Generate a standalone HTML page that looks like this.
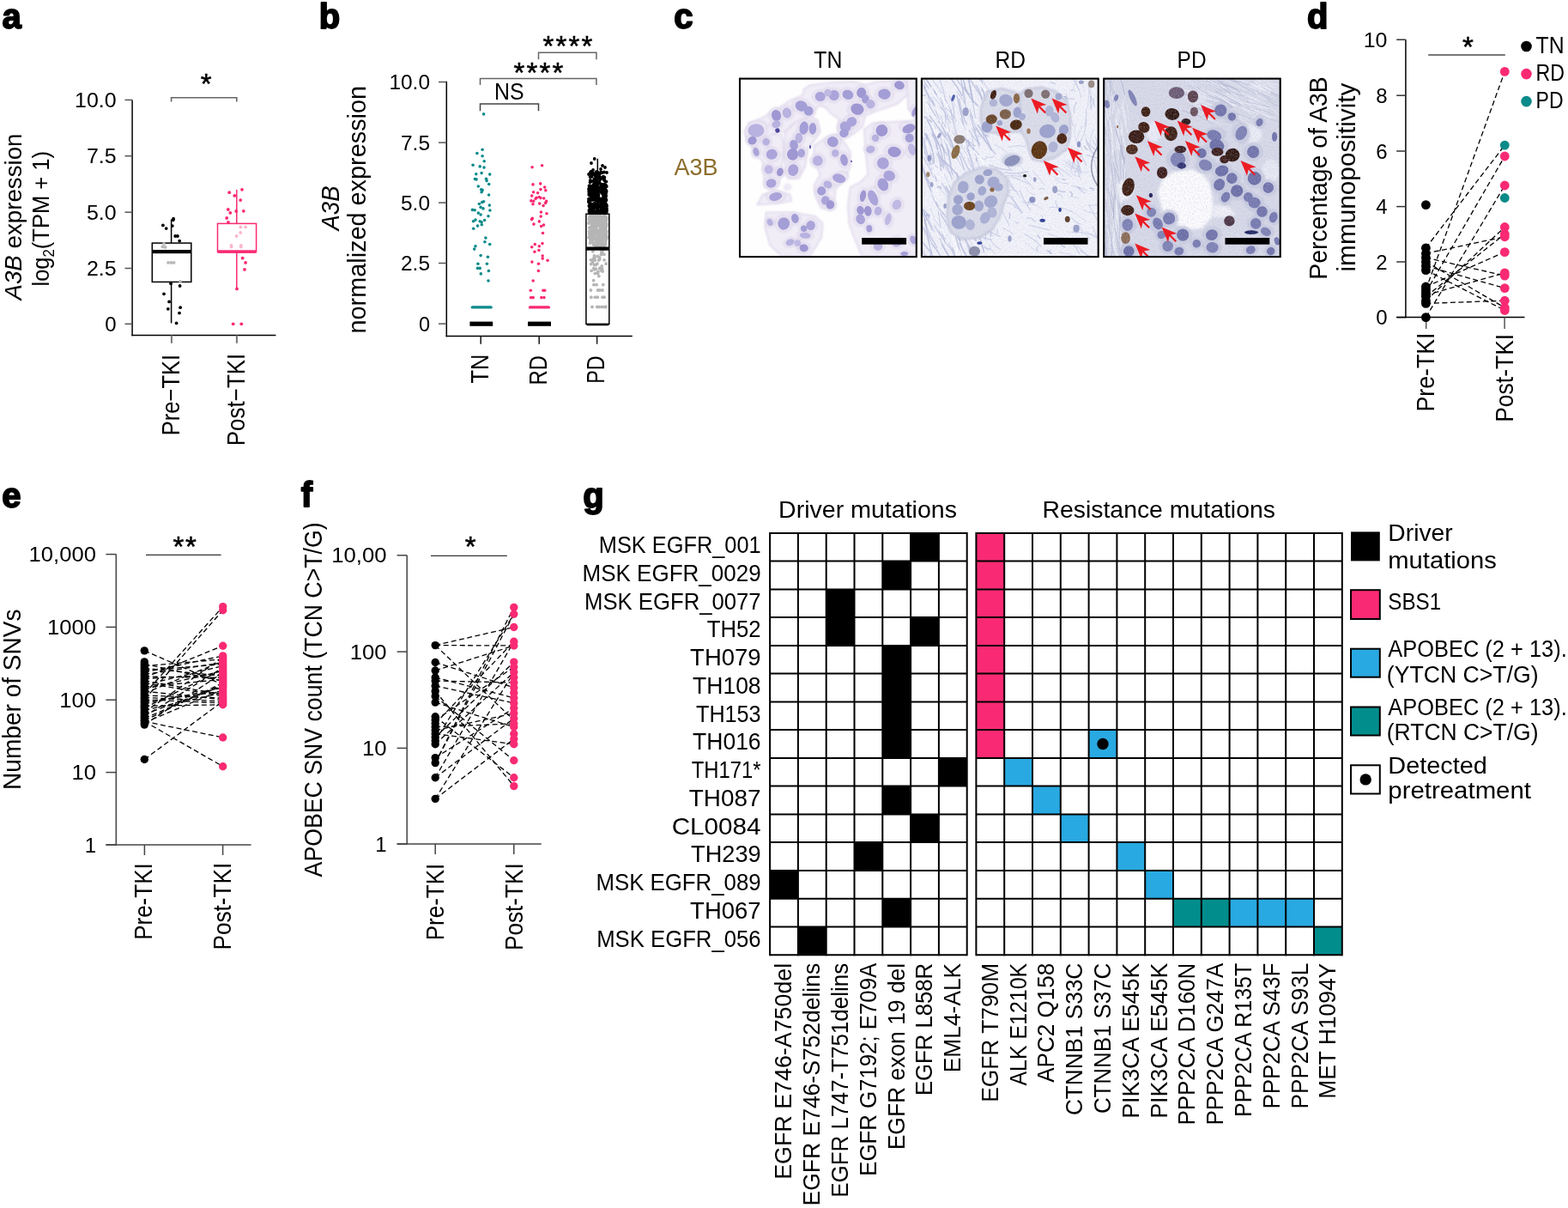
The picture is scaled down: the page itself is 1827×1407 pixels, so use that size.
<!DOCTYPE html>
<html><head><meta charset="utf-8"><title>Figure</title>
<style>html,body{margin:0;padding:0;background:#fff;} svg{display:block;} text{font-family:"Liberation Sans", Arial, sans-serif;}</style>
</head><body>
<svg width="1827" height="1407" viewBox="0 0 1827 1407">
<rect width="1827" height="1407" fill="#fff"/>
<text x="2.5" y="33.0" font-size="40" font-weight="bold" stroke="#000" stroke-width="1.8" stroke-linejoin="round">a</text>
<line x1="154.1" y1="116.4" x2="154.1" y2="391.2" stroke="#000" stroke-width="1.5"/>
<line x1="145.5" y1="116.4" x2="154.1" y2="116.4" stroke="#555" stroke-width="1.5"/>
<text x="135.6" y="124.9" font-size="24" text-anchor="end" textLength="48.6" lengthAdjust="spacingAndGlyphs">10.0</text>
<line x1="145.5" y1="181.7" x2="154.1" y2="181.7" stroke="#555" stroke-width="1.5"/>
<text x="135.6" y="190.2" font-size="24" text-anchor="end" textLength="34.7" lengthAdjust="spacingAndGlyphs">7.5</text>
<line x1="145.5" y1="247.2" x2="154.1" y2="247.2" stroke="#555" stroke-width="1.5"/>
<text x="135.6" y="255.7" font-size="24" text-anchor="end" textLength="34.7" lengthAdjust="spacingAndGlyphs">5.0</text>
<line x1="145.5" y1="312.5" x2="154.1" y2="312.5" stroke="#555" stroke-width="1.5"/>
<text x="135.6" y="321.0" font-size="24" text-anchor="end" textLength="34.7" lengthAdjust="spacingAndGlyphs">2.5</text>
<line x1="145.5" y1="377.3" x2="154.1" y2="377.3" stroke="#555" stroke-width="1.5"/>
<text x="135.6" y="385.8" font-size="24" text-anchor="end">0</text>
<line x1="153.4" y1="390.5" x2="321.4" y2="390.5" stroke="#000" stroke-width="1.5"/>
<line x1="199.9" y1="390.5" x2="199.9" y2="399.8" stroke="#777" stroke-width="2"/>
<line x1="275.9" y1="390.5" x2="275.9" y2="399.8" stroke="#777" stroke-width="2"/>
<text x="208.8" y="507.3" font-size="29" transform="rotate(-90 208.8 507.3)" textLength="94.5" lengthAdjust="spacingAndGlyphs">Pre−TKI</text>
<text x="285.0" y="519.2" font-size="29" transform="rotate(-90 285.0 519.2)" textLength="107.5" lengthAdjust="spacingAndGlyphs">Post−TKI</text>
<text x="24.6" y="349.5" font-size="27.5" transform="rotate(-90 24.6 349.5)" textLength="194" lengthAdjust="spacingAndGlyphs"><tspan font-style="italic">A3B</tspan> expression</text>
<text x="56.7" y="333.5" font-size="27.5" transform="rotate(-90 56.7 333.5)" textLength="157.5" lengthAdjust="spacingAndGlyphs">log<tspan font-size="18" dy="6">2</tspan><tspan dy="-6">(TPM + 1)</tspan></text>
<path d="M199.6 118.6 V113.7 H275.8 V118.6" fill="none" stroke="#666" stroke-width="1.6"/>
<text x="240.2" y="109.4" font-size="33" text-anchor="middle" stroke="#000" stroke-width="0.5">*</text>
<line x1="199.6" y1="255.4" x2="199.6" y2="376.4" stroke="#000" stroke-width="1.5"/>
<rect x="177.3" y="283.1" width="45.5" height="45.3" fill="#fff" stroke="#000" stroke-width="1.5"/>
<circle cx="191.0" cy="284.0" r="1.9" fill="#b8b8b8"/>
<circle cx="192.6" cy="288.0" r="1.9" fill="#b8b8b8"/>
<circle cx="189.4" cy="287.5" r="1.9" fill="#b8b8b8"/>
<circle cx="196.0" cy="305.9" r="1.9" fill="#b8b8b8"/>
<circle cx="199.4" cy="305.9" r="1.9" fill="#b8b8b8"/>
<circle cx="202.6" cy="305.9" r="1.9" fill="#b8b8b8"/>
<circle cx="210.0" cy="328.0" r="1.9" fill="#b8b8b8"/>
<circle cx="202.1" cy="254.7" r="1.9" fill="#000"/>
<circle cx="201.7" cy="256.3" r="1.9" fill="#000"/>
<circle cx="189.9" cy="262.4" r="1.9" fill="#000"/>
<circle cx="200.8" cy="263.1" r="1.9" fill="#000"/>
<circle cx="193.7" cy="266.1" r="1.9" fill="#000"/>
<circle cx="204.2" cy="275.0" r="1.9" fill="#000"/>
<circle cx="206.9" cy="275.0" r="1.9" fill="#000"/>
<circle cx="209.2" cy="280.6" r="1.9" fill="#000"/>
<circle cx="199.0" cy="330.2" r="1.9" fill="#000"/>
<circle cx="209.6" cy="333.0" r="1.9" fill="#000"/>
<circle cx="191.0" cy="342.3" r="1.9" fill="#000"/>
<circle cx="197.1" cy="351.4" r="1.9" fill="#000"/>
<circle cx="195.8" cy="359.8" r="1.9" fill="#000"/>
<circle cx="210.1" cy="358.2" r="1.9" fill="#000"/>
<circle cx="209.0" cy="364.6" r="1.9" fill="#000"/>
<circle cx="205.6" cy="376.4" r="1.9" fill="#000"/>
<rect x="177.3" y="291.0" width="45.5" height="4.2" fill="#000"/>
<line x1="275.8" y1="221.0" x2="275.8" y2="336.4" stroke="#f92a73" stroke-width="1.5"/>
<rect x="253.5" y="260.4" width="45.1" height="32.7" fill="#fff" stroke="#f92a73" stroke-width="1.5"/>
<circle cx="280.4" cy="264.5" r="1.9" fill="#fbb6cf"/>
<circle cx="286.1" cy="264.5" r="1.9" fill="#fbb6cf"/>
<circle cx="280.2" cy="271.0" r="1.9" fill="#fbb6cf"/>
<circle cx="275.6" cy="275.0" r="1.9" fill="#fbb6cf"/>
<circle cx="269.5" cy="285.9" r="1.9" fill="#fbb6cf"/>
<circle cx="280.8" cy="285.9" r="1.9" fill="#fbb6cf"/>
<circle cx="269.5" cy="287.5" r="1.9" fill="#fbb6cf"/>
<circle cx="280.8" cy="287.5" r="1.9" fill="#fbb6cf"/>
<circle cx="282.0" cy="220.8" r="1.9" fill="#f92a73"/>
<circle cx="267.2" cy="224.2" r="1.9" fill="#f92a73"/>
<circle cx="273.3" cy="227.9" r="1.9" fill="#f92a73"/>
<circle cx="280.2" cy="233.1" r="1.9" fill="#f92a73"/>
<circle cx="265.8" cy="244.0" r="1.9" fill="#f92a73"/>
<circle cx="268.3" cy="247.9" r="1.9" fill="#f92a73"/>
<circle cx="275.2" cy="246.0" r="1.9" fill="#f92a73"/>
<circle cx="283.8" cy="245.8" r="1.9" fill="#f92a73"/>
<circle cx="264.2" cy="254.0" r="1.9" fill="#f92a73"/>
<circle cx="266.0" cy="259.0" r="1.9" fill="#f92a73"/>
<circle cx="282.7" cy="300.7" r="1.9" fill="#f92a73"/>
<circle cx="286.1" cy="305.9" r="1.9" fill="#f92a73"/>
<circle cx="285.0" cy="313.9" r="1.9" fill="#f92a73"/>
<circle cx="276.0" cy="336.4" r="1.9" fill="#f92a73"/>
<circle cx="271.7" cy="377.3" r="1.9" fill="#f92a73"/>
<circle cx="281.3" cy="377.3" r="1.9" fill="#f92a73"/>
<rect x="253.5" y="291.3" width="45.1" height="3.6" fill="#f92a73"/>
<text x="371.8" y="33.0" font-size="40" font-weight="bold" stroke="#000" stroke-width="1.8" stroke-linejoin="round">b</text>
<line x1="520.3" y1="94.8" x2="520.3" y2="392.2" stroke="#000" stroke-width="1.5"/>
<line x1="511.0" y1="95.5" x2="520.3" y2="95.5" stroke="#555" stroke-width="1.5"/>
<text x="501.0" y="104.0" font-size="23.5" text-anchor="end" textLength="47.6" lengthAdjust="spacingAndGlyphs">10.0</text>
<line x1="511.0" y1="166.1" x2="520.3" y2="166.1" stroke="#555" stroke-width="1.5"/>
<text x="501.0" y="174.6" font-size="23.5" text-anchor="end" textLength="34.0" lengthAdjust="spacingAndGlyphs">7.5</text>
<line x1="511.0" y1="236.1" x2="520.3" y2="236.1" stroke="#555" stroke-width="1.5"/>
<text x="501.0" y="244.6" font-size="23.5" text-anchor="end" textLength="34.0" lengthAdjust="spacingAndGlyphs">5.0</text>
<line x1="511.0" y1="306.5" x2="520.3" y2="306.5" stroke="#555" stroke-width="1.5"/>
<text x="501.0" y="315.0" font-size="23.5" text-anchor="end" textLength="34.0" lengthAdjust="spacingAndGlyphs">2.5</text>
<line x1="511.0" y1="377.1" x2="520.3" y2="377.1" stroke="#555" stroke-width="1.5"/>
<text x="501.0" y="385.6" font-size="23.5" text-anchor="end">0</text>
<line x1="519.6" y1="391.5" x2="736.8" y2="391.5" stroke="#000" stroke-width="1.5"/>
<line x1="560.2" y1="391.5" x2="560.2" y2="400.7" stroke="#222" stroke-width="1.6"/>
<line x1="628.2" y1="391.5" x2="628.2" y2="400.7" stroke="#222" stroke-width="1.6"/>
<line x1="695.6" y1="391.5" x2="695.6" y2="400.7" stroke="#222" stroke-width="1.6"/>
<text x="569.1" y="446.6" font-size="29" transform="rotate(-90 569.1 446.6)" textLength="34.0" lengthAdjust="spacingAndGlyphs">TN</text>
<text x="637.0" y="448.6" font-size="29" transform="rotate(-90 637.0 448.6)" textLength="34.5" lengthAdjust="spacingAndGlyphs">RD</text>
<text x="704.5" y="446.8" font-size="29" transform="rotate(-90 704.5 446.8)" textLength="32.5" lengthAdjust="spacingAndGlyphs">PD</text>
<text x="394.5" y="242.5" font-size="29" text-anchor="middle" transform="rotate(-90 394.5 242.5)" textLength="52.0" lengthAdjust="spacingAndGlyphs" font-style="italic">A3B</text>
<text x="425.6" y="244.2" font-size="29" text-anchor="middle" transform="rotate(-90 425.6 244.2)" textLength="288.5" lengthAdjust="spacingAndGlyphs">normalized expression</text>
<path d="M559.5 129.2 V121 H627.5 V129.2" fill="none" stroke="#444" stroke-width="1.5"/>
<path d="M559.5 99.1 V91.6 H694.9 V99.1" fill="none" stroke="#666" stroke-width="1.5"/>
<path d="M627.5 69.3 V61.2 H694.9 V69.3" fill="none" stroke="#666" stroke-width="1.5"/>
<text x="593.3" y="116.1" font-size="28.5" text-anchor="middle" textLength="34.5" lengthAdjust="spacingAndGlyphs">NS</text>
<text x="605.0" y="96.0" font-size="33" text-anchor="middle" stroke="#000" stroke-width="0.5">*</text>
<text x="638.8" y="65.2" font-size="33" text-anchor="middle" stroke="#000" stroke-width="0.5">*</text>
<text x="620.0" y="96.0" font-size="33" text-anchor="middle" stroke="#000" stroke-width="0.5">*</text>
<text x="653.8" y="65.2" font-size="33" text-anchor="middle" stroke="#000" stroke-width="0.5">*</text>
<text x="635.0" y="96.0" font-size="33" text-anchor="middle" stroke="#000" stroke-width="0.5">*</text>
<text x="668.8" y="65.2" font-size="33" text-anchor="middle" stroke="#000" stroke-width="0.5">*</text>
<text x="650.0" y="96.0" font-size="33" text-anchor="middle" stroke="#000" stroke-width="0.5">*</text>
<text x="683.8" y="65.2" font-size="33" text-anchor="middle" stroke="#000" stroke-width="0.5">*</text>
<circle cx="563.6" cy="132.9" r="1.8" fill="#0a8a8a"/>
<circle cx="562.1" cy="174.3" r="1.8" fill="#0a8a8a"/>
<circle cx="555.9" cy="178.6" r="1.8" fill="#0a8a8a"/>
<circle cx="562.1" cy="181.8" r="1.8" fill="#0a8a8a"/>
<circle cx="564.2" cy="187.8" r="1.8" fill="#0a8a8a"/>
<circle cx="551.1" cy="192.2" r="1.8" fill="#0a8a8a"/>
<circle cx="559.2" cy="193.9" r="1.8" fill="#0a8a8a"/>
<circle cx="564.0" cy="195.1" r="1.8" fill="#0a8a8a"/>
<circle cx="554.8" cy="202.8" r="1.8" fill="#0a8a8a"/>
<circle cx="561.1" cy="201.6" r="1.8" fill="#0a8a8a"/>
<circle cx="570.7" cy="203.1" r="1.8" fill="#0a8a8a"/>
<circle cx="553.4" cy="208.5" r="1.8" fill="#0a8a8a"/>
<circle cx="555.0" cy="208.9" r="1.8" fill="#0a8a8a"/>
<circle cx="566.5" cy="208.3" r="1.8" fill="#0a8a8a"/>
<circle cx="567.1" cy="210.6" r="1.8" fill="#0a8a8a"/>
<circle cx="569.7" cy="214.5" r="1.8" fill="#0a8a8a"/>
<circle cx="557.3" cy="217.0" r="1.8" fill="#0a8a8a"/>
<circle cx="560.7" cy="220.8" r="1.8" fill="#0a8a8a"/>
<circle cx="562.1" cy="221.4" r="1.8" fill="#0a8a8a"/>
<circle cx="561.1" cy="223.7" r="1.8" fill="#0a8a8a"/>
<circle cx="569.6" cy="227.0" r="1.8" fill="#0a8a8a"/>
<circle cx="563.6" cy="234.8" r="1.8" fill="#0a8a8a"/>
<circle cx="561.7" cy="235.6" r="1.8" fill="#0a8a8a"/>
<circle cx="558.4" cy="237.5" r="1.8" fill="#0a8a8a"/>
<circle cx="570.3" cy="239.1" r="1.8" fill="#0a8a8a"/>
<circle cx="560.1" cy="241.4" r="1.8" fill="#0a8a8a"/>
<circle cx="563.0" cy="242.9" r="1.8" fill="#0a8a8a"/>
<circle cx="550.5" cy="244.4" r="1.8" fill="#0a8a8a"/>
<circle cx="553.2" cy="244.8" r="1.8" fill="#0a8a8a"/>
<circle cx="570.9" cy="245.0" r="1.8" fill="#0a8a8a"/>
<circle cx="557.3" cy="248.1" r="1.8" fill="#0a8a8a"/>
<circle cx="560.1" cy="250.0" r="1.8" fill="#0a8a8a"/>
<circle cx="569.0" cy="251.7" r="1.8" fill="#0a8a8a"/>
<circle cx="554.0" cy="256.1" r="1.8" fill="#0a8a8a"/>
<circle cx="551.5" cy="257.7" r="1.8" fill="#0a8a8a"/>
<circle cx="559.2" cy="257.7" r="1.8" fill="#0a8a8a"/>
<circle cx="564.6" cy="256.5" r="1.8" fill="#0a8a8a"/>
<circle cx="561.1" cy="258.8" r="1.8" fill="#0a8a8a"/>
<circle cx="561.3" cy="261.7" r="1.8" fill="#0a8a8a"/>
<circle cx="556.5" cy="263.1" r="1.8" fill="#0a8a8a"/>
<circle cx="551.7" cy="266.3" r="1.8" fill="#0a8a8a"/>
<circle cx="565.9" cy="277.1" r="1.8" fill="#0a8a8a"/>
<circle cx="564.9" cy="281.7" r="1.8" fill="#0a8a8a"/>
<circle cx="570.7" cy="284.6" r="1.8" fill="#0a8a8a"/>
<circle cx="554.0" cy="286.7" r="1.8" fill="#0a8a8a"/>
<circle cx="552.7" cy="290.1" r="1.8" fill="#0a8a8a"/>
<circle cx="560.1" cy="297.6" r="1.8" fill="#0a8a8a"/>
<circle cx="568.4" cy="299.2" r="1.8" fill="#0a8a8a"/>
<circle cx="556.9" cy="307.2" r="1.8" fill="#0a8a8a"/>
<circle cx="567.4" cy="307.2" r="1.8" fill="#0a8a8a"/>
<circle cx="556.5" cy="312.4" r="1.8" fill="#0a8a8a"/>
<circle cx="559.2" cy="312.4" r="1.8" fill="#0a8a8a"/>
<circle cx="569.4" cy="315.5" r="1.8" fill="#0a8a8a"/>
<circle cx="560.3" cy="318.9" r="1.8" fill="#0a8a8a"/>
<circle cx="569.0" cy="327.0" r="1.8" fill="#0a8a8a"/>
<circle cx="620.1" cy="194.7" r="1.8" fill="#f92a73"/>
<circle cx="631.6" cy="192.8" r="1.8" fill="#f92a73"/>
<circle cx="621.0" cy="214.9" r="1.8" fill="#f92a73"/>
<circle cx="629.7" cy="213.9" r="1.8" fill="#f92a73"/>
<circle cx="634.7" cy="218.1" r="1.8" fill="#f92a73"/>
<circle cx="629.9" cy="220.6" r="1.8" fill="#f92a73"/>
<circle cx="635.8" cy="221.8" r="1.8" fill="#f92a73"/>
<circle cx="621.6" cy="223.7" r="1.8" fill="#f92a73"/>
<circle cx="626.6" cy="224.8" r="1.8" fill="#f92a73"/>
<circle cx="619.7" cy="228.1" r="1.8" fill="#f92a73"/>
<circle cx="625.2" cy="230.2" r="1.8" fill="#f92a73"/>
<circle cx="628.3" cy="229.5" r="1.8" fill="#f92a73"/>
<circle cx="629.9" cy="230.6" r="1.8" fill="#f92a73"/>
<circle cx="633.7" cy="231.0" r="1.8" fill="#f92a73"/>
<circle cx="618.9" cy="233.9" r="1.8" fill="#f92a73"/>
<circle cx="621.6" cy="234.3" r="1.8" fill="#f92a73"/>
<circle cx="624.1" cy="231.4" r="1.8" fill="#f92a73"/>
<circle cx="636.6" cy="234.4" r="1.8" fill="#f92a73"/>
<circle cx="621.0" cy="237.7" r="1.8" fill="#f92a73"/>
<circle cx="628.7" cy="237.1" r="1.8" fill="#f92a73"/>
<circle cx="635.6" cy="236.4" r="1.8" fill="#f92a73"/>
<circle cx="633.1" cy="239.6" r="1.8" fill="#f92a73"/>
<circle cx="630.4" cy="247.1" r="1.8" fill="#f92a73"/>
<circle cx="637.0" cy="248.8" r="1.8" fill="#f92a73"/>
<circle cx="630.2" cy="252.1" r="1.8" fill="#f92a73"/>
<circle cx="620.3" cy="254.4" r="1.8" fill="#f92a73"/>
<circle cx="619.5" cy="255.6" r="1.8" fill="#f92a73"/>
<circle cx="628.3" cy="257.9" r="1.8" fill="#f92a73"/>
<circle cx="622.0" cy="261.1" r="1.8" fill="#f92a73"/>
<circle cx="633.5" cy="262.1" r="1.8" fill="#f92a73"/>
<circle cx="630.6" cy="263.6" r="1.8" fill="#f92a73"/>
<circle cx="632.5" cy="271.5" r="1.8" fill="#f92a73"/>
<circle cx="623.3" cy="284.6" r="1.8" fill="#f92a73"/>
<circle cx="632.0" cy="283.6" r="1.8" fill="#f92a73"/>
<circle cx="619.7" cy="287.8" r="1.8" fill="#f92a73"/>
<circle cx="628.3" cy="286.7" r="1.8" fill="#f92a73"/>
<circle cx="622.9" cy="293.2" r="1.8" fill="#f92a73"/>
<circle cx="627.9" cy="291.5" r="1.8" fill="#f92a73"/>
<circle cx="632.2" cy="298.0" r="1.8" fill="#f92a73"/>
<circle cx="632.2" cy="301.1" r="1.8" fill="#f92a73"/>
<circle cx="638.1" cy="303.2" r="1.8" fill="#f92a73"/>
<circle cx="619.9" cy="305.1" r="1.8" fill="#f92a73"/>
<circle cx="627.5" cy="307.2" r="1.8" fill="#f92a73"/>
<circle cx="627.4" cy="315.5" r="1.8" fill="#f92a73"/>
<circle cx="621.2" cy="327.0" r="1.8" fill="#f92a73"/>
<circle cx="618.3" cy="338.3" r="1.8" fill="#f92a73"/>
<circle cx="632.9" cy="338.3" r="1.8" fill="#f92a73"/>
<circle cx="634.7" cy="338.3" r="1.8" fill="#f92a73"/>
<circle cx="618.7" cy="346.6" r="1.8" fill="#f92a73"/>
<circle cx="621.2" cy="346.6" r="1.8" fill="#f92a73"/>
<circle cx="630.8" cy="346.6" r="1.8" fill="#f92a73"/>
<circle cx="633.9" cy="346.6" r="1.8" fill="#f92a73"/>
<line x1="550.2" y1="357.9" x2="572.2" y2="357.9" stroke="#0a8a8a" stroke-width="3.2" stroke-linecap="round"/>
<line x1="617.4" y1="357.9" x2="639.5" y2="357.9" stroke="#f92a73" stroke-width="3.2" stroke-linecap="round"/>
<rect x="547.4" y="374.6" width="26.8" height="5.2" fill="#000"/>
<rect x="615.1" y="374.6" width="26.9" height="5.2" fill="#000"/>
<line x1="696.3" y1="184.8" x2="696.3" y2="249.2" stroke="#000" stroke-width="1.5"/>
<circle cx="692.7" cy="185.0" r="1.9" fill="#000"/>
<circle cx="689.0" cy="190.0" r="1.9" fill="#000"/>
<circle cx="702.0" cy="193.0" r="1.9" fill="#000"/>
<circle cx="705.0" cy="195.0" r="1.9" fill="#000"/>
<circle cx="688.5" cy="200.0" r="1.9" fill="#000"/>
<circle cx="691.0" cy="198.0" r="1.9" fill="#000"/>
<circle cx="700.0" cy="197.0" r="1.9" fill="#000"/>
<circle cx="707.0" cy="201.0" r="1.9" fill="#000"/>
<circle cx="686.0" cy="203.0" r="1.9" fill="#000"/>
<circle cx="689.5" cy="205.8" r="1.9" fill="#000"/>
<circle cx="687.9" cy="211.7" r="1.9" fill="#000"/>
<circle cx="693.8" cy="209.6" r="1.9" fill="#000"/>
<circle cx="696.6" cy="201.0" r="1.9" fill="#000"/>
<circle cx="695.2" cy="200.7" r="1.9" fill="#000"/>
<circle cx="688.3" cy="201.3" r="1.9" fill="#000"/>
<circle cx="703.0" cy="207.6" r="1.9" fill="#000"/>
<circle cx="691.0" cy="202.2" r="1.9" fill="#000"/>
<circle cx="705.5" cy="211.3" r="1.9" fill="#000"/>
<circle cx="694.4" cy="210.4" r="1.9" fill="#000"/>
<circle cx="687.4" cy="217.6" r="1.9" fill="#000"/>
<circle cx="692.3" cy="215.5" r="1.9" fill="#000"/>
<circle cx="688.9" cy="202.6" r="1.9" fill="#000"/>
<circle cx="702.8" cy="205.6" r="1.9" fill="#000"/>
<circle cx="698.1" cy="203.3" r="1.9" fill="#000"/>
<circle cx="693.9" cy="211.5" r="1.9" fill="#000"/>
<circle cx="687.8" cy="209.9" r="1.9" fill="#000"/>
<circle cx="690.6" cy="201.1" r="1.9" fill="#000"/>
<circle cx="695.1" cy="212.2" r="1.9" fill="#000"/>
<circle cx="698.2" cy="205.7" r="1.9" fill="#000"/>
<circle cx="692.5" cy="208.2" r="1.9" fill="#000"/>
<circle cx="700.5" cy="214.3" r="1.9" fill="#000"/>
<circle cx="698.0" cy="204.4" r="1.9" fill="#000"/>
<circle cx="704.0" cy="209.5" r="1.9" fill="#000"/>
<circle cx="692.3" cy="213.1" r="1.9" fill="#000"/>
<circle cx="688.9" cy="217.6" r="1.9" fill="#000"/>
<circle cx="701.6" cy="207.5" r="1.9" fill="#000"/>
<circle cx="696.3" cy="202.7" r="1.9" fill="#000"/>
<circle cx="699.9" cy="200.7" r="1.9" fill="#000"/>
<circle cx="698.0" cy="213.8" r="1.9" fill="#000"/>
<circle cx="692.8" cy="215.8" r="1.9" fill="#000"/>
<circle cx="698.4" cy="212.5" r="1.9" fill="#000"/>
<circle cx="695.6" cy="210.4" r="1.9" fill="#000"/>
<circle cx="705.4" cy="215.1" r="1.9" fill="#000"/>
<circle cx="699.8" cy="208.5" r="1.9" fill="#000"/>
<circle cx="700.5" cy="201.1" r="1.9" fill="#000"/>
<circle cx="706.4" cy="211.6" r="1.9" fill="#000"/>
<circle cx="692.2" cy="214.8" r="1.9" fill="#000"/>
<circle cx="699.9" cy="206.9" r="1.9" fill="#000"/>
<circle cx="695.7" cy="200.4" r="1.9" fill="#000"/>
<circle cx="688.8" cy="203.0" r="1.9" fill="#000"/>
<circle cx="701.9" cy="201.1" r="1.9" fill="#000"/>
<circle cx="691.5" cy="202.3" r="1.9" fill="#000"/>
<circle cx="703.9" cy="207.0" r="1.9" fill="#000"/>
<circle cx="695.5" cy="201.5" r="1.9" fill="#000"/>
<circle cx="704.2" cy="209.9" r="1.9" fill="#000"/>
<circle cx="703.8" cy="214.7" r="1.9" fill="#000"/>
<circle cx="694.8" cy="205.0" r="1.9" fill="#000"/>
<circle cx="704.2" cy="206.5" r="1.9" fill="#000"/>
<circle cx="689.5" cy="217.2" r="1.9" fill="#000"/>
<circle cx="691.1" cy="203.2" r="1.9" fill="#000"/>
<circle cx="696.2" cy="204.2" r="1.9" fill="#000"/>
<circle cx="691.8" cy="210.6" r="1.9" fill="#000"/>
<circle cx="694.9" cy="200.1" r="1.9" fill="#000"/>
<circle cx="697.8" cy="206.6" r="1.9" fill="#000"/>
<circle cx="700.3" cy="217.2" r="1.9" fill="#000"/>
<circle cx="698.9" cy="209.3" r="1.9" fill="#000"/>
<circle cx="687.6" cy="212.2" r="1.9" fill="#000"/>
<circle cx="702.1" cy="216.2" r="1.9" fill="#000"/>
<circle cx="702.5" cy="215.7" r="1.9" fill="#000"/>
<circle cx="694.5" cy="207.1" r="1.9" fill="#000"/>
<circle cx="699.2" cy="201.9" r="1.9" fill="#000"/>
<circle cx="687.8" cy="201.1" r="1.9" fill="#000"/>
<circle cx="689.7" cy="203.8" r="1.9" fill="#000"/>
<circle cx="687.6" cy="206.1" r="1.9" fill="#000"/>
<circle cx="689.5" cy="200.0" r="1.9" fill="#000"/>
<circle cx="693.8" cy="201.8" r="1.9" fill="#000"/>
<circle cx="704.0" cy="200.5" r="1.9" fill="#000"/>
<circle cx="689.5" cy="211.1" r="1.9" fill="#000"/>
<circle cx="693.4" cy="204.5" r="1.9" fill="#000"/>
<circle cx="688.6" cy="227.4" r="1.9" fill="#000"/>
<circle cx="706.9" cy="243.9" r="1.9" fill="#000"/>
<circle cx="696.2" cy="230.8" r="1.9" fill="#000"/>
<circle cx="688.1" cy="217.9" r="1.9" fill="#000"/>
<circle cx="691.6" cy="226.6" r="1.9" fill="#000"/>
<circle cx="689.4" cy="243.2" r="1.9" fill="#000"/>
<circle cx="706.0" cy="215.8" r="1.9" fill="#000"/>
<circle cx="689.1" cy="233.0" r="1.9" fill="#000"/>
<circle cx="686.6" cy="233.5" r="1.9" fill="#000"/>
<circle cx="706.5" cy="233.0" r="1.9" fill="#000"/>
<circle cx="700.6" cy="244.4" r="1.9" fill="#000"/>
<circle cx="693.7" cy="223.9" r="1.9" fill="#000"/>
<circle cx="702.2" cy="220.7" r="1.9" fill="#000"/>
<circle cx="702.4" cy="233.1" r="1.9" fill="#000"/>
<circle cx="690.7" cy="226.2" r="1.9" fill="#000"/>
<circle cx="706.7" cy="242.6" r="1.9" fill="#000"/>
<circle cx="702.9" cy="244.0" r="1.9" fill="#000"/>
<circle cx="701.5" cy="242.8" r="1.9" fill="#000"/>
<circle cx="696.9" cy="222.7" r="1.9" fill="#000"/>
<circle cx="686.6" cy="227.1" r="1.9" fill="#000"/>
<circle cx="691.9" cy="215.9" r="1.9" fill="#000"/>
<circle cx="700.5" cy="223.8" r="1.9" fill="#000"/>
<circle cx="695.4" cy="247.5" r="1.9" fill="#000"/>
<circle cx="706.7" cy="246.9" r="1.9" fill="#000"/>
<circle cx="693.7" cy="247.5" r="1.9" fill="#000"/>
<circle cx="690.8" cy="222.5" r="1.9" fill="#000"/>
<circle cx="690.3" cy="221.7" r="1.9" fill="#000"/>
<circle cx="704.9" cy="236.2" r="1.9" fill="#000"/>
<circle cx="696.1" cy="243.6" r="1.9" fill="#000"/>
<circle cx="702.8" cy="237.2" r="1.9" fill="#000"/>
<circle cx="699.9" cy="217.9" r="1.9" fill="#000"/>
<circle cx="702.4" cy="245.9" r="1.9" fill="#000"/>
<circle cx="696.0" cy="240.5" r="1.9" fill="#000"/>
<circle cx="702.6" cy="221.1" r="1.9" fill="#000"/>
<circle cx="702.8" cy="226.3" r="1.9" fill="#000"/>
<circle cx="694.3" cy="248.0" r="1.9" fill="#000"/>
<circle cx="705.9" cy="228.6" r="1.9" fill="#000"/>
<circle cx="689.6" cy="239.6" r="1.9" fill="#000"/>
<circle cx="689.2" cy="219.3" r="1.9" fill="#000"/>
<circle cx="702.9" cy="245.8" r="1.9" fill="#000"/>
<circle cx="703.4" cy="220.0" r="1.9" fill="#000"/>
<circle cx="699.8" cy="248.3" r="1.9" fill="#000"/>
<circle cx="697.5" cy="226.9" r="1.9" fill="#000"/>
<circle cx="686.3" cy="219.5" r="1.9" fill="#000"/>
<circle cx="699.6" cy="248.0" r="1.9" fill="#000"/>
<circle cx="705.6" cy="232.9" r="1.9" fill="#000"/>
<circle cx="704.3" cy="229.7" r="1.9" fill="#000"/>
<circle cx="690.4" cy="243.1" r="1.9" fill="#000"/>
<circle cx="692.2" cy="223.6" r="1.9" fill="#000"/>
<circle cx="698.3" cy="223.2" r="1.9" fill="#000"/>
<circle cx="694.8" cy="223.8" r="1.9" fill="#000"/>
<circle cx="705.1" cy="219.5" r="1.9" fill="#000"/>
<circle cx="695.6" cy="227.0" r="1.9" fill="#000"/>
<circle cx="705.0" cy="234.8" r="1.9" fill="#000"/>
<circle cx="705.3" cy="229.3" r="1.9" fill="#000"/>
<circle cx="697.2" cy="232.1" r="1.9" fill="#000"/>
<circle cx="686.4" cy="232.8" r="1.9" fill="#000"/>
<circle cx="689.8" cy="230.0" r="1.9" fill="#000"/>
<circle cx="702.8" cy="215.1" r="1.9" fill="#000"/>
<circle cx="695.9" cy="220.9" r="1.9" fill="#000"/>
<circle cx="697.7" cy="239.7" r="1.9" fill="#000"/>
<circle cx="696.9" cy="226.1" r="1.9" fill="#000"/>
<circle cx="702.5" cy="233.9" r="1.9" fill="#000"/>
<circle cx="697.8" cy="218.6" r="1.9" fill="#000"/>
<circle cx="691.8" cy="223.4" r="1.9" fill="#000"/>
<circle cx="696.7" cy="241.3" r="1.9" fill="#000"/>
<circle cx="702.0" cy="234.1" r="1.9" fill="#000"/>
<circle cx="695.3" cy="246.0" r="1.9" fill="#000"/>
<circle cx="696.6" cy="235.8" r="1.9" fill="#000"/>
<circle cx="700.5" cy="232.4" r="1.9" fill="#000"/>
<circle cx="697.2" cy="230.4" r="1.9" fill="#000"/>
<circle cx="705.8" cy="231.3" r="1.9" fill="#000"/>
<circle cx="704.4" cy="238.8" r="1.9" fill="#000"/>
<circle cx="691.5" cy="247.0" r="1.9" fill="#000"/>
<circle cx="705.8" cy="234.0" r="1.9" fill="#000"/>
<circle cx="688.9" cy="243.6" r="1.9" fill="#000"/>
<circle cx="695.3" cy="219.1" r="1.9" fill="#000"/>
<circle cx="691.1" cy="217.5" r="1.9" fill="#000"/>
<circle cx="700.1" cy="217.5" r="1.9" fill="#000"/>
<circle cx="704.8" cy="241.7" r="1.9" fill="#000"/>
<circle cx="701.0" cy="220.3" r="1.9" fill="#000"/>
<circle cx="689.0" cy="237.4" r="1.9" fill="#000"/>
<circle cx="706.3" cy="245.0" r="1.9" fill="#000"/>
<circle cx="706.0" cy="222.5" r="1.9" fill="#000"/>
<circle cx="696.2" cy="228.5" r="1.9" fill="#000"/>
<circle cx="703.5" cy="248.7" r="1.9" fill="#000"/>
<circle cx="695.1" cy="220.5" r="1.9" fill="#000"/>
<circle cx="693.1" cy="232.5" r="1.9" fill="#000"/>
<circle cx="692.7" cy="221.7" r="1.9" fill="#000"/>
<circle cx="686.4" cy="239.6" r="1.9" fill="#000"/>
<circle cx="695.2" cy="233.8" r="1.9" fill="#000"/>
<circle cx="693.0" cy="215.6" r="1.9" fill="#000"/>
<circle cx="696.8" cy="236.2" r="1.9" fill="#000"/>
<circle cx="706.7" cy="217.2" r="1.9" fill="#000"/>
<circle cx="706.4" cy="241.8" r="1.9" fill="#000"/>
<circle cx="691.6" cy="218.6" r="1.9" fill="#000"/>
<circle cx="702.4" cy="216.3" r="1.9" fill="#000"/>
<circle cx="688.7" cy="224.2" r="1.9" fill="#000"/>
<circle cx="705.1" cy="229.4" r="1.9" fill="#000"/>
<circle cx="691.4" cy="242.8" r="1.9" fill="#000"/>
<circle cx="705.3" cy="220.1" r="1.9" fill="#000"/>
<circle cx="700.7" cy="234.4" r="1.9" fill="#000"/>
<circle cx="687.2" cy="218.0" r="1.9" fill="#000"/>
<circle cx="694.9" cy="238.4" r="1.9" fill="#000"/>
<circle cx="705.7" cy="217.5" r="1.9" fill="#000"/>
<circle cx="702.8" cy="236.6" r="1.9" fill="#000"/>
<circle cx="704.0" cy="217.8" r="1.9" fill="#000"/>
<circle cx="704.1" cy="217.3" r="1.9" fill="#000"/>
<circle cx="693.1" cy="230.4" r="1.9" fill="#000"/>
<circle cx="705.5" cy="233.8" r="1.9" fill="#000"/>
<circle cx="688.7" cy="224.1" r="1.9" fill="#000"/>
<circle cx="691.0" cy="232.9" r="1.9" fill="#000"/>
<circle cx="689.4" cy="218.7" r="1.9" fill="#000"/>
<circle cx="690.2" cy="216.7" r="1.9" fill="#000"/>
<circle cx="692.4" cy="225.6" r="1.9" fill="#000"/>
<circle cx="692.1" cy="240.8" r="1.9" fill="#000"/>
<circle cx="689.7" cy="232.0" r="1.9" fill="#000"/>
<circle cx="686.4" cy="226.8" r="1.9" fill="#000"/>
<circle cx="686.3" cy="223.5" r="1.9" fill="#000"/>
<circle cx="697.6" cy="239.9" r="1.9" fill="#000"/>
<circle cx="696.0" cy="221.4" r="1.9" fill="#000"/>
<circle cx="688.2" cy="246.8" r="1.9" fill="#000"/>
<circle cx="695.1" cy="242.8" r="1.9" fill="#000"/>
<circle cx="703.5" cy="231.8" r="1.9" fill="#000"/>
<circle cx="696.6" cy="228.4" r="1.9" fill="#000"/>
<circle cx="706.6" cy="238.4" r="1.9" fill="#000"/>
<circle cx="703.5" cy="226.7" r="1.9" fill="#000"/>
<circle cx="699.4" cy="239.0" r="1.9" fill="#000"/>
<circle cx="693.3" cy="228.8" r="1.9" fill="#000"/>
<circle cx="688.7" cy="216.8" r="1.9" fill="#000"/>
<circle cx="701.6" cy="217.4" r="1.9" fill="#000"/>
<circle cx="689.4" cy="223.7" r="1.9" fill="#000"/>
<circle cx="703.7" cy="217.9" r="1.9" fill="#000"/>
<circle cx="700.1" cy="244.6" r="1.9" fill="#000"/>
<circle cx="691.1" cy="224.6" r="1.9" fill="#000"/>
<circle cx="695.6" cy="225.0" r="1.9" fill="#000"/>
<circle cx="695.4" cy="220.4" r="1.9" fill="#000"/>
<circle cx="706.2" cy="224.0" r="1.9" fill="#000"/>
<circle cx="697.5" cy="248.1" r="1.9" fill="#000"/>
<circle cx="706.3" cy="223.3" r="1.9" fill="#000"/>
<circle cx="693.5" cy="225.5" r="1.9" fill="#000"/>
<circle cx="694.0" cy="215.0" r="1.9" fill="#000"/>
<circle cx="696.6" cy="231.1" r="1.9" fill="#000"/>
<circle cx="696.6" cy="221.8" r="1.9" fill="#000"/>
<circle cx="691.5" cy="215.2" r="1.9" fill="#000"/>
<circle cx="694.4" cy="218.1" r="1.9" fill="#000"/>
<circle cx="686.5" cy="216.4" r="1.9" fill="#000"/>
<circle cx="690.9" cy="225.3" r="1.9" fill="#000"/>
<circle cx="697.1" cy="234.9" r="1.9" fill="#000"/>
<circle cx="699.8" cy="240.5" r="1.9" fill="#000"/>
<circle cx="704.5" cy="239.3" r="1.9" fill="#000"/>
<circle cx="692.8" cy="228.2" r="1.9" fill="#000"/>
<circle cx="689.1" cy="248.5" r="1.9" fill="#000"/>
<circle cx="699.5" cy="239.6" r="1.9" fill="#000"/>
<circle cx="703.5" cy="216.5" r="1.9" fill="#000"/>
<circle cx="699.2" cy="245.3" r="1.9" fill="#000"/>
<circle cx="703.1" cy="240.0" r="1.9" fill="#000"/>
<circle cx="697.0" cy="219.7" r="1.9" fill="#000"/>
<circle cx="703.5" cy="232.1" r="1.9" fill="#000"/>
<circle cx="703.4" cy="242.4" r="1.9" fill="#000"/>
<circle cx="704.7" cy="234.9" r="1.9" fill="#000"/>
<circle cx="700.6" cy="238.2" r="1.9" fill="#000"/>
<circle cx="686.7" cy="222.8" r="1.9" fill="#000"/>
<circle cx="693.6" cy="219.5" r="1.9" fill="#000"/>
<circle cx="703.6" cy="218.6" r="1.9" fill="#000"/>
<circle cx="699.2" cy="234.0" r="1.9" fill="#000"/>
<circle cx="700.3" cy="236.3" r="1.9" fill="#000"/>
<circle cx="686.1" cy="231.6" r="1.9" fill="#000"/>
<circle cx="701.7" cy="242.1" r="1.9" fill="#000"/>
<circle cx="697.2" cy="232.1" r="1.9" fill="#000"/>
<circle cx="687.4" cy="237.4" r="1.9" fill="#000"/>
<circle cx="691.3" cy="240.1" r="1.9" fill="#000"/>
<circle cx="691.6" cy="217.5" r="1.9" fill="#000"/>
<circle cx="690.3" cy="239.8" r="1.9" fill="#000"/>
<circle cx="706.5" cy="240.2" r="1.9" fill="#000"/>
<circle cx="694.0" cy="231.8" r="1.9" fill="#000"/>
<circle cx="700.4" cy="231.3" r="1.9" fill="#000"/>
<circle cx="699.0" cy="241.1" r="1.9" fill="#000"/>
<circle cx="687.6" cy="236.9" r="1.9" fill="#000"/>
<circle cx="691.3" cy="220.0" r="1.9" fill="#000"/>
<circle cx="692.4" cy="240.3" r="1.9" fill="#000"/>
<circle cx="686.3" cy="234.3" r="1.9" fill="#000"/>
<circle cx="691.6" cy="217.1" r="1.9" fill="#000"/>
<circle cx="700.5" cy="237.8" r="1.9" fill="#000"/>
<circle cx="692.1" cy="238.0" r="1.9" fill="#000"/>
<circle cx="695.8" cy="232.6" r="1.9" fill="#000"/>
<circle cx="688.5" cy="230.9" r="1.9" fill="#000"/>
<circle cx="690.2" cy="245.4" r="1.9" fill="#000"/>
<circle cx="705.7" cy="248.3" r="1.9" fill="#000"/>
<circle cx="695.6" cy="215.6" r="1.9" fill="#000"/>
<circle cx="706.3" cy="242.9" r="1.9" fill="#000"/>
<circle cx="691.6" cy="230.3" r="1.9" fill="#000"/>
<circle cx="705.9" cy="222.1" r="1.9" fill="#000"/>
<circle cx="698.2" cy="222.2" r="1.9" fill="#000"/>
<circle cx="697.0" cy="219.8" r="1.9" fill="#000"/>
<circle cx="688.8" cy="247.4" r="1.9" fill="#000"/>
<circle cx="696.7" cy="242.9" r="1.9" fill="#000"/>
<circle cx="700.8" cy="245.2" r="1.9" fill="#000"/>
<circle cx="704.9" cy="222.9" r="1.9" fill="#000"/>
<circle cx="686.5" cy="231.5" r="1.9" fill="#000"/>
<circle cx="696.3" cy="215.1" r="1.9" fill="#000"/>
<circle cx="692.3" cy="230.3" r="1.9" fill="#000"/>
<circle cx="693.2" cy="219.8" r="1.9" fill="#000"/>
<circle cx="703.6" cy="225.7" r="1.9" fill="#000"/>
<circle cx="701.8" cy="215.1" r="1.9" fill="#000"/>
<circle cx="688.5" cy="243.5" r="1.9" fill="#000"/>
<circle cx="701.0" cy="246.5" r="1.9" fill="#000"/>
<circle cx="692.1" cy="245.7" r="1.9" fill="#000"/>
<circle cx="694.3" cy="227.7" r="1.9" fill="#000"/>
<circle cx="698.4" cy="249.0" r="1.9" fill="#000"/>
<circle cx="695.0" cy="227.3" r="1.9" fill="#000"/>
<circle cx="687.0" cy="224.4" r="1.9" fill="#000"/>
<circle cx="703.5" cy="218.5" r="1.9" fill="#000"/>
<circle cx="705.6" cy="224.7" r="1.9" fill="#000"/>
<circle cx="691.6" cy="223.5" r="1.9" fill="#000"/>
<circle cx="690.0" cy="232.4" r="1.9" fill="#000"/>
<circle cx="706.1" cy="227.7" r="1.9" fill="#000"/>
<circle cx="703.1" cy="245.1" r="1.9" fill="#000"/>
<circle cx="705.2" cy="236.5" r="1.9" fill="#000"/>
<circle cx="697.5" cy="247.0" r="1.9" fill="#000"/>
<circle cx="687.0" cy="239.5" r="1.9" fill="#000"/>
<circle cx="695.5" cy="239.9" r="1.9" fill="#000"/>
<circle cx="699.5" cy="240.6" r="1.9" fill="#000"/>
<circle cx="687.0" cy="224.7" r="1.9" fill="#000"/>
<circle cx="688.7" cy="246.5" r="1.9" fill="#000"/>
<circle cx="693.2" cy="231.1" r="1.9" fill="#000"/>
<circle cx="701.5" cy="225.1" r="1.9" fill="#000"/>
<circle cx="691.5" cy="248.2" r="1.9" fill="#000"/>
<circle cx="692.3" cy="237.3" r="1.9" fill="#000"/>
<circle cx="694.3" cy="233.9" r="1.9" fill="#000"/>
<circle cx="689.4" cy="220.7" r="1.9" fill="#000"/>
<circle cx="705.0" cy="222.1" r="1.9" fill="#000"/>
<circle cx="690.6" cy="231.9" r="1.9" fill="#000"/>
<circle cx="706.9" cy="245.8" r="1.9" fill="#000"/>
<circle cx="688.9" cy="230.3" r="1.9" fill="#000"/>
<circle cx="687.9" cy="221.5" r="1.9" fill="#000"/>
<circle cx="687.9" cy="226.6" r="1.9" fill="#000"/>
<circle cx="691.4" cy="223.1" r="1.9" fill="#000"/>
<circle cx="704.6" cy="234.4" r="1.9" fill="#000"/>
<circle cx="694.7" cy="240.5" r="1.9" fill="#000"/>
<circle cx="697.0" cy="229.1" r="1.9" fill="#000"/>
<circle cx="693.1" cy="227.8" r="1.9" fill="#000"/>
<circle cx="691.8" cy="217.1" r="1.9" fill="#000"/>
<circle cx="688.6" cy="247.9" r="1.9" fill="#000"/>
<circle cx="699.2" cy="232.1" r="1.9" fill="#000"/>
<circle cx="690.5" cy="244.3" r="1.9" fill="#000"/>
<circle cx="691.2" cy="224.2" r="1.9" fill="#000"/>
<circle cx="695.4" cy="228.6" r="1.9" fill="#000"/>
<circle cx="703.8" cy="247.4" r="1.9" fill="#000"/>
<circle cx="686.5" cy="244.7" r="1.9" fill="#000"/>
<circle cx="700.9" cy="216.1" r="1.9" fill="#000"/>
<circle cx="695.9" cy="245.5" r="1.9" fill="#000"/>
<circle cx="686.0" cy="235.0" r="1.9" fill="#000"/>
<circle cx="705.5" cy="228.3" r="1.9" fill="#000"/>
<circle cx="704.0" cy="243.1" r="1.9" fill="#000"/>
<circle cx="691.2" cy="248.1" r="1.9" fill="#000"/>
<circle cx="689.2" cy="218.7" r="1.9" fill="#000"/>
<circle cx="700.3" cy="232.8" r="1.9" fill="#000"/>
<circle cx="701.2" cy="247.0" r="1.9" fill="#000"/>
<circle cx="702.1" cy="237.0" r="1.9" fill="#000"/>
<circle cx="697.6" cy="230.5" r="1.9" fill="#000"/>
<circle cx="702.4" cy="216.3" r="1.9" fill="#000"/>
<circle cx="705.3" cy="222.9" r="1.9" fill="#000"/>
<circle cx="692.4" cy="236.9" r="1.9" fill="#000"/>
<circle cx="691.3" cy="219.4" r="1.9" fill="#000"/>
<circle cx="700.7" cy="236.6" r="1.9" fill="#000"/>
<circle cx="687.5" cy="218.8" r="1.9" fill="#000"/>
<circle cx="698.2" cy="232.8" r="1.9" fill="#000"/>
<circle cx="690.7" cy="228.2" r="1.9" fill="#000"/>
<circle cx="686.2" cy="235.4" r="1.9" fill="#000"/>
<circle cx="695.7" cy="225.3" r="1.9" fill="#000"/>
<circle cx="699.5" cy="247.6" r="1.9" fill="#000"/>
<circle cx="696.0" cy="245.0" r="1.9" fill="#000"/>
<circle cx="691.2" cy="223.0" r="1.9" fill="#000"/>
<circle cx="700.8" cy="247.7" r="1.9" fill="#000"/>
<circle cx="686.5" cy="225.5" r="1.9" fill="#000"/>
<circle cx="700.2" cy="231.9" r="1.9" fill="#000"/>
<circle cx="691.4" cy="229.3" r="1.9" fill="#000"/>
<circle cx="705.4" cy="237.7" r="1.9" fill="#000"/>
<circle cx="686.7" cy="222.7" r="1.9" fill="#000"/>
<circle cx="694.8" cy="226.5" r="1.9" fill="#000"/>
<circle cx="690.2" cy="238.2" r="1.9" fill="#000"/>
<circle cx="701.5" cy="242.1" r="1.9" fill="#000"/>
<circle cx="690.3" cy="232.2" r="1.9" fill="#000"/>
<circle cx="692.5" cy="248.0" r="1.9" fill="#000"/>
<circle cx="690.8" cy="242.9" r="1.9" fill="#000"/>
<circle cx="702.0" cy="222.5" r="1.9" fill="#000"/>
<circle cx="706.0" cy="225.0" r="1.9" fill="#000"/>
<circle cx="689.9" cy="231.9" r="1.9" fill="#000"/>
<circle cx="694.8" cy="222.6" r="1.9" fill="#000"/>
<circle cx="705.9" cy="237.6" r="1.9" fill="#000"/>
<circle cx="694.3" cy="220.0" r="1.9" fill="#000"/>
<circle cx="706.5" cy="222.2" r="1.9" fill="#000"/>
<circle cx="687.1" cy="219.8" r="1.9" fill="#000"/>
<circle cx="694.3" cy="217.0" r="1.9" fill="#000"/>
<circle cx="704.6" cy="245.5" r="1.9" fill="#000"/>
<circle cx="706.9" cy="239.9" r="1.9" fill="#000"/>
<circle cx="692.9" cy="246.7" r="1.9" fill="#000"/>
<circle cx="705.7" cy="221.3" r="1.9" fill="#000"/>
<circle cx="686.7" cy="240.4" r="1.9" fill="#000"/>
<circle cx="694.0" cy="237.6" r="1.9" fill="#000"/>
<circle cx="693.0" cy="227.7" r="1.9" fill="#000"/>
<circle cx="686.1" cy="220.8" r="1.9" fill="#000"/>
<circle cx="693.4" cy="224.5" r="1.9" fill="#000"/>
<circle cx="688.6" cy="247.5" r="1.9" fill="#000"/>
<circle cx="690.4" cy="247.8" r="1.9" fill="#000"/>
<circle cx="703.3" cy="227.1" r="1.9" fill="#000"/>
<circle cx="695.1" cy="242.9" r="1.9" fill="#000"/>
<circle cx="695.9" cy="216.7" r="1.9" fill="#000"/>
<circle cx="705.3" cy="227.7" r="1.9" fill="#000"/>
<circle cx="693.6" cy="221.6" r="1.9" fill="#000"/>
<circle cx="686.6" cy="245.5" r="1.9" fill="#000"/>
<circle cx="703.0" cy="229.0" r="1.9" fill="#000"/>
<circle cx="686.9" cy="241.1" r="1.9" fill="#000"/>
<circle cx="687.3" cy="216.2" r="1.9" fill="#000"/>
<circle cx="691.4" cy="246.3" r="1.9" fill="#000"/>
<circle cx="704.9" cy="240.4" r="1.9" fill="#000"/>
<circle cx="691.7" cy="226.5" r="1.9" fill="#000"/>
<circle cx="699.0" cy="247.6" r="1.9" fill="#000"/>
<circle cx="701.0" cy="223.9" r="1.9" fill="#000"/>
<circle cx="691.8" cy="225.8" r="1.9" fill="#000"/>
<circle cx="701.9" cy="215.1" r="1.9" fill="#000"/>
<circle cx="699.3" cy="246.2" r="1.9" fill="#000"/>
<circle cx="686.5" cy="247.1" r="1.9" fill="#000"/>
<circle cx="696.0" cy="223.0" r="1.9" fill="#000"/>
<circle cx="706.0" cy="247.5" r="1.9" fill="#000"/>
<circle cx="691.3" cy="228.1" r="1.9" fill="#000"/>
<circle cx="696.4" cy="229.6" r="1.9" fill="#000"/>
<circle cx="689.8" cy="246.6" r="1.9" fill="#000"/>
<circle cx="701.5" cy="242.3" r="1.9" fill="#000"/>
<circle cx="702.2" cy="274.9" r="1.9" fill="#b5b5b5"/>
<circle cx="692.9" cy="268.6" r="1.9" fill="#b5b5b5"/>
<circle cx="693.6" cy="260.3" r="1.9" fill="#b5b5b5"/>
<circle cx="687.7" cy="273.7" r="1.9" fill="#b5b5b5"/>
<circle cx="701.8" cy="256.7" r="1.9" fill="#b5b5b5"/>
<circle cx="687.4" cy="258.2" r="1.9" fill="#b5b5b5"/>
<circle cx="697.6" cy="252.0" r="1.9" fill="#b5b5b5"/>
<circle cx="706.6" cy="260.4" r="1.9" fill="#b5b5b5"/>
<circle cx="706.7" cy="276.6" r="1.9" fill="#b5b5b5"/>
<circle cx="687.8" cy="258.7" r="1.9" fill="#b5b5b5"/>
<circle cx="696.5" cy="253.8" r="1.9" fill="#b5b5b5"/>
<circle cx="695.4" cy="271.6" r="1.9" fill="#b5b5b5"/>
<circle cx="694.8" cy="257.8" r="1.9" fill="#b5b5b5"/>
<circle cx="700.2" cy="269.0" r="1.9" fill="#b5b5b5"/>
<circle cx="703.8" cy="272.7" r="1.9" fill="#b5b5b5"/>
<circle cx="688.5" cy="270.3" r="1.9" fill="#b5b5b5"/>
<circle cx="692.2" cy="275.4" r="1.9" fill="#b5b5b5"/>
<circle cx="693.8" cy="267.4" r="1.9" fill="#b5b5b5"/>
<circle cx="690.2" cy="272.4" r="1.9" fill="#b5b5b5"/>
<circle cx="691.2" cy="258.2" r="1.9" fill="#b5b5b5"/>
<circle cx="704.6" cy="255.4" r="1.9" fill="#b5b5b5"/>
<circle cx="692.9" cy="267.8" r="1.9" fill="#b5b5b5"/>
<circle cx="706.8" cy="262.5" r="1.9" fill="#b5b5b5"/>
<circle cx="690.9" cy="265.7" r="1.9" fill="#b5b5b5"/>
<circle cx="699.7" cy="274.4" r="1.9" fill="#b5b5b5"/>
<circle cx="688.1" cy="279.7" r="1.9" fill="#b5b5b5"/>
<circle cx="703.2" cy="264.8" r="1.9" fill="#b5b5b5"/>
<circle cx="705.2" cy="275.4" r="1.9" fill="#b5b5b5"/>
<circle cx="692.2" cy="252.2" r="1.9" fill="#b5b5b5"/>
<circle cx="690.0" cy="254.5" r="1.9" fill="#b5b5b5"/>
<circle cx="698.2" cy="279.2" r="1.9" fill="#b5b5b5"/>
<circle cx="693.8" cy="278.0" r="1.9" fill="#b5b5b5"/>
<circle cx="695.4" cy="276.1" r="1.9" fill="#b5b5b5"/>
<circle cx="702.3" cy="258.5" r="1.9" fill="#b5b5b5"/>
<circle cx="688.2" cy="278.4" r="1.9" fill="#b5b5b5"/>
<circle cx="699.0" cy="268.3" r="1.9" fill="#b5b5b5"/>
<circle cx="693.7" cy="257.3" r="1.9" fill="#b5b5b5"/>
<circle cx="690.3" cy="255.1" r="1.9" fill="#b5b5b5"/>
<circle cx="698.6" cy="258.4" r="1.9" fill="#b5b5b5"/>
<circle cx="690.3" cy="269.9" r="1.9" fill="#b5b5b5"/>
<circle cx="692.9" cy="251.3" r="1.9" fill="#b5b5b5"/>
<circle cx="689.9" cy="270.7" r="1.9" fill="#b5b5b5"/>
<circle cx="690.3" cy="260.1" r="1.9" fill="#b5b5b5"/>
<circle cx="697.5" cy="274.1" r="1.9" fill="#b5b5b5"/>
<circle cx="688.1" cy="252.8" r="1.9" fill="#b5b5b5"/>
<circle cx="697.6" cy="262.5" r="1.9" fill="#b5b5b5"/>
<circle cx="687.9" cy="269.5" r="1.9" fill="#b5b5b5"/>
<circle cx="700.6" cy="255.7" r="1.9" fill="#b5b5b5"/>
<circle cx="691.9" cy="262.9" r="1.9" fill="#b5b5b5"/>
<circle cx="706.0" cy="259.9" r="1.9" fill="#b5b5b5"/>
<circle cx="697.9" cy="260.1" r="1.9" fill="#b5b5b5"/>
<circle cx="694.7" cy="261.4" r="1.9" fill="#b5b5b5"/>
<circle cx="706.9" cy="276.1" r="1.9" fill="#b5b5b5"/>
<circle cx="690.1" cy="261.5" r="1.9" fill="#b5b5b5"/>
<circle cx="690.3" cy="272.1" r="1.9" fill="#b5b5b5"/>
<circle cx="704.9" cy="251.2" r="1.9" fill="#b5b5b5"/>
<circle cx="703.2" cy="263.3" r="1.9" fill="#b5b5b5"/>
<circle cx="704.5" cy="262.8" r="1.9" fill="#b5b5b5"/>
<circle cx="689.4" cy="264.4" r="1.9" fill="#b5b5b5"/>
<circle cx="697.6" cy="251.4" r="1.9" fill="#b5b5b5"/>
<circle cx="705.1" cy="269.6" r="1.9" fill="#b5b5b5"/>
<circle cx="699.1" cy="253.6" r="1.9" fill="#b5b5b5"/>
<circle cx="696.6" cy="261.8" r="1.9" fill="#b5b5b5"/>
<circle cx="691.9" cy="255.2" r="1.9" fill="#b5b5b5"/>
<circle cx="705.4" cy="266.1" r="1.9" fill="#b5b5b5"/>
<circle cx="696.3" cy="254.2" r="1.9" fill="#b5b5b5"/>
<circle cx="706.3" cy="274.3" r="1.9" fill="#b5b5b5"/>
<circle cx="688.7" cy="256.7" r="1.9" fill="#b5b5b5"/>
<circle cx="706.5" cy="278.3" r="1.9" fill="#b5b5b5"/>
<circle cx="687.1" cy="265.0" r="1.9" fill="#b5b5b5"/>
<circle cx="694.1" cy="277.9" r="1.9" fill="#b5b5b5"/>
<circle cx="699.0" cy="277.2" r="1.9" fill="#b5b5b5"/>
<circle cx="689.4" cy="274.9" r="1.9" fill="#b5b5b5"/>
<circle cx="690.7" cy="273.8" r="1.9" fill="#b5b5b5"/>
<circle cx="703.8" cy="262.7" r="1.9" fill="#b5b5b5"/>
<circle cx="689.8" cy="275.0" r="1.9" fill="#b5b5b5"/>
<circle cx="694.4" cy="257.3" r="1.9" fill="#b5b5b5"/>
<circle cx="694.1" cy="266.0" r="1.9" fill="#b5b5b5"/>
<circle cx="691.2" cy="254.6" r="1.9" fill="#b5b5b5"/>
<circle cx="704.8" cy="272.0" r="1.9" fill="#b5b5b5"/>
<circle cx="697.8" cy="252.2" r="1.9" fill="#b5b5b5"/>
<circle cx="686.8" cy="273.0" r="1.9" fill="#b5b5b5"/>
<circle cx="688.5" cy="275.3" r="1.9" fill="#b5b5b5"/>
<circle cx="697.6" cy="268.4" r="1.9" fill="#b5b5b5"/>
<circle cx="692.4" cy="269.2" r="1.9" fill="#b5b5b5"/>
<circle cx="698.2" cy="263.2" r="1.9" fill="#b5b5b5"/>
<circle cx="699.8" cy="263.3" r="1.9" fill="#b5b5b5"/>
<circle cx="695.2" cy="264.0" r="1.9" fill="#b5b5b5"/>
<circle cx="699.0" cy="251.7" r="1.9" fill="#b5b5b5"/>
<circle cx="690.9" cy="265.2" r="1.9" fill="#b5b5b5"/>
<circle cx="702.4" cy="273.1" r="1.9" fill="#b5b5b5"/>
<circle cx="689.8" cy="264.3" r="1.9" fill="#b5b5b5"/>
<circle cx="688.2" cy="264.7" r="1.9" fill="#b5b5b5"/>
<circle cx="695.0" cy="254.7" r="1.9" fill="#b5b5b5"/>
<circle cx="695.3" cy="253.7" r="1.9" fill="#b5b5b5"/>
<circle cx="686.9" cy="265.8" r="1.9" fill="#b5b5b5"/>
<circle cx="687.7" cy="269.5" r="1.9" fill="#b5b5b5"/>
<circle cx="702.3" cy="272.3" r="1.9" fill="#b5b5b5"/>
<circle cx="687.1" cy="265.8" r="1.9" fill="#b5b5b5"/>
<circle cx="693.9" cy="265.6" r="1.9" fill="#b5b5b5"/>
<circle cx="688.9" cy="278.6" r="1.9" fill="#b5b5b5"/>
<circle cx="706.9" cy="275.9" r="1.9" fill="#b5b5b5"/>
<circle cx="703.1" cy="272.2" r="1.9" fill="#b5b5b5"/>
<circle cx="706.6" cy="256.6" r="1.9" fill="#b5b5b5"/>
<circle cx="706.1" cy="265.3" r="1.9" fill="#b5b5b5"/>
<circle cx="689.5" cy="277.6" r="1.9" fill="#b5b5b5"/>
<circle cx="705.5" cy="273.9" r="1.9" fill="#b5b5b5"/>
<circle cx="693.4" cy="252.9" r="1.9" fill="#b5b5b5"/>
<circle cx="689.3" cy="272.9" r="1.9" fill="#b5b5b5"/>
<circle cx="691.8" cy="277.0" r="1.9" fill="#b5b5b5"/>
<circle cx="689.0" cy="274.7" r="1.9" fill="#b5b5b5"/>
<circle cx="705.3" cy="265.6" r="1.9" fill="#b5b5b5"/>
<circle cx="691.5" cy="257.0" r="1.9" fill="#b5b5b5"/>
<circle cx="692.7" cy="265.7" r="1.9" fill="#b5b5b5"/>
<circle cx="689.8" cy="252.1" r="1.9" fill="#b5b5b5"/>
<circle cx="705.7" cy="255.7" r="1.9" fill="#b5b5b5"/>
<circle cx="704.8" cy="270.7" r="1.9" fill="#b5b5b5"/>
<circle cx="702.5" cy="255.9" r="1.9" fill="#b5b5b5"/>
<circle cx="697.1" cy="254.3" r="1.9" fill="#b5b5b5"/>
<circle cx="693.6" cy="269.5" r="1.9" fill="#b5b5b5"/>
<circle cx="697.7" cy="276.3" r="1.9" fill="#b5b5b5"/>
<circle cx="704.5" cy="267.8" r="1.9" fill="#b5b5b5"/>
<circle cx="706.9" cy="254.0" r="1.9" fill="#b5b5b5"/>
<circle cx="694.3" cy="269.3" r="1.9" fill="#b5b5b5"/>
<circle cx="691.6" cy="274.1" r="1.9" fill="#b5b5b5"/>
<circle cx="698.1" cy="279.7" r="1.9" fill="#b5b5b5"/>
<circle cx="702.1" cy="261.4" r="1.9" fill="#b5b5b5"/>
<circle cx="689.7" cy="263.8" r="1.9" fill="#b5b5b5"/>
<circle cx="687.0" cy="272.6" r="1.9" fill="#b5b5b5"/>
<circle cx="691.3" cy="274.8" r="1.9" fill="#b5b5b5"/>
<circle cx="706.7" cy="269.5" r="1.9" fill="#b5b5b5"/>
<circle cx="699.9" cy="268.0" r="1.9" fill="#b5b5b5"/>
<circle cx="686.0" cy="260.1" r="1.9" fill="#b5b5b5"/>
<circle cx="689.1" cy="252.0" r="1.9" fill="#b5b5b5"/>
<circle cx="695.1" cy="268.9" r="1.9" fill="#b5b5b5"/>
<circle cx="704.8" cy="265.9" r="1.9" fill="#b5b5b5"/>
<circle cx="690.8" cy="254.8" r="1.9" fill="#b5b5b5"/>
<circle cx="686.5" cy="269.9" r="1.9" fill="#b5b5b5"/>
<circle cx="693.5" cy="251.1" r="1.9" fill="#b5b5b5"/>
<circle cx="693.5" cy="254.1" r="1.9" fill="#b5b5b5"/>
<circle cx="698.3" cy="257.5" r="1.9" fill="#b5b5b5"/>
<circle cx="690.3" cy="268.1" r="1.9" fill="#b5b5b5"/>
<circle cx="696.0" cy="269.1" r="1.9" fill="#b5b5b5"/>
<circle cx="705.7" cy="254.9" r="1.9" fill="#b5b5b5"/>
<circle cx="689.1" cy="258.1" r="1.9" fill="#b5b5b5"/>
<circle cx="699.4" cy="253.8" r="1.9" fill="#b5b5b5"/>
<circle cx="702.4" cy="276.3" r="1.9" fill="#b5b5b5"/>
<circle cx="691.5" cy="262.7" r="1.9" fill="#b5b5b5"/>
<circle cx="699.5" cy="251.3" r="1.9" fill="#b5b5b5"/>
<circle cx="693.4" cy="267.3" r="1.9" fill="#b5b5b5"/>
<circle cx="695.3" cy="269.7" r="1.9" fill="#b5b5b5"/>
<circle cx="701.4" cy="278.2" r="1.9" fill="#b5b5b5"/>
<circle cx="705.0" cy="258.2" r="1.9" fill="#b5b5b5"/>
<circle cx="697.2" cy="252.3" r="1.9" fill="#b5b5b5"/>
<circle cx="691.0" cy="262.8" r="1.9" fill="#b5b5b5"/>
<circle cx="702.4" cy="252.7" r="1.9" fill="#b5b5b5"/>
<circle cx="697.6" cy="251.4" r="1.9" fill="#b5b5b5"/>
<circle cx="689.0" cy="278.3" r="1.9" fill="#b5b5b5"/>
<circle cx="698.8" cy="256.8" r="1.9" fill="#b5b5b5"/>
<circle cx="699.5" cy="265.7" r="1.9" fill="#b5b5b5"/>
<circle cx="689.7" cy="274.6" r="1.9" fill="#b5b5b5"/>
<circle cx="692.3" cy="260.0" r="1.9" fill="#b5b5b5"/>
<circle cx="704.7" cy="252.4" r="1.9" fill="#b5b5b5"/>
<circle cx="701.0" cy="273.7" r="1.9" fill="#b5b5b5"/>
<circle cx="703.7" cy="251.2" r="1.9" fill="#b5b5b5"/>
<circle cx="695.8" cy="272.6" r="1.9" fill="#b5b5b5"/>
<circle cx="695.5" cy="272.5" r="1.9" fill="#b5b5b5"/>
<circle cx="688.2" cy="257.6" r="1.9" fill="#b5b5b5"/>
<circle cx="686.8" cy="257.7" r="1.9" fill="#b5b5b5"/>
<circle cx="701.7" cy="260.7" r="1.9" fill="#b5b5b5"/>
<circle cx="703.8" cy="271.2" r="1.9" fill="#b5b5b5"/>
<circle cx="691.6" cy="271.6" r="1.9" fill="#b5b5b5"/>
<circle cx="695.2" cy="267.1" r="1.9" fill="#b5b5b5"/>
<circle cx="697.0" cy="273.9" r="1.9" fill="#b5b5b5"/>
<circle cx="699.5" cy="258.7" r="1.9" fill="#b5b5b5"/>
<circle cx="690.6" cy="279.0" r="1.9" fill="#b5b5b5"/>
<circle cx="686.3" cy="276.5" r="1.9" fill="#b5b5b5"/>
<circle cx="691.0" cy="258.6" r="1.9" fill="#b5b5b5"/>
<circle cx="705.8" cy="272.6" r="1.9" fill="#b5b5b5"/>
<circle cx="692.9" cy="272.6" r="1.9" fill="#b5b5b5"/>
<circle cx="692.9" cy="276.5" r="1.9" fill="#b5b5b5"/>
<circle cx="705.1" cy="257.9" r="1.9" fill="#b5b5b5"/>
<circle cx="700.5" cy="269.3" r="1.9" fill="#b5b5b5"/>
<circle cx="706.6" cy="270.3" r="1.9" fill="#b5b5b5"/>
<circle cx="703.6" cy="264.6" r="1.9" fill="#b5b5b5"/>
<circle cx="704.0" cy="271.2" r="1.9" fill="#b5b5b5"/>
<circle cx="701.2" cy="263.7" r="1.9" fill="#b5b5b5"/>
<circle cx="692.5" cy="267.5" r="1.9" fill="#b5b5b5"/>
<circle cx="699.1" cy="257.1" r="1.9" fill="#b5b5b5"/>
<circle cx="705.1" cy="253.3" r="1.9" fill="#b5b5b5"/>
<circle cx="686.6" cy="255.2" r="1.9" fill="#b5b5b5"/>
<circle cx="705.5" cy="254.1" r="1.9" fill="#b5b5b5"/>
<circle cx="689.0" cy="261.0" r="1.9" fill="#b5b5b5"/>
<circle cx="686.9" cy="251.8" r="1.9" fill="#b5b5b5"/>
<circle cx="699.3" cy="271.1" r="1.9" fill="#b5b5b5"/>
<circle cx="701.5" cy="271.2" r="1.9" fill="#b5b5b5"/>
<circle cx="698.4" cy="252.9" r="1.9" fill="#b5b5b5"/>
<circle cx="703.2" cy="261.5" r="1.9" fill="#b5b5b5"/>
<circle cx="704.7" cy="274.8" r="1.9" fill="#b5b5b5"/>
<circle cx="704.2" cy="252.9" r="1.9" fill="#b5b5b5"/>
<circle cx="705.8" cy="277.5" r="1.9" fill="#b5b5b5"/>
<circle cx="690.3" cy="254.1" r="1.9" fill="#b5b5b5"/>
<circle cx="686.7" cy="254.2" r="1.9" fill="#b5b5b5"/>
<circle cx="703.1" cy="275.6" r="1.9" fill="#b5b5b5"/>
<circle cx="703.3" cy="269.4" r="1.9" fill="#b5b5b5"/>
<circle cx="692.0" cy="269.3" r="1.9" fill="#b5b5b5"/>
<circle cx="688.1" cy="253.9" r="1.9" fill="#b5b5b5"/>
<circle cx="690.3" cy="273.0" r="1.9" fill="#b5b5b5"/>
<circle cx="694.9" cy="260.3" r="1.9" fill="#b5b5b5"/>
<circle cx="691.4" cy="251.6" r="1.9" fill="#b5b5b5"/>
<circle cx="701.0" cy="259.2" r="1.9" fill="#b5b5b5"/>
<circle cx="692.7" cy="261.7" r="1.9" fill="#b5b5b5"/>
<circle cx="696.6" cy="279.0" r="1.9" fill="#b5b5b5"/>
<circle cx="699.0" cy="275.7" r="1.9" fill="#b5b5b5"/>
<circle cx="694.7" cy="251.9" r="1.9" fill="#b5b5b5"/>
<circle cx="702.2" cy="263.7" r="1.9" fill="#b5b5b5"/>
<circle cx="700.8" cy="261.1" r="1.9" fill="#b5b5b5"/>
<circle cx="690.5" cy="266.6" r="1.9" fill="#b5b5b5"/>
<circle cx="687.9" cy="276.0" r="1.9" fill="#b5b5b5"/>
<circle cx="689.6" cy="274.8" r="1.9" fill="#b5b5b5"/>
<circle cx="690.2" cy="251.0" r="1.9" fill="#b5b5b5"/>
<circle cx="706.5" cy="273.1" r="1.9" fill="#b5b5b5"/>
<circle cx="696.3" cy="251.1" r="1.9" fill="#b5b5b5"/>
<circle cx="702.7" cy="265.3" r="1.9" fill="#b5b5b5"/>
<circle cx="696.4" cy="256.4" r="1.9" fill="#b5b5b5"/>
<circle cx="703.5" cy="261.1" r="1.9" fill="#b5b5b5"/>
<circle cx="705.8" cy="258.6" r="1.9" fill="#b5b5b5"/>
<circle cx="690.5" cy="259.2" r="1.9" fill="#b5b5b5"/>
<circle cx="696.5" cy="271.3" r="1.9" fill="#b5b5b5"/>
<circle cx="699.4" cy="254.2" r="1.9" fill="#b5b5b5"/>
<circle cx="702.5" cy="253.3" r="1.9" fill="#b5b5b5"/>
<circle cx="702.5" cy="271.2" r="1.9" fill="#b5b5b5"/>
<circle cx="693.5" cy="269.2" r="1.9" fill="#b5b5b5"/>
<circle cx="694.3" cy="262.6" r="1.9" fill="#b5b5b5"/>
<circle cx="687.8" cy="276.8" r="1.9" fill="#b5b5b5"/>
<circle cx="686.5" cy="276.8" r="1.9" fill="#b5b5b5"/>
<circle cx="691.5" cy="257.0" r="1.9" fill="#b5b5b5"/>
<circle cx="696.5" cy="277.1" r="1.9" fill="#b5b5b5"/>
<circle cx="704.6" cy="262.0" r="1.9" fill="#b5b5b5"/>
<circle cx="695.7" cy="257.8" r="1.9" fill="#b5b5b5"/>
<circle cx="701.8" cy="266.4" r="1.9" fill="#b5b5b5"/>
<circle cx="699.6" cy="272.8" r="1.9" fill="#b5b5b5"/>
<circle cx="692.9" cy="261.1" r="1.9" fill="#b5b5b5"/>
<circle cx="703.7" cy="255.5" r="1.9" fill="#b5b5b5"/>
<circle cx="701.6" cy="270.2" r="1.9" fill="#b5b5b5"/>
<circle cx="695.2" cy="255.9" r="1.9" fill="#b5b5b5"/>
<circle cx="698.2" cy="273.4" r="1.9" fill="#b5b5b5"/>
<circle cx="695.7" cy="254.7" r="1.9" fill="#b5b5b5"/>
<circle cx="691.0" cy="276.7" r="1.9" fill="#b5b5b5"/>
<circle cx="692.3" cy="256.6" r="1.9" fill="#b5b5b5"/>
<circle cx="703.7" cy="271.4" r="1.9" fill="#b5b5b5"/>
<circle cx="689.3" cy="255.5" r="1.9" fill="#b5b5b5"/>
<circle cx="692.9" cy="258.2" r="1.9" fill="#b5b5b5"/>
<circle cx="689.4" cy="266.1" r="1.9" fill="#b5b5b5"/>
<circle cx="690.0" cy="260.5" r="1.9" fill="#b5b5b5"/>
<circle cx="701.3" cy="279.3" r="1.9" fill="#b5b5b5"/>
<circle cx="706.2" cy="254.0" r="1.9" fill="#b5b5b5"/>
<circle cx="694.1" cy="253.9" r="1.9" fill="#b5b5b5"/>
<circle cx="702.7" cy="279.5" r="1.9" fill="#b5b5b5"/>
<circle cx="695.1" cy="272.3" r="1.9" fill="#b5b5b5"/>
<circle cx="699.1" cy="281.0" r="1.9" fill="#b5b5b5"/>
<circle cx="690.9" cy="280.1" r="1.9" fill="#b5b5b5"/>
<circle cx="687.6" cy="282.9" r="1.9" fill="#b5b5b5"/>
<circle cx="702.0" cy="283.0" r="1.9" fill="#b5b5b5"/>
<circle cx="696.5" cy="285.9" r="1.9" fill="#b5b5b5"/>
<circle cx="695.8" cy="285.3" r="1.9" fill="#b5b5b5"/>
<circle cx="698.5" cy="280.4" r="1.9" fill="#b5b5b5"/>
<circle cx="701.1" cy="283.0" r="1.9" fill="#b5b5b5"/>
<circle cx="695.2" cy="288.1" r="1.9" fill="#b5b5b5"/>
<circle cx="701.2" cy="284.7" r="1.9" fill="#b5b5b5"/>
<circle cx="691.3" cy="283.2" r="1.9" fill="#b5b5b5"/>
<circle cx="703.7" cy="286.2" r="1.9" fill="#b5b5b5"/>
<circle cx="700.3" cy="286.7" r="1.9" fill="#b5b5b5"/>
<circle cx="699.9" cy="287.5" r="1.9" fill="#b5b5b5"/>
<circle cx="695.6" cy="285.4" r="1.9" fill="#b5b5b5"/>
<circle cx="698.9" cy="282.1" r="1.9" fill="#b5b5b5"/>
<circle cx="695.0" cy="280.0" r="1.9" fill="#b5b5b5"/>
<circle cx="700.5" cy="286.8" r="1.9" fill="#b5b5b5"/>
<circle cx="691.8" cy="285.3" r="1.9" fill="#b5b5b5"/>
<circle cx="695.6" cy="283.2" r="1.9" fill="#b5b5b5"/>
<circle cx="694.8" cy="285.2" r="1.9" fill="#b5b5b5"/>
<circle cx="704.7" cy="285.8" r="1.9" fill="#b5b5b5"/>
<circle cx="699.4" cy="280.8" r="1.9" fill="#b5b5b5"/>
<circle cx="694.4" cy="286.8" r="1.9" fill="#b5b5b5"/>
<circle cx="705.5" cy="283.9" r="1.9" fill="#b5b5b5"/>
<circle cx="697.3" cy="279.4" r="1.9" fill="#b5b5b5"/>
<circle cx="701.9" cy="280.6" r="1.9" fill="#b5b5b5"/>
<circle cx="696.9" cy="288.4" r="1.9" fill="#b5b5b5"/>
<circle cx="697.9" cy="280.0" r="1.9" fill="#b5b5b5"/>
<circle cx="700.6" cy="284.4" r="1.9" fill="#b5b5b5"/>
<circle cx="699.1" cy="284.1" r="1.9" fill="#b5b5b5"/>
<circle cx="696.9" cy="287.3" r="1.9" fill="#b5b5b5"/>
<circle cx="705.0" cy="283.1" r="1.9" fill="#b5b5b5"/>
<circle cx="700.0" cy="281.1" r="1.9" fill="#b5b5b5"/>
<circle cx="701.5" cy="282.9" r="1.9" fill="#b5b5b5"/>
<circle cx="705.7" cy="280.2" r="1.9" fill="#b5b5b5"/>
<circle cx="688.1" cy="282.6" r="1.9" fill="#b5b5b5"/>
<circle cx="694.6" cy="281.7" r="1.9" fill="#b5b5b5"/>
<circle cx="695.0" cy="279.1" r="1.9" fill="#b5b5b5"/>
<circle cx="700.3" cy="283.2" r="1.9" fill="#b5b5b5"/>
<circle cx="692.7" cy="299.9" r="1.9" fill="#b5b5b5"/>
<circle cx="700.4" cy="296.3" r="1.9" fill="#b5b5b5"/>
<circle cx="696.9" cy="316.3" r="1.9" fill="#b5b5b5"/>
<circle cx="701.3" cy="296.1" r="1.9" fill="#b5b5b5"/>
<circle cx="691.9" cy="301.0" r="1.9" fill="#b5b5b5"/>
<circle cx="700.9" cy="293.6" r="1.9" fill="#b5b5b5"/>
<circle cx="698.6" cy="312.7" r="1.9" fill="#b5b5b5"/>
<circle cx="697.5" cy="303.1" r="1.9" fill="#b5b5b5"/>
<circle cx="703.9" cy="296.3" r="1.9" fill="#b5b5b5"/>
<circle cx="698.7" cy="299.9" r="1.9" fill="#b5b5b5"/>
<circle cx="701.6" cy="312.9" r="1.9" fill="#b5b5b5"/>
<circle cx="693.2" cy="303.1" r="1.9" fill="#b5b5b5"/>
<circle cx="690.5" cy="305.4" r="1.9" fill="#b5b5b5"/>
<circle cx="694.2" cy="313.3" r="1.9" fill="#b5b5b5"/>
<circle cx="692.8" cy="313.8" r="1.9" fill="#b5b5b5"/>
<circle cx="692.6" cy="300.5" r="1.9" fill="#b5b5b5"/>
<circle cx="691.5" cy="301.9" r="1.9" fill="#b5b5b5"/>
<circle cx="700.0" cy="290.1" r="1.9" fill="#b5b5b5"/>
<circle cx="692.4" cy="297.9" r="1.9" fill="#b5b5b5"/>
<circle cx="696.2" cy="298.5" r="1.9" fill="#b5b5b5"/>
<circle cx="698.7" cy="302.0" r="1.9" fill="#b5b5b5"/>
<circle cx="694.3" cy="308.5" r="1.9" fill="#b5b5b5"/>
<circle cx="702.2" cy="316.0" r="1.9" fill="#b5b5b5"/>
<circle cx="701.7" cy="291.6" r="1.9" fill="#b5b5b5"/>
<circle cx="701.0" cy="315.4" r="1.9" fill="#b5b5b5"/>
<circle cx="701.8" cy="293.9" r="1.9" fill="#b5b5b5"/>
<circle cx="688.7" cy="307.7" r="1.9" fill="#b5b5b5"/>
<circle cx="703.7" cy="290.3" r="1.9" fill="#b5b5b5"/>
<circle cx="692.5" cy="308.4" r="1.9" fill="#b5b5b5"/>
<circle cx="690.8" cy="292.8" r="1.9" fill="#b5b5b5"/>
<circle cx="688.4" cy="302.8" r="1.9" fill="#b5b5b5"/>
<circle cx="691.1" cy="302.8" r="1.9" fill="#b5b5b5"/>
<circle cx="704.1" cy="302.8" r="1.9" fill="#b5b5b5"/>
<circle cx="706.2" cy="307.2" r="1.9" fill="#b5b5b5"/>
<circle cx="695.8" cy="307.2" r="1.9" fill="#b5b5b5"/>
<circle cx="691.9" cy="312.5" r="1.9" fill="#b5b5b5"/>
<circle cx="699.4" cy="312.5" r="1.9" fill="#b5b5b5"/>
<circle cx="689.2" cy="315.3" r="1.9" fill="#b5b5b5"/>
<circle cx="701.2" cy="309.8" r="1.9" fill="#b5b5b5"/>
<circle cx="693.4" cy="318.4" r="1.9" fill="#b5b5b5"/>
<circle cx="696.6" cy="318.4" r="1.9" fill="#b5b5b5"/>
<circle cx="697.8" cy="321.6" r="1.9" fill="#b5b5b5"/>
<circle cx="691.6" cy="326.7" r="1.9" fill="#b5b5b5"/>
<circle cx="691.9" cy="331.7" r="1.9" fill="#b5b5b5"/>
<circle cx="695.0" cy="331.7" r="1.9" fill="#b5b5b5"/>
<circle cx="702.8" cy="331.7" r="1.9" fill="#b5b5b5"/>
<circle cx="688.4" cy="338.0" r="1.9" fill="#b5b5b5"/>
<circle cx="696.6" cy="338.0" r="1.9" fill="#b5b5b5"/>
<circle cx="698.9" cy="338.0" r="1.9" fill="#b5b5b5"/>
<circle cx="702.0" cy="338.0" r="1.9" fill="#b5b5b5"/>
<circle cx="688.8" cy="346.2" r="1.9" fill="#b5b5b5"/>
<circle cx="693.4" cy="346.2" r="1.9" fill="#b5b5b5"/>
<circle cx="696.2" cy="346.2" r="1.9" fill="#b5b5b5"/>
<circle cx="702.0" cy="346.2" r="1.9" fill="#b5b5b5"/>
<circle cx="704.1" cy="346.2" r="1.9" fill="#b5b5b5"/>
<circle cx="690.0" cy="357.5" r="1.9" fill="#b5b5b5"/>
<circle cx="695.8" cy="357.5" r="1.9" fill="#b5b5b5"/>
<circle cx="698.1" cy="357.5" r="1.9" fill="#b5b5b5"/>
<circle cx="701.2" cy="357.5" r="1.9" fill="#b5b5b5"/>
<circle cx="704.4" cy="357.5" r="1.9" fill="#b5b5b5"/>
<circle cx="705.9" cy="357.5" r="1.9" fill="#b5b5b5"/>
<rect x="682.9" y="249.2" width="26.9" height="128.2" fill="none" stroke="#000" stroke-width="1.5"/>
<rect x="682.9" y="287.5" width="26.9" height="4.2" fill="#000"/>
<line x1="684.0" y1="376.6" x2="708.8" y2="376.6" stroke="#c8c8c8" stroke-width="1.2"/>
<line x1="684.5" y1="378.0" x2="708.3" y2="378.0" stroke="#000" stroke-width="2.4" stroke-linecap="round"/>
<text x="785.3" y="33.0" font-size="40" font-weight="bold" stroke="#000" stroke-width="1.8" stroke-linejoin="round">c</text>
<text x="964.8" y="78.7" font-size="28.5" text-anchor="middle" textLength="33.0" lengthAdjust="spacingAndGlyphs">TN</text>
<text x="1177.2" y="78.7" font-size="28.5" text-anchor="middle" textLength="35.5" lengthAdjust="spacingAndGlyphs">RD</text>
<text x="1388.6" y="78.7" font-size="28.5" text-anchor="middle" textLength="34.0" lengthAdjust="spacingAndGlyphs">PD</text>
<text x="785.6" y="203.5" font-size="28" textLength="51.0" lengthAdjust="spacingAndGlyphs" fill="#8c6d2c">A3B</text>
<defs>
<filter id="bl1" x="-20%" y="-20%" width="140%" height="140%"><feGaussianBlur stdDeviation="0.9"/></filter>
<filter id="bl2" x="-20%" y="-20%" width="140%" height="140%"><feGaussianBlur stdDeviation="1.6"/></filter>
<filter id="bl05" x="-20%" y="-20%" width="140%" height="140%"><feGaussianBlur stdDeviation="0.5"/></filter>
<filter id="grain" x="0" y="0" width="100%" height="100%" filterUnits="userSpaceOnUse"><feTurbulence type="fractalNoise" baseFrequency="0.55" numOctaves="2" seed="3" result="t"/><feColorMatrix in="t" type="matrix" values="0 0 0 0 0.45  0 0 0 0 0.45  0 0 0 0 0.7  0 0 0 -1.6 1.0"/></filter>
<clipPath id="cTN"><rect x="862" y="92" width="205" height="206.5"/></clipPath>
<clipPath id="cRD"><rect x="1074" y="92" width="205.5" height="206.5"/></clipPath>
<clipPath id="cPD"><rect x="1286" y="92" width="205.5" height="206.5"/></clipPath>
</defs>
<g clip-path="url(#cTN)">
<rect x="862" y="92" width="205" height="206.5" fill="#fefefe"/>
<g filter="url(#bl1)">
<polygon points="870.1,153.5 872.2,143.2 881.0,140.3 891.3,135.9 900.1,128.6 910.3,124.2 920.6,116.9 935.2,111.0 936.7,103.7 944.0,99.3 964.5,96.4 993.8,94.9 1008.4,98.6 1023.1,94.9 1068.0,93.5 1068.0,112.5 1056.7,111.0 1045.0,121.3 1023.1,128.6 1008.4,134.5 1004.8,147.6 993.8,156.4 987.9,159.3 979.1,156.4 976.2,147.6 977.7,138.9 967.4,131.5 963.0,125.7 955.7,122.7 949.8,127.1 944.0,134.5 935.2,138.9 923.5,144.7 914.7,153.5 905.9,153.5 898.6,157.9 891.3,160.8 884.0,168.1 876.6,171.1 870.8,165.2" fill="#f1edf7" stroke="#ddd5ea" stroke-width="1.5"/>
<polygon points="872.2,160.8 884.0,165.2 898.6,156.4 910.3,156.4 913.2,168.1 911.8,185.7 910.3,204.7 905.9,217.9 891.3,217.9 889.8,203.3 888.4,187.2 879.6,181.3" fill="#f1edf7" stroke="#ddd5ea" stroke-width="1.5"/>
<polygon points="914.7,153.5 927.9,141.8 944.0,134.5 952.8,140.3 955.7,153.5 949.8,162.3 941.1,174.0 938.1,194.5 930.8,207.7 917.6,207.7 914.0,185.7" fill="#f1edf7" stroke="#ddd5ea" stroke-width="1.5"/>
<polygon points="948.4,169.6 961.6,160.8 973.3,156.4 983.5,165.2 990.8,176.9 990.8,194.5 983.5,209.1 973.3,220.8 971.8,242.8 957.2,242.8 949.8,228.2 948.4,216.5 955.7,203.3 948.4,187.2" fill="#f1edf7" stroke="#ddd5ea" stroke-width="1.5"/>
<polygon points="1006.9,150.6 1017.2,143.2 1068.0,140.3 1068.0,298.0 1004.0,298.0 995.2,276.5 989.4,260.4 987.9,238.4 990.8,217.9 1002.6,212.1 1011.3,203.3 1008.4,174.0" fill="#f1edf7" stroke="#ddd5ea" stroke-width="1.5"/>
<polygon points="888.4,226.7 905.9,222.3 920.6,226.7 922.0,234.0 905.9,236.9 882.5,238.4" fill="#f1edf7" stroke="#ddd5ea" stroke-width="1.5"/>
<polygon points="892.7,247.2 920.6,247.2 949.8,251.6 958.6,260.4 957.2,276.5 944.0,298.0 910.3,298.0 897.1,285.3 891.3,264.8" fill="#f1edf7" stroke="#ddd5ea" stroke-width="1.5"/>
<polygon points="1056.7,92.0 1068.0,92.0 1068.0,135.9 1058.2,127.1" fill="#f1edf7" stroke="#ddd5ea" stroke-width="1.5"/>
<ellipse cx="898.6" cy="213.5" rx="8.05" ry="7.32" fill="#ebe5f3"/>
<ellipse cx="917.6" cy="217.9" rx="5.12" ry="4.39" fill="#efeaf5"/>
</g>
<g filter="url(#bl1)">
<ellipse cx="904.5" cy="134.5" rx="8.20" ry="8.90" fill="#ebe6f3" transform="rotate(-17 904.5 134.5)" stroke="#d3cae4" stroke-width="0.9"/>
<ellipse cx="933.7" cy="123.5" rx="10.76" ry="8.20" fill="#ebe6f3" transform="rotate(9 933.7 123.5)" stroke="#d3cae4" stroke-width="0.9"/>
<ellipse cx="942.2" cy="129.3" rx="8.20" ry="7.50" fill="#ebe6f3" transform="rotate(7 942.2 129.3)" stroke="#d3cae4" stroke-width="0.9"/>
<ellipse cx="955.7" cy="112.5" rx="8.97" ry="7.50" fill="#ebe6f3" transform="rotate(-1 955.7 112.5)" stroke="#d3cae4" stroke-width="0.9"/>
<ellipse cx="971.8" cy="111.0" rx="8.97" ry="8.20" fill="#ebe6f3" transform="rotate(-14 971.8 111.0)" stroke="#d3cae4" stroke-width="0.9"/>
<ellipse cx="987.9" cy="110.3" rx="9.74" ry="7.50" fill="#ebe6f3" transform="rotate(15 987.9 110.3)" stroke="#d3cae4" stroke-width="0.9"/>
<ellipse cx="1003.7" cy="108.1" rx="8.20" ry="8.20" fill="#ebe6f3" transform="rotate(15 1003.7 108.1)" stroke="#d3cae4" stroke-width="0.9"/>
<ellipse cx="1030.4" cy="109.6" rx="10.76" ry="8.20" fill="#ebe6f3" transform="rotate(1 1030.4 109.6)" stroke="#d3cae4" stroke-width="0.9"/>
<ellipse cx="1047.9" cy="99.3" rx="8.97" ry="6.56" fill="#ebe6f3" transform="rotate(0 1047.9 99.3)" stroke="#d3cae4" stroke-width="0.9"/>
<ellipse cx="998.9" cy="127.1" rx="11.53" ry="8.90" fill="#ebe6f3" transform="rotate(-13 998.9 127.1)" stroke="#d3cae4" stroke-width="0.9"/>
<ellipse cx="1008.4" cy="115.4" rx="6.41" ry="7.03" fill="#ebe6f3" transform="rotate(-25 1008.4 115.4)" stroke="#d3cae4" stroke-width="0.9"/>
<ellipse cx="916.9" cy="131.5" rx="7.69" ry="8.20" fill="#ebe6f3" transform="rotate(-6 916.9 131.5)" stroke="#d3cae4" stroke-width="0.9"/>
<ellipse cx="964.5" cy="108.1" rx="6.41" ry="5.86" fill="#ebe6f3" transform="rotate(4 964.5 108.1)" stroke="#d3cae4" stroke-width="0.9"/>
<ellipse cx="985.0" cy="147.6" rx="9.74" ry="8.20" fill="#ebe6f3" transform="rotate(-22 985.0 147.6)" stroke="#d3cae4" stroke-width="0.9"/>
<ellipse cx="992.3" cy="141.8" rx="8.97" ry="7.50" fill="#ebe6f3" transform="rotate(15 992.3 141.8)" stroke="#d3cae4" stroke-width="0.9"/>
<ellipse cx="983.5" cy="155.0" rx="8.20" ry="6.56" fill="#ebe6f3" transform="rotate(-13 983.5 155.0)" stroke="#d3cae4" stroke-width="0.9"/>
<ellipse cx="1014.3" cy="121.3" rx="7.69" ry="7.03" fill="#ebe6f3" transform="rotate(-13 1014.3 121.3)" stroke="#d3cae4" stroke-width="0.9"/>
<ellipse cx="881.0" cy="152.0" rx="14.09" ry="10.54" fill="#ebe6f3" transform="rotate(-23 881.0 152.0)" stroke="#d3cae4" stroke-width="0.9"/>
<ellipse cx="876.6" cy="163.7" rx="7.69" ry="6.56" fill="#ebe6f3" transform="rotate(25 876.6 163.7)" stroke="#d3cae4" stroke-width="0.9"/>
<ellipse cx="881.0" cy="176.9" rx="5.12" ry="7.03" fill="#ebe6f3" transform="rotate(12 881.0 176.9)" stroke="#d3cae4" stroke-width="0.9"/>
<ellipse cx="899.3" cy="179.8" rx="9.74" ry="8.20" fill="#ebe6f3" transform="rotate(19 899.3 179.8)" stroke="#d3cae4" stroke-width="0.9"/>
<ellipse cx="895.7" cy="197.4" rx="7.69" ry="7.03" fill="#ebe6f3" transform="rotate(6 895.7 197.4)" stroke="#d3cae4" stroke-width="0.9"/>
<ellipse cx="908.9" cy="200.3" rx="5.64" ry="6.56" fill="#ebe6f3" transform="rotate(-23 908.9 200.3)" stroke="#d3cae4" stroke-width="0.9"/>
<ellipse cx="898.6" cy="213.5" rx="8.97" ry="7.03" fill="#ebe6f3" transform="rotate(-9 898.6 213.5)" stroke="#d3cae4" stroke-width="0.9"/>
<ellipse cx="904.5" cy="144.7" rx="7.69" ry="5.86" fill="#ebe6f3" transform="rotate(-0 904.5 144.7)" stroke="#d3cae4" stroke-width="0.9"/>
<ellipse cx="892.7" cy="165.2" rx="6.41" ry="5.86" fill="#ebe6f3" transform="rotate(-19 892.7 165.2)" stroke="#d3cae4" stroke-width="0.9"/>
<ellipse cx="936.7" cy="149.1" rx="7.69" ry="10.54" fill="#ebe6f3" transform="rotate(23 936.7 149.1)" stroke="#d3cae4" stroke-width="0.9"/>
<ellipse cx="946.9" cy="149.8" rx="6.41" ry="9.37" fill="#ebe6f3" transform="rotate(-7 946.9 149.8)" stroke="#d3cae4" stroke-width="0.9"/>
<ellipse cx="930.8" cy="160.8" rx="6.41" ry="8.20" fill="#ebe6f3" transform="rotate(-17 930.8 160.8)" stroke="#d3cae4" stroke-width="0.9"/>
<ellipse cx="925.0" cy="168.9" rx="7.17" ry="8.20" fill="#ebe6f3" transform="rotate(16 925.0 168.9)" stroke="#d3cae4" stroke-width="0.9"/>
<ellipse cx="923.5" cy="179.8" rx="9.74" ry="9.37" fill="#ebe6f3" transform="rotate(-19 923.5 179.8)" stroke="#d3cae4" stroke-width="0.9"/>
<ellipse cx="933.7" cy="178.4" rx="6.41" ry="7.03" fill="#ebe6f3" transform="rotate(21 933.7 178.4)" stroke="#d3cae4" stroke-width="0.9"/>
<ellipse cx="924.2" cy="198.1" rx="8.97" ry="9.37" fill="#ebe6f3" transform="rotate(-2 924.2 198.1)" stroke="#d3cae4" stroke-width="0.9"/>
<ellipse cx="970.3" cy="165.2" rx="9.74" ry="8.20" fill="#ebe6f3" transform="rotate(3 970.3 165.2)" stroke="#d3cae4" stroke-width="0.9"/>
<ellipse cx="983.5" cy="186.4" rx="6.41" ry="9.37" fill="#ebe6f3" transform="rotate(-8 983.5 186.4)" stroke="#d3cae4" stroke-width="0.9"/>
<ellipse cx="952.8" cy="187.2" rx="8.97" ry="8.20" fill="#ebe6f3" transform="rotate(-1 952.8 187.2)" stroke="#d3cae4" stroke-width="0.9"/>
<ellipse cx="973.3" cy="178.4" rx="6.41" ry="5.86" fill="#ebe6f3" transform="rotate(-16 973.3 178.4)" stroke="#d3cae4" stroke-width="0.9"/>
<ellipse cx="977.7" cy="207.7" rx="11.53" ry="7.03" fill="#ebe6f3" transform="rotate(-23 977.7 207.7)" stroke="#d3cae4" stroke-width="0.9"/>
<ellipse cx="964.5" cy="215.0" rx="7.69" ry="5.86" fill="#ebe6f3" transform="rotate(18 964.5 215.0)" stroke="#d3cae4" stroke-width="0.9"/>
<ellipse cx="957.2" cy="222.3" rx="7.69" ry="7.03" fill="#ebe6f3" transform="rotate(-13 957.2 222.3)" stroke="#d3cae4" stroke-width="0.9"/>
<ellipse cx="961.6" cy="233.3" rx="7.17" ry="7.03" fill="#ebe6f3" transform="rotate(14 961.6 233.3)" stroke="#d3cae4" stroke-width="0.9"/>
<ellipse cx="967.4" cy="238.4" rx="7.17" ry="7.03" fill="#ebe6f3" transform="rotate(-15 967.4 238.4)" stroke="#d3cae4" stroke-width="0.9"/>
<ellipse cx="1027.4" cy="152.0" rx="10.25" ry="9.37" fill="#ebe6f3" transform="rotate(23 1027.4 152.0)" stroke="#d3cae4" stroke-width="0.9"/>
<ellipse cx="1058.9" cy="149.8" rx="11.53" ry="7.03" fill="#ebe6f3" transform="rotate(20 1058.9 149.8)" stroke="#d3cae4" stroke-width="0.9"/>
<ellipse cx="1059.7" cy="160.8" rx="7.69" ry="7.03" fill="#ebe6f3" transform="rotate(13 1059.7 160.8)" stroke="#d3cae4" stroke-width="0.9"/>
<ellipse cx="1042.1" cy="176.9" rx="11.53" ry="8.20" fill="#ebe6f3" transform="rotate(13 1042.1 176.9)" stroke="#d3cae4" stroke-width="0.9"/>
<ellipse cx="1028.9" cy="190.1" rx="10.25" ry="9.37" fill="#ebe6f3" transform="rotate(4 1028.9 190.1)" stroke="#d3cae4" stroke-width="0.9"/>
<ellipse cx="1036.2" cy="204.7" rx="10.25" ry="8.20" fill="#ebe6f3" transform="rotate(11 1036.2 204.7)" stroke="#d3cae4" stroke-width="0.9"/>
<ellipse cx="1028.9" cy="215.0" rx="8.97" ry="10.54" fill="#ebe6f3" transform="rotate(-19 1028.9 215.0)" stroke="#d3cae4" stroke-width="0.9"/>
<ellipse cx="1017.2" cy="230.4" rx="7.69" ry="12.88" fill="#ebe6f3" transform="rotate(-1 1017.2 230.4)" stroke="#d3cae4" stroke-width="0.9"/>
<ellipse cx="1005.5" cy="228.2" rx="5.12" ry="9.37" fill="#ebe6f3" transform="rotate(16 1005.5 228.2)" stroke="#d3cae4" stroke-width="0.9"/>
<ellipse cx="1011.3" cy="245.7" rx="6.41" ry="8.20" fill="#ebe6f3" transform="rotate(-15 1011.3 245.7)" stroke="#d3cae4" stroke-width="0.9"/>
<ellipse cx="1002.6" cy="245.0" rx="6.41" ry="7.03" fill="#ebe6f3" transform="rotate(21 1002.6 245.0)" stroke="#d3cae4" stroke-width="0.9"/>
<ellipse cx="1002.6" cy="255.3" rx="7.69" ry="8.20" fill="#ebe6f3" transform="rotate(19 1002.6 255.3)" stroke="#d3cae4" stroke-width="0.9"/>
<ellipse cx="1012.8" cy="266.2" rx="5.12" ry="5.86" fill="#ebe6f3" transform="rotate(-5 1012.8 266.2)" stroke="#d3cae4" stroke-width="0.9"/>
<ellipse cx="1034.8" cy="255.3" rx="5.12" ry="9.37" fill="#ebe6f3" transform="rotate(-7 1034.8 255.3)" stroke="#d3cae4" stroke-width="0.9"/>
<ellipse cx="1014.3" cy="174.0" rx="7.69" ry="5.86" fill="#ebe6f3" transform="rotate(-2 1014.3 174.0)" stroke="#d3cae4" stroke-width="0.9"/>
<ellipse cx="1020.1" cy="160.8" rx="6.41" ry="5.86" fill="#ebe6f3" transform="rotate(-6 1020.1 160.8)" stroke="#d3cae4" stroke-width="0.9"/>
<ellipse cx="1062.6" cy="174.0" rx="6.41" ry="9.37" fill="#ebe6f3" transform="rotate(25 1062.6 174.0)" stroke="#d3cae4" stroke-width="0.9"/>
<ellipse cx="1065.5" cy="130.1" rx="3.84" ry="8.20" fill="#ebe6f3" transform="rotate(-6 1065.5 130.1)" stroke="#d3cae4" stroke-width="0.9"/>
<ellipse cx="1064.0" cy="279.4" rx="5.12" ry="7.03" fill="#ebe6f3" transform="rotate(-24 1064.0 279.4)" stroke="#d3cae4" stroke-width="0.9"/>
<ellipse cx="1053.8" cy="295.5" rx="6.41" ry="3.51" fill="#ebe6f3" transform="rotate(-20 1053.8 295.5)" stroke="#d3cae4" stroke-width="0.9"/>
<ellipse cx="1023.1" cy="245.7" rx="6.41" ry="7.03" fill="#ebe6f3" transform="rotate(11 1023.1 245.7)" stroke="#d3cae4" stroke-width="0.9"/>
<ellipse cx="1045.0" cy="238.4" rx="7.69" ry="8.20" fill="#ebe6f3" transform="rotate(25 1045.0 238.4)" stroke="#d3cae4" stroke-width="0.9"/>
<ellipse cx="1045.0" cy="282.3" rx="8.97" ry="7.03" fill="#ebe6f3" transform="rotate(-0 1045.0 282.3)" stroke="#d3cae4" stroke-width="0.9"/>
<ellipse cx="1023.1" cy="286.7" rx="7.69" ry="7.03" fill="#ebe6f3" transform="rotate(-0 1023.1 286.7)" stroke="#d3cae4" stroke-width="0.9"/>
<ellipse cx="903.7" cy="228.9" rx="11.53" ry="6.56" fill="#ebe6f3" transform="rotate(3 903.7 228.9)" stroke="#d3cae4" stroke-width="0.9"/>
<ellipse cx="913.2" cy="260.4" rx="10.25" ry="9.84" fill="#ebe6f3" transform="rotate(12 913.2 260.4)" stroke="#d3cae4" stroke-width="0.9"/>
<ellipse cx="926.4" cy="254.5" rx="6.41" ry="7.50" fill="#ebe6f3" transform="rotate(-14 926.4 254.5)" stroke="#d3cae4" stroke-width="0.9"/>
<ellipse cx="944.7" cy="262.6" rx="7.69" ry="7.50" fill="#ebe6f3" transform="rotate(5 944.7 262.6)" stroke="#d3cae4" stroke-width="0.9"/>
<ellipse cx="936.7" cy="266.2" rx="5.64" ry="5.15" fill="#ebe6f3" transform="rotate(3 936.7 266.2)" stroke="#d3cae4" stroke-width="0.9"/>
<ellipse cx="938.1" cy="274.3" rx="9.74" ry="4.69" fill="#ebe6f3" transform="rotate(6 938.1 274.3)" stroke="#d3cae4" stroke-width="0.9"/>
<ellipse cx="936.7" cy="288.9" rx="7.69" ry="5.86" fill="#ebe6f3" transform="rotate(-16 936.7 288.9)" stroke="#d3cae4" stroke-width="0.9"/>
<ellipse cx="920.6" cy="282.3" rx="7.69" ry="5.15" fill="#ebe6f3" transform="rotate(-16 920.6 282.3)" stroke="#d3cae4" stroke-width="0.9"/>
<ellipse cx="929.3" cy="283.1" rx="5.64" ry="5.15" fill="#ebe6f3" transform="rotate(-8 929.3 283.1)" stroke="#d3cae4" stroke-width="0.9"/>
<ellipse cx="897.1" cy="258.9" rx="5.12" ry="5.86" fill="#ebe6f3" transform="rotate(21 897.1 258.9)" stroke="#d3cae4" stroke-width="0.9"/>
</g>
<g filter="url(#bl05)">
<ellipse cx="904.5" cy="134.5" rx="5.53" ry="6.57" fill="#9e97d2" transform="rotate(-13 904.5 134.5)"/>
<ellipse cx="933.7" cy="123.5" rx="7.26" ry="6.05" fill="#a49ed7" transform="rotate(21 933.7 123.5)"/>
<ellipse cx="942.2" cy="129.3" rx="5.53" ry="5.53" fill="#a49ed7" transform="rotate(-6 942.2 129.3)"/>
<ellipse cx="955.7" cy="112.5" rx="6.05" ry="5.53" fill="#aaa4da" transform="rotate(9 955.7 112.5)"/>
<ellipse cx="971.8" cy="111.0" rx="6.05" ry="6.05" fill="#aaa4da" transform="rotate(-5 971.8 111.0)"/>
<ellipse cx="987.9" cy="110.3" rx="6.57" ry="5.53" fill="#a49ed7" transform="rotate(19 987.9 110.3)"/>
<ellipse cx="1003.7" cy="108.1" rx="5.53" ry="6.05" fill="#9e97d2" transform="rotate(8 1003.7 108.1)"/>
<ellipse cx="1030.4" cy="109.6" rx="7.26" ry="6.05" fill="#a49ed7" transform="rotate(3 1030.4 109.6)"/>
<ellipse cx="1047.9" cy="99.3" rx="6.05" ry="4.84" fill="#9e97d2" transform="rotate(14 1047.9 99.3)"/>
<ellipse cx="998.9" cy="127.1" rx="7.77" ry="6.57" fill="#9e97d2" transform="rotate(17 998.9 127.1)"/>
<ellipse cx="1008.4" cy="115.4" rx="4.32" ry="5.18" fill="#a49ed7" transform="rotate(8 1008.4 115.4)"/>
<ellipse cx="916.9" cy="131.5" rx="5.18" ry="6.05" fill="#b8b2e0" transform="rotate(-13 916.9 131.5)"/>
<ellipse cx="964.5" cy="108.1" rx="4.32" ry="4.32" fill="#bfb9e3" transform="rotate(19 964.5 108.1)"/>
<ellipse cx="985.0" cy="147.6" rx="6.57" ry="6.05" fill="#aaa4da" transform="rotate(24 985.0 147.6)"/>
<ellipse cx="992.3" cy="141.8" rx="6.05" ry="5.53" fill="#aaa4da" transform="rotate(-23 992.3 141.8)"/>
<ellipse cx="983.5" cy="155.0" rx="5.53" ry="4.84" fill="#a49ed7" transform="rotate(-24 983.5 155.0)"/>
<ellipse cx="1014.3" cy="121.3" rx="5.18" ry="5.18" fill="#b8b2e0" transform="rotate(15 1014.3 121.3)"/>
<ellipse cx="881.0" cy="152.0" rx="9.50" ry="7.77" fill="#b8b2e0" transform="rotate(-1 881.0 152.0)"/>
<ellipse cx="876.6" cy="163.7" rx="5.18" ry="4.84" fill="#9e97d2" transform="rotate(-18 876.6 163.7)"/>
<ellipse cx="881.0" cy="176.9" rx="3.46" ry="5.18" fill="#aaa4da" transform="rotate(-18 881.0 176.9)"/>
<ellipse cx="899.3" cy="179.8" rx="6.57" ry="6.05" fill="#aaa4da" transform="rotate(-6 899.3 179.8)"/>
<ellipse cx="895.7" cy="197.4" rx="5.18" ry="5.18" fill="#bfb9e3" transform="rotate(-12 895.7 197.4)"/>
<ellipse cx="908.9" cy="200.3" rx="3.80" ry="4.84" fill="#9e97d2" transform="rotate(18 908.9 200.3)"/>
<ellipse cx="898.6" cy="213.5" rx="6.05" ry="5.18" fill="#aaa4da" transform="rotate(-12 898.6 213.5)"/>
<ellipse cx="905.9" cy="152.0" rx="2.64" ry="2.64" fill="#4d4a9e" transform="rotate(-18 905.9 152.0)"/>
<ellipse cx="904.5" cy="144.7" rx="5.18" ry="4.32" fill="#b8b2e0" transform="rotate(-20 904.5 144.7)"/>
<ellipse cx="892.7" cy="165.2" rx="4.32" ry="4.32" fill="#b8b2e0" transform="rotate(14 892.7 165.2)"/>
<ellipse cx="936.7" cy="149.1" rx="5.18" ry="7.77" fill="#a49ed7" transform="rotate(8 936.7 149.1)"/>
<ellipse cx="946.9" cy="149.8" rx="4.32" ry="6.91" fill="#a49ed7" transform="rotate(2 946.9 149.8)"/>
<ellipse cx="930.8" cy="160.8" rx="4.32" ry="6.05" fill="#b8b2e0" transform="rotate(-0 930.8 160.8)"/>
<ellipse cx="925.0" cy="168.9" rx="4.84" ry="6.05" fill="#a49ed7" transform="rotate(-16 925.0 168.9)"/>
<ellipse cx="923.5" cy="179.8" rx="6.57" ry="6.91" fill="#9e97d2" transform="rotate(10 923.5 179.8)"/>
<ellipse cx="933.7" cy="178.4" rx="4.32" ry="5.18" fill="#aaa4da" transform="rotate(5 933.7 178.4)"/>
<ellipse cx="924.2" cy="198.1" rx="6.05" ry="6.91" fill="#aaa4da" transform="rotate(15 924.2 198.1)"/>
<ellipse cx="944.0" cy="171.1" rx="1.02" ry="2.20" fill="#4d4a9e" transform="rotate(-2 944.0 171.1)"/>
<ellipse cx="970.3" cy="165.2" rx="6.57" ry="6.05" fill="#a49ed7" transform="rotate(13 970.3 165.2)"/>
<ellipse cx="983.5" cy="186.4" rx="4.32" ry="6.91" fill="#a49ed7" transform="rotate(-12 983.5 186.4)"/>
<ellipse cx="952.8" cy="187.2" rx="6.05" ry="6.05" fill="#b8b2e0" transform="rotate(12 952.8 187.2)"/>
<ellipse cx="973.3" cy="178.4" rx="4.32" ry="4.32" fill="#b8b2e0" transform="rotate(-17 973.3 178.4)"/>
<ellipse cx="977.7" cy="207.7" rx="7.77" ry="5.18" fill="#aaa4da" transform="rotate(16 977.7 207.7)"/>
<ellipse cx="964.5" cy="215.0" rx="5.18" ry="4.32" fill="#b8b2e0" transform="rotate(22 964.5 215.0)"/>
<ellipse cx="957.2" cy="222.3" rx="5.18" ry="5.18" fill="#a49ed7" transform="rotate(0 957.2 222.3)"/>
<ellipse cx="961.6" cy="233.3" rx="4.84" ry="5.18" fill="#aaa4da" transform="rotate(23 961.6 233.3)"/>
<ellipse cx="967.4" cy="238.4" rx="4.84" ry="5.18" fill="#9e97d2" transform="rotate(10 967.4 238.4)"/>
<ellipse cx="992.0" cy="187.9" rx="0.88" ry="1.17" fill="#4d4a9e" transform="rotate(-22 992.0 187.9)"/>
<ellipse cx="1027.4" cy="152.0" rx="6.91" ry="6.91" fill="#9e97d2" transform="rotate(-7 1027.4 152.0)"/>
<ellipse cx="1058.9" cy="149.8" rx="7.77" ry="5.18" fill="#9e97d2" transform="rotate(-20 1058.9 149.8)"/>
<ellipse cx="1059.7" cy="160.8" rx="5.18" ry="5.18" fill="#a49ed7" transform="rotate(6 1059.7 160.8)"/>
<ellipse cx="1042.1" cy="176.9" rx="7.77" ry="6.05" fill="#9e97d2" transform="rotate(9 1042.1 176.9)"/>
<ellipse cx="1028.9" cy="190.1" rx="6.91" ry="6.91" fill="#aaa4da" transform="rotate(-1 1028.9 190.1)"/>
<ellipse cx="1036.2" cy="204.7" rx="6.91" ry="6.05" fill="#aaa4da" transform="rotate(19 1036.2 204.7)"/>
<ellipse cx="1028.9" cy="215.0" rx="6.05" ry="7.77" fill="#a49ed7" transform="rotate(-24 1028.9 215.0)"/>
<ellipse cx="1017.2" cy="230.4" rx="5.18" ry="9.50" fill="#aaa4da" transform="rotate(-23 1017.2 230.4)"/>
<ellipse cx="1005.5" cy="228.2" rx="3.46" ry="6.91" fill="#9e97d2" transform="rotate(11 1005.5 228.2)"/>
<ellipse cx="1011.3" cy="245.7" rx="4.32" ry="6.05" fill="#9e97d2" transform="rotate(-5 1011.3 245.7)"/>
<ellipse cx="1002.6" cy="245.0" rx="4.32" ry="5.18" fill="#9e97d2" transform="rotate(-14 1002.6 245.0)"/>
<ellipse cx="1002.6" cy="255.3" rx="5.18" ry="6.05" fill="#aaa4da" transform="rotate(-23 1002.6 255.3)"/>
<ellipse cx="1012.8" cy="266.2" rx="3.46" ry="4.32" fill="#a49ed7" transform="rotate(-6 1012.8 266.2)"/>
<ellipse cx="1034.8" cy="255.3" rx="3.46" ry="6.91" fill="#bfb9e3" transform="rotate(14 1034.8 255.3)"/>
<ellipse cx="1014.3" cy="174.0" rx="5.18" ry="4.32" fill="#b8b2e0" transform="rotate(-13 1014.3 174.0)"/>
<ellipse cx="1020.1" cy="160.8" rx="4.32" ry="4.32" fill="#b8b2e0" transform="rotate(-10 1020.1 160.8)"/>
<ellipse cx="1062.6" cy="174.0" rx="4.32" ry="6.91" fill="#bfb9e3" transform="rotate(-17 1062.6 174.0)"/>
<ellipse cx="1065.5" cy="130.1" rx="2.59" ry="6.05" fill="#a49ed7" transform="rotate(19 1065.5 130.1)"/>
<ellipse cx="1064.0" cy="279.4" rx="3.46" ry="5.18" fill="#aaa4da" transform="rotate(-20 1064.0 279.4)"/>
<ellipse cx="1053.8" cy="295.5" rx="4.32" ry="2.59" fill="#a49ed7" transform="rotate(1 1053.8 295.5)"/>
<ellipse cx="1023.1" cy="245.7" rx="4.32" ry="5.18" fill="#b8b2e0" transform="rotate(12 1023.1 245.7)"/>
<ellipse cx="1045.0" cy="238.4" rx="5.18" ry="6.05" fill="#bfb9e3" transform="rotate(25 1045.0 238.4)"/>
<ellipse cx="1045.0" cy="282.3" rx="6.05" ry="5.18" fill="#b8b2e0" transform="rotate(-15 1045.0 282.3)"/>
<ellipse cx="1023.1" cy="286.7" rx="5.18" ry="5.18" fill="#b8b2e0" transform="rotate(7 1023.1 286.7)"/>
<ellipse cx="903.7" cy="228.9" rx="7.77" ry="4.84" fill="#aaa4da" transform="rotate(-12 903.7 228.9)"/>
<ellipse cx="913.2" cy="260.4" rx="6.91" ry="7.26" fill="#a49ed7" transform="rotate(1 913.2 260.4)"/>
<ellipse cx="926.4" cy="254.5" rx="4.32" ry="5.53" fill="#a49ed7" transform="rotate(-13 926.4 254.5)"/>
<ellipse cx="944.7" cy="262.6" rx="5.18" ry="5.53" fill="#aaa4da" transform="rotate(11 944.7 262.6)"/>
<ellipse cx="936.7" cy="266.2" rx="3.80" ry="3.80" fill="#a49ed7" transform="rotate(-2 936.7 266.2)"/>
<ellipse cx="938.1" cy="274.3" rx="6.57" ry="3.46" fill="#b8b2e0" transform="rotate(6 938.1 274.3)"/>
<ellipse cx="936.7" cy="288.9" rx="5.18" ry="4.32" fill="#9e97d2" transform="rotate(8 936.7 288.9)"/>
<ellipse cx="920.6" cy="282.3" rx="5.18" ry="3.80" fill="#b8b2e0" transform="rotate(-20 920.6 282.3)"/>
<ellipse cx="929.3" cy="283.1" rx="3.80" ry="3.80" fill="#bfb9e3" transform="rotate(-7 929.3 283.1)"/>
<ellipse cx="897.1" cy="258.9" rx="3.46" ry="4.32" fill="#b8b2e0" transform="rotate(-24 897.1 258.9)"/>
</g>
<rect x="1004.2" y="277" width="51.9" height="7.7" fill="#000"/>
</g>
<rect x="862" y="91.6" width="205.8" height="207.5" fill="none" stroke="#000" stroke-width="2.1"/>
<g clip-path="url(#cRD)">
<rect x="1074" y="92" width="205.5" height="206.5" fill="#f3f4fa"/>
<g filter="url(#bl05)">
<path d="M1114.4 212.9 Q1116.2 223.8 1120.3 234.1" stroke="#b3b9da" stroke-width="1.69" fill="none" opacity="0.86"/>
<path d="M1083.1 214.7 Q1084.7 228.9 1093.2 240.4" stroke="#b3b9da" stroke-width="1.33" fill="none" opacity="0.68"/>
<path d="M1139.9 214.5 Q1145.7 224.2 1151.6 234.0" stroke="#b3b9da" stroke-width="0.85" fill="none" opacity="0.74"/>
<path d="M1125.1 162.2 Q1129.5 180.7 1134.7 199.1" stroke="#b3b9da" stroke-width="1.48" fill="none" opacity="0.55"/>
<path d="M1073.0 287.2 Q1075.6 297.5 1083.6 304.5" stroke="#b3b9da" stroke-width="1.55" fill="none" opacity="0.55"/>
<path d="M1094.5 136.0 Q1098.3 142.6 1102.4 148.9" stroke="#b3b9da" stroke-width="1.10" fill="none" opacity="0.66"/>
<path d="M1076.5 100.6 Q1086.6 116.1 1099.7 129.2" stroke="#b3b9da" stroke-width="1.36" fill="none" opacity="0.55"/>
<path d="M1081.1 109.8 Q1086.9 116.0 1089.5 124.0" stroke="#b3b9da" stroke-width="1.00" fill="none" opacity="0.58"/>
<path d="M1118.5 176.4 Q1123.4 187.4 1128.9 198.0" stroke="#b3b9da" stroke-width="1.59" fill="none" opacity="0.62"/>
<path d="M1071.1 176.9 Q1082.1 190.6 1087.6 207.2" stroke="#b3b9da" stroke-width="1.67" fill="none" opacity="0.51"/>
<path d="M1105.8 168.2 Q1113.8 185.1 1124.7 200.3" stroke="#b3b9da" stroke-width="0.96" fill="none" opacity="0.70"/>
<path d="M1111.4 87.0 Q1119.1 100.1 1129.7 110.9" stroke="#b3b9da" stroke-width="1.26" fill="none" opacity="0.67"/>
<path d="M1107.9 127.2 Q1112.7 146.2 1117.2 165.2" stroke="#b3b9da" stroke-width="0.82" fill="none" opacity="0.66"/>
<path d="M1129.1 151.7 Q1133.7 160.6 1140.9 167.4" stroke="#b3b9da" stroke-width="1.42" fill="none" opacity="0.61"/>
<path d="M1118.0 232.7 Q1121.9 250.1 1124.8 267.8" stroke="#b3b9da" stroke-width="1.61" fill="none" opacity="0.87"/>
<path d="M1134.7 235.3 Q1137.4 249.2 1145.3 260.9" stroke="#b3b9da" stroke-width="1.43" fill="none" opacity="0.79"/>
<path d="M1083.5 98.6 Q1090.8 111.5 1099.1 123.7" stroke="#b3b9da" stroke-width="1.00" fill="none" opacity="0.58"/>
<path d="M1142.6 90.1 Q1145.6 107.0 1149.8 123.6" stroke="#b3b9da" stroke-width="1.80" fill="none" opacity="0.77"/>
<path d="M1065.7 270.5 Q1072.3 288.5 1083.3 304.1" stroke="#b3b9da" stroke-width="0.94" fill="none" opacity="0.52"/>
<path d="M1072.7 244.4 Q1078.6 253.5 1078.5 264.3" stroke="#b3b9da" stroke-width="1.17" fill="none" opacity="0.82"/>
<path d="M1127.1 255.7 Q1127.7 272.9 1133.5 289.0" stroke="#b3b9da" stroke-width="0.82" fill="none" opacity="0.50"/>
<path d="M1135.0 212.8 Q1140.7 220.0 1144.1 228.6" stroke="#b3b9da" stroke-width="1.14" fill="none" opacity="0.70"/>
<path d="M1102.1 126.1 Q1110.5 132.2 1114.3 142.0" stroke="#b3b9da" stroke-width="0.90" fill="none" opacity="0.67"/>
<path d="M1078.6 246.3 Q1082.9 258.9 1089.2 270.5" stroke="#b3b9da" stroke-width="1.03" fill="none" opacity="0.51"/>
<path d="M1074.8 152.8 Q1081.3 161.4 1085.2 171.4" stroke="#b3b9da" stroke-width="1.63" fill="none" opacity="0.50"/>
<path d="M1099.5 157.5 Q1110.0 170.5 1116.8 185.8" stroke="#b3b9da" stroke-width="0.84" fill="none" opacity="0.56"/>
<path d="M1136.7 148.1 Q1147.4 164.6 1160.0 179.7" stroke="#b3b9da" stroke-width="1.76" fill="none" opacity="0.63"/>
<path d="M1126.1 86.0 Q1135.5 100.7 1145.0 115.2" stroke="#b3b9da" stroke-width="1.59" fill="none" opacity="0.65"/>
<path d="M1137.0 99.0 Q1142.8 107.3 1144.2 117.3" stroke="#b3b9da" stroke-width="1.68" fill="none" opacity="0.67"/>
<path d="M1129.9 133.2 Q1134.8 151.4 1141.6 169.0" stroke="#b3b9da" stroke-width="1.03" fill="none" opacity="0.77"/>
<path d="M1140.7 247.5 Q1149.1 257.2 1151.9 269.8" stroke="#b3b9da" stroke-width="1.57" fill="none" opacity="0.56"/>
<path d="M1083.5 88.8 Q1090.8 98.8 1097.7 108.9" stroke="#b3b9da" stroke-width="0.98" fill="none" opacity="0.67"/>
<path d="M1123.4 100.8 Q1129.0 114.1 1139.8 123.5" stroke="#b3b9da" stroke-width="1.72" fill="none" opacity="0.73"/>
<path d="M1077.6 255.3 Q1080.7 273.8 1084.3 292.2" stroke="#b3b9da" stroke-width="1.18" fill="none" opacity="0.73"/>
<path d="M1128.2 286.3 Q1135.4 298.2 1140.0 311.3" stroke="#b3b9da" stroke-width="1.34" fill="none" opacity="0.72"/>
<path d="M1093.2 177.1 Q1097.4 186.9 1097.8 197.5" stroke="#b3b9da" stroke-width="1.10" fill="none" opacity="0.84"/>
<path d="M1093.2 246.0 Q1094.7 264.5 1100.9 282.0" stroke="#b3b9da" stroke-width="0.99" fill="none" opacity="0.68"/>
<path d="M1129.7 126.1 Q1133.3 144.4 1143.4 160.2" stroke="#b3b9da" stroke-width="1.15" fill="none" opacity="0.55"/>
<path d="M1072.0 147.8 Q1074.0 158.9 1080.8 167.9" stroke="#b3b9da" stroke-width="1.45" fill="none" opacity="0.75"/>
<path d="M1132.7 149.2 Q1138.4 159.7 1141.0 171.4" stroke="#b3b9da" stroke-width="0.91" fill="none" opacity="0.82"/>
<path d="M1139.8 90.6 Q1143.1 98.3 1145.1 106.3" stroke="#b3b9da" stroke-width="1.12" fill="none" opacity="0.86"/>
<path d="M1101.7 188.9 Q1108.7 197.2 1112.1 207.5" stroke="#b3b9da" stroke-width="0.86" fill="none" opacity="0.51"/>
<path d="M1112.2 235.5 Q1112.1 246.9 1119.5 255.7" stroke="#b3b9da" stroke-width="0.88" fill="none" opacity="0.67"/>
<path d="M1096.2 113.2 Q1102.3 128.7 1102.5 145.4" stroke="#b3b9da" stroke-width="0.98" fill="none" opacity="0.82"/>
<path d="M1096.3 144.8 Q1101.7 155.1 1108.3 164.6" stroke="#b3b9da" stroke-width="1.11" fill="none" opacity="0.74"/>
<path d="M1074.4 192.7 Q1076.1 204.5 1083.2 214.0" stroke="#b3b9da" stroke-width="1.73" fill="none" opacity="0.76"/>
<path d="M1101.3 116.1 Q1107.8 125.5 1109.3 136.9" stroke="#b3b9da" stroke-width="1.33" fill="none" opacity="0.58"/>
<path d="M1112.8 238.2 Q1124.5 248.4 1132.4 261.9" stroke="#b3b9da" stroke-width="1.14" fill="none" opacity="0.79"/>
<path d="M1143.8 146.0 Q1144.0 158.4 1150.9 168.6" stroke="#b3b9da" stroke-width="0.97" fill="none" opacity="0.77"/>
<path d="M1074.5 190.4 Q1078.3 209.1 1086.1 226.5" stroke="#b3b9da" stroke-width="1.35" fill="none" opacity="0.66"/>
<path d="M1115.8 211.6 Q1120.1 227.6 1127.9 242.1" stroke="#b3b9da" stroke-width="1.74" fill="none" opacity="0.75"/>
<path d="M1132.2 230.6 Q1141.5 245.5 1149.0 261.4" stroke="#b3b9da" stroke-width="1.63" fill="none" opacity="0.85"/>
<path d="M1137.6 268.4 Q1143.8 280.8 1146.7 294.3" stroke="#b3b9da" stroke-width="1.44" fill="none" opacity="0.86"/>
<path d="M1095.6 117.8 Q1103.5 135.1 1106.9 153.8" stroke="#b3b9da" stroke-width="0.94" fill="none" opacity="0.54"/>
<path d="M1106.6 250.4 Q1119.0 263.1 1125.3 279.7" stroke="#b3b9da" stroke-width="1.01" fill="none" opacity="0.72"/>
<path d="M1127.6 183.4 Q1132.5 194.4 1135.6 206.0" stroke="#b3b9da" stroke-width="1.32" fill="none" opacity="0.50"/>
<path d="M1085.8 155.7 Q1091.2 164.3 1092.7 174.3" stroke="#b3b9da" stroke-width="1.79" fill="none" opacity="0.76"/>
<path d="M1099.6 238.1 Q1104.8 255.0 1110.9 271.7" stroke="#b3b9da" stroke-width="1.41" fill="none" opacity="0.54"/>
<path d="M1100.1 163.4 Q1104.0 175.2 1113.0 183.8" stroke="#b3b9da" stroke-width="1.02" fill="none" opacity="0.55"/>
<path d="M1087.5 112.6 Q1099.1 127.5 1111.4 141.8" stroke="#b3b9da" stroke-width="0.83" fill="none" opacity="0.71"/>
<path d="M1083.3 173.2 Q1088.0 192.4 1091.2 211.8" stroke="#b3b9da" stroke-width="1.58" fill="none" opacity="0.70"/>
<path d="M1075.4 158.7 Q1078.4 175.8 1084.8 191.9" stroke="#b3b9da" stroke-width="1.79" fill="none" opacity="0.65"/>
<path d="M1123.5 244.2 Q1124.5 262.8 1131.3 280.2" stroke="#b3b9da" stroke-width="1.14" fill="none" opacity="0.65"/>
<path d="M1114.8 106.5 Q1123.0 115.7 1127.2 127.4" stroke="#b3b9da" stroke-width="0.99" fill="none" opacity="0.76"/>
<path d="M1092.2 85.3 Q1099.7 103.3 1102.9 122.5" stroke="#b3b9da" stroke-width="1.48" fill="none" opacity="0.53"/>
<path d="M1085.6 112.6 Q1088.4 127.1 1095.9 139.7" stroke="#b3b9da" stroke-width="1.46" fill="none" opacity="0.80"/>
<path d="M1135.3 205.4 Q1138.1 214.9 1145.7 221.3" stroke="#b3b9da" stroke-width="1.62" fill="none" opacity="0.76"/>
<path d="M1141.7 251.6 Q1146.9 260.0 1150.9 269.0" stroke="#b3b9da" stroke-width="1.72" fill="none" opacity="0.86"/>
<path d="M1066.0 76.6 Q1071.8 94.9 1082.9 110.4" stroke="#b3b9da" stroke-width="1.64" fill="none" opacity="0.53"/>
<path d="M1084.5 242.7 Q1086.4 254.6 1094.8 263.2" stroke="#b3b9da" stroke-width="0.82" fill="none" opacity="0.69"/>
<path d="M1138.5 227.1 Q1140.6 237.9 1143.6 248.4" stroke="#b3b9da" stroke-width="1.78" fill="none" opacity="0.55"/>
<path d="M1096.8 284.2 Q1105.1 299.3 1116.6 312.2" stroke="#b3b9da" stroke-width="1.06" fill="none" opacity="0.90"/>
<path d="M1130.0 101.2 Q1133.5 119.4 1136.6 137.7" stroke="#b3b9da" stroke-width="0.83" fill="none" opacity="0.81"/>
<path d="M1110.2 236.1 Q1116.5 248.3 1126.7 257.5" stroke="#b3b9da" stroke-width="1.53" fill="none" opacity="0.57"/>
<path d="M1090.3 168.7 Q1095.9 188.0 1107.8 204.3" stroke="#b3b9da" stroke-width="0.80" fill="none" opacity="0.75"/>
<path d="M1076.8 254.8 Q1081.5 273.2 1092.1 288.9" stroke="#b3b9da" stroke-width="1.73" fill="none" opacity="0.57"/>
<path d="M1071.3 237.3 Q1079.3 252.6 1086.4 268.3" stroke="#b3b9da" stroke-width="1.21" fill="none" opacity="0.79"/>
<path d="M1094.5 181.2 Q1105.0 193.6 1109.5 209.3" stroke="#b3b9da" stroke-width="1.26" fill="none" opacity="0.73"/>
<path d="M1116.6 262.5 Q1124.6 280.4 1135.5 296.7" stroke="#b3b9da" stroke-width="1.18" fill="none" opacity="0.72"/>
<path d="M1089.7 213.3 Q1102.4 227.1 1113.4 242.3" stroke="#b3b9da" stroke-width="0.81" fill="none" opacity="0.53"/>
<path d="M1096.7 134.9 Q1096.6 147.6 1102.9 158.5" stroke="#b3b9da" stroke-width="1.08" fill="none" opacity="0.64"/>
<path d="M1144.5 261.9 Q1149.7 269.9 1148.1 279.3" stroke="#b3b9da" stroke-width="1.49" fill="none" opacity="0.63"/>
<path d="M1076.2 101.4 Q1080.8 111.9 1087.7 121.1" stroke="#b3b9da" stroke-width="1.79" fill="none" opacity="0.57"/>
<path d="M1129.5 196.3 Q1131.1 216.4 1139.1 234.9" stroke="#b3b9da" stroke-width="0.93" fill="none" opacity="0.80"/>
<path d="M1122.1 158.0 Q1132.0 171.8 1143.5 184.4" stroke="#b3b9da" stroke-width="1.56" fill="none" opacity="0.80"/>
<path d="M1125.9 82.0 Q1131.0 100.8 1133.8 120.0" stroke="#b3b9da" stroke-width="1.59" fill="none" opacity="0.88"/>
<path d="M1100.4 145.8 Q1107.5 161.6 1113.3 177.8" stroke="#b3b9da" stroke-width="1.50" fill="none" opacity="0.88"/>
<path d="M1093.7 269.2 Q1100.3 282.8 1111.1 293.4" stroke="#b3b9da" stroke-width="1.21" fill="none" opacity="0.61"/>
<path d="M1089.1 156.6 Q1096.9 166.8 1101.1 178.9" stroke="#b3b9da" stroke-width="1.40" fill="none" opacity="0.59"/>
<path d="M1091.6 178.1 Q1096.5 188.2 1096.4 199.5" stroke="#b3b9da" stroke-width="1.57" fill="none" opacity="0.73"/>
<path d="M1074.5 281.6 Q1084.9 293.2 1091.8 307.1" stroke="#b3b9da" stroke-width="1.63" fill="none" opacity="0.65"/>
<path d="M1118.1 246.7 Q1123.3 257.0 1125.5 268.2" stroke="#b3b9da" stroke-width="1.38" fill="none" opacity="0.71"/>
<path d="M1123.6 100.3 Q1126.4 107.8 1132.9 112.2" stroke="#b3b9da" stroke-width="0.97" fill="none" opacity="0.80"/>
<path d="M1102.3 273.6 Q1111.7 289.4 1115.2 307.4" stroke="#b3b9da" stroke-width="1.69" fill="none" opacity="0.65"/>
<path d="M1068.7 257.4 Q1080.5 268.4 1085.7 283.6" stroke="#b3b9da" stroke-width="1.24" fill="none" opacity="0.69"/>
<path d="M1098.3 247.8 Q1110.5 262.5 1118.0 280.1" stroke="#b3b9da" stroke-width="1.77" fill="none" opacity="0.61"/>
<path d="M1119.5 268.5 Q1128.7 284.5 1131.6 302.7" stroke="#b3b9da" stroke-width="1.77" fill="none" opacity="0.52"/>
<path d="M1120.5 247.6 Q1124.6 263.7 1130.2 279.3" stroke="#b3b9da" stroke-width="1.79" fill="none" opacity="0.59"/>
<path d="M1135.7 248.7 Q1143.6 259.4 1150.7 270.7" stroke="#b3b9da" stroke-width="0.95" fill="none" opacity="0.84"/>
<path d="M1128.6 235.2 Q1136.4 250.3 1149.5 261.1" stroke="#b3b9da" stroke-width="1.52" fill="none" opacity="0.87"/>
<path d="M1143.5 227.5 Q1144.9 238.9 1150.4 249.0" stroke="#b3b9da" stroke-width="1.11" fill="none" opacity="0.61"/>
<path d="M1093.2 149.0 Q1100.4 155.1 1104.9 163.6" stroke="#b3b9da" stroke-width="1.02" fill="none" opacity="0.51"/>
<path d="M1121.7 249.5 Q1127.4 265.2 1138.1 277.9" stroke="#b3b9da" stroke-width="0.83" fill="none" opacity="0.73"/>
<path d="M1114.9 110.7 Q1118.5 127.9 1122.8 144.9" stroke="#b3b9da" stroke-width="1.34" fill="none" opacity="0.83"/>
<path d="M1073.7 264.0 Q1080.1 273.5 1083.0 284.6" stroke="#b3b9da" stroke-width="1.34" fill="none" opacity="0.54"/>
<path d="M1132.4 158.1 Q1134.5 177.5 1141.2 195.9" stroke="#b3b9da" stroke-width="0.91" fill="none" opacity="0.60"/>
<path d="M1117.5 276.6 Q1119.6 288.7 1126.2 299.0" stroke="#b3b9da" stroke-width="1.26" fill="none" opacity="0.74"/>
<path d="M1105.3 281.6 Q1107.5 290.2 1111.8 298.0" stroke="#b3b9da" stroke-width="1.20" fill="none" opacity="0.57"/>
<path d="M1109.6 137.3 Q1111.3 147.4 1113.7 157.3" stroke="#b3b9da" stroke-width="0.81" fill="none" opacity="0.62"/>
<path d="M1118.5 182.2 Q1122.7 196.3 1128.6 209.8" stroke="#b3b9da" stroke-width="1.06" fill="none" opacity="0.87"/>
<path d="M1121.0 88.5 Q1124.1 97.6 1125.9 107.1" stroke="#b3b9da" stroke-width="1.45" fill="none" opacity="0.86"/>
<path d="M1080.3 139.0 Q1087.3 153.5 1093.7 168.2" stroke="#b3b9da" stroke-width="1.51" fill="none" opacity="0.90"/>
<path d="M1074.1 159.1 Q1075.5 177.0 1083.9 192.9" stroke="#b3b9da" stroke-width="1.14" fill="none" opacity="0.60"/>
<path d="M1120.8 250.6 Q1127.5 263.4 1128.6 277.8" stroke="#b3b9da" stroke-width="1.50" fill="none" opacity="0.60"/>
<path d="M1069.9 81.9 Q1075.6 92.6 1082.0 103.0" stroke="#b3b9da" stroke-width="1.25" fill="none" opacity="0.70"/>
<path d="M1117.7 114.8 Q1119.7 130.7 1126.5 145.3" stroke="#b3b9da" stroke-width="1.36" fill="none" opacity="0.72"/>
<path d="M1127.9 213.6 Q1139.7 227.9 1147.3 244.7" stroke="#b3b9da" stroke-width="1.08" fill="none" opacity="0.83"/>
<path d="M1105.2 109.1 Q1112.3 122.8 1111.9 138.3" stroke="#b3b9da" stroke-width="1.15" fill="none" opacity="0.64"/>
<path d="M1090.6 235.0 Q1092.8 243.7 1099.9 249.3" stroke="#b3b9da" stroke-width="1.38" fill="none" opacity="0.69"/>
<path d="M1138.4 222.6 Q1142.8 233.5 1144.2 245.2" stroke="#b3b9da" stroke-width="1.13" fill="none" opacity="0.69"/>
<path d="M1110.4 115.6 Q1116.0 134.1 1125.4 151.1" stroke="#b3b9da" stroke-width="0.80" fill="none" opacity="0.69"/>
<path d="M1118.8 86.2 Q1121.5 103.3 1125.0 120.3" stroke="#b3b9da" stroke-width="1.32" fill="none" opacity="0.75"/>
<path d="M1099.1 201.2 Q1104.3 211.8 1109.0 222.7" stroke="#b3b9da" stroke-width="0.86" fill="none" opacity="0.74"/>
<path d="M1082.2 133.5 Q1092.3 147.0 1101.8 161.0" stroke="#b3b9da" stroke-width="1.38" fill="none" opacity="0.70"/>
<path d="M1109.5 152.6 Q1117.1 168.0 1127.7 181.5" stroke="#b3b9da" stroke-width="0.95" fill="none" opacity="0.56"/>
<path d="M1095.5 248.4 Q1101.2 257.0 1106.0 266.2" stroke="#b3b9da" stroke-width="1.30" fill="none" opacity="0.75"/>
<path d="M1095.2 158.5 Q1100.5 174.8 1101.3 191.9" stroke="#b3b9da" stroke-width="1.31" fill="none" opacity="0.56"/>
<path d="M1146.3 136.2 Q1150.6 145.7 1150.7 156.1" stroke="#b3b9da" stroke-width="1.14" fill="none" opacity="0.63"/>
<path d="M1096.0 165.9 Q1099.2 174.3 1104.3 181.7" stroke="#b3b9da" stroke-width="1.49" fill="none" opacity="0.59"/>
<path d="M1076.3 87.8 Q1083.4 99.8 1092.2 110.8" stroke="#b3b9da" stroke-width="1.74" fill="none" opacity="0.83"/>
<path d="M1081.4 138.7 Q1089.2 143.6 1090.8 152.6" stroke="#b3b9da" stroke-width="1.34" fill="none" opacity="0.88"/>
<path d="M1141.9 87.0 Q1145.9 98.6 1154.7 107.1" stroke="#b3b9da" stroke-width="0.90" fill="none" opacity="0.68"/>
<path d="M1132.5 243.2 Q1139.2 255.5 1148.3 266.2" stroke="#b3b9da" stroke-width="0.93" fill="none" opacity="0.84"/>
<path d="M1121.2 160.8 Q1122.7 169.9 1129.8 175.7" stroke="#b3b9da" stroke-width="0.99" fill="none" opacity="0.73"/>
<path d="M1124.0 207.0 Q1125.8 217.9 1130.1 228.0" stroke="#b3b9da" stroke-width="1.01" fill="none" opacity="0.78"/>
<path d="M1126.3 173.7 Q1135.0 187.7 1136.3 204.0" stroke="#b3b9da" stroke-width="1.01" fill="none" opacity="0.58"/>
<path d="M1116.1 248.6 Q1128.6 263.3 1136.9 280.6" stroke="#b3b9da" stroke-width="1.23" fill="none" opacity="0.84"/>
<path d="M1088.5 261.7 Q1093.4 272.1 1102.5 279.1" stroke="#b3b9da" stroke-width="1.46" fill="none" opacity="0.55"/>
<path d="M1099.1 186.9 Q1114.2 199.3 1123.3 216.6" stroke="#b3b9da" stroke-width="1.73" fill="none" opacity="0.78"/>
<path d="M1116.6 157.5 Q1120.9 171.0 1131.3 180.5" stroke="#b3b9da" stroke-width="0.90" fill="none" opacity="0.69"/>
<path d="M1113.7 275.8 Q1118.5 294.6 1126.3 312.4" stroke="#b3b9da" stroke-width="1.24" fill="none" opacity="0.87"/>
<path d="M1071.6 240.9 Q1079.8 245.3 1082.5 254.2" stroke="#b3b9da" stroke-width="1.25" fill="none" opacity="0.82"/>
<path d="M1129.1 211.6 Q1134.8 221.2 1139.9 231.1" stroke="#b3b9da" stroke-width="1.13" fill="none" opacity="0.71"/>
<path d="M1121.2 102.2 Q1120.2 111.8 1125.0 120.1" stroke="#b3b9da" stroke-width="0.82" fill="none" opacity="0.50"/>
<path d="M1138.9 145.3 Q1150.0 158.8 1155.1 175.5" stroke="#b3b9da" stroke-width="1.41" fill="none" opacity="0.85"/>
<path d="M1100.0 81.9 Q1112.7 95.5 1121.4 112.0" stroke="#b3b9da" stroke-width="1.51" fill="none" opacity="0.76"/>
<path d="M1125.8 210.2 Q1131.2 226.9 1140.0 242.2" stroke="#b3b9da" stroke-width="1.03" fill="none" opacity="0.53"/>
<path d="M1114.9 201.0 Q1115.0 212.8 1122.5 222.0" stroke="#b3b9da" stroke-width="1.40" fill="none" opacity="0.67"/>
<path d="M1078.4 116.6 Q1087.5 129.9 1095.4 143.9" stroke="#b3b9da" stroke-width="1.61" fill="none" opacity="0.63"/>
<path d="M1131.9 277.5 Q1139.5 293.3 1143.8 310.3" stroke="#b3b9da" stroke-width="1.26" fill="none" opacity="0.65"/>
<path d="M1094.7 277.3 Q1102.9 295.2 1114.3 311.2" stroke="#b3b9da" stroke-width="1.07" fill="none" opacity="0.67"/>
<path d="M1103.6 172.4 Q1106.7 187.5 1109.8 202.7" stroke="#b3b9da" stroke-width="1.38" fill="none" opacity="0.64"/>
<path d="M1079.1 156.1 Q1087.5 171.9 1088.6 189.7" stroke="#b3b9da" stroke-width="1.44" fill="none" opacity="0.81"/>
<path d="M1117.1 282.5 Q1122.6 290.3 1126.9 299.0" stroke="#b3b9da" stroke-width="0.82" fill="none" opacity="0.84"/>
<path d="M1101.9 216.9 Q1108.7 229.3 1113.7 242.5" stroke="#b3b9da" stroke-width="1.58" fill="none" opacity="0.85"/>
<path d="M1143.0 196.6 Q1146.1 211.3 1155.8 222.9" stroke="#b3b9da" stroke-width="1.13" fill="none" opacity="0.51"/>
<path d="M1105.4 261.1 Q1111.5 271.3 1119.2 280.3" stroke="#b3b9da" stroke-width="1.43" fill="none" opacity="0.63"/>
<path d="M1125.5 246.2 Q1134.2 262.7 1137.4 281.0" stroke="#b3b9da" stroke-width="1.21" fill="none" opacity="0.66"/>
<path d="M1092.5 164.0 Q1098.4 179.9 1099.5 196.8" stroke="#b3b9da" stroke-width="1.49" fill="none" opacity="0.76"/>
<path d="M1085.3 152.9 Q1091.5 164.6 1100.8 174.1" stroke="#b3b9da" stroke-width="1.15" fill="none" opacity="0.62"/>
<path d="M1085.6 283.7 Q1094.4 293.5 1099.6 305.7" stroke="#b3b9da" stroke-width="1.29" fill="none" opacity="0.81"/>
<path d="M1137.7 201.8 Q1138.6 213.0 1142.4 223.5" stroke="#b3b9da" stroke-width="1.17" fill="none" opacity="0.60"/>
<path d="M1100.7 126.0 Q1102.6 135.5 1107.6 143.8" stroke="#b3b9da" stroke-width="1.53" fill="none" opacity="0.51"/>
<path d="M1097.4 213.3 Q1106.4 226.2 1108.2 241.8" stroke="#b3b9da" stroke-width="1.55" fill="none" opacity="0.55"/>
<path d="M1070.9 239.5 Q1077.9 247.0 1079.9 257.2" stroke="#b3b9da" stroke-width="1.18" fill="none" opacity="0.76"/>
<path d="M1068.3 183.3 Q1077.1 199.5 1084.7 216.3" stroke="#b3b9da" stroke-width="0.96" fill="none" opacity="0.74"/>
<path d="M1077.6 97.7 Q1082.0 111.6 1084.2 126.0" stroke="#b3b9da" stroke-width="1.01" fill="none" opacity="0.56"/>
<path d="M1102.8 166.3 Q1106.4 179.3 1108.2 192.6" stroke="#b3b9da" stroke-width="1.30" fill="none" opacity="0.62"/>
<path d="M1105.4 163.2 Q1110.3 174.5 1118.9 183.4" stroke="#b3b9da" stroke-width="0.89" fill="none" opacity="0.74"/>
<path d="M1136.3 197.8 Q1142.8 215.1 1152.6 230.7" stroke="#b3b9da" stroke-width="1.14" fill="none" opacity="0.50"/>
<path d="M1140.9 180.9 Q1145.4 184.1 1146.1 189.6" stroke="#fbfbff" stroke-width="1.88" fill="none" opacity="0.88"/>
<path d="M1084.2 244.0 Q1085.0 250.0 1087.5 255.4" stroke="#fbfbff" stroke-width="1.40" fill="none" opacity="0.81"/>
<path d="M1087.0 191.8 Q1098.1 201.7 1104.7 215.0" stroke="#fbfbff" stroke-width="2.18" fill="none" opacity="0.71"/>
<path d="M1103.6 140.4 Q1101.2 149.4 1106.6 157.0" stroke="#fbfbff" stroke-width="1.45" fill="none" opacity="0.73"/>
<path d="M1099.9 99.5 Q1104.8 104.5 1105.6 111.5" stroke="#fbfbff" stroke-width="1.17" fill="none" opacity="0.80"/>
<path d="M1144.7 191.1 Q1150.0 203.3 1154.2 216.0" stroke="#fbfbff" stroke-width="1.79" fill="none" opacity="0.70"/>
<path d="M1111.0 260.2 Q1111.1 267.2 1117.0 271.0" stroke="#fbfbff" stroke-width="1.94" fill="none" opacity="0.80"/>
<path d="M1079.5 164.6 Q1080.3 172.7 1086.1 178.3" stroke="#fbfbff" stroke-width="1.67" fill="none" opacity="0.94"/>
<path d="M1110.3 277.8 Q1114.0 287.1 1117.5 296.5" stroke="#fbfbff" stroke-width="2.03" fill="none" opacity="0.89"/>
<path d="M1113.4 115.3 Q1112.4 127.6 1118.9 138.1" stroke="#fbfbff" stroke-width="1.49" fill="none" opacity="0.76"/>
<path d="M1074.9 154.4 Q1076.4 161.9 1081.2 168.0" stroke="#fbfbff" stroke-width="1.23" fill="none" opacity="0.98"/>
<path d="M1078.0 119.5 Q1083.2 131.7 1093.3 140.3" stroke="#fbfbff" stroke-width="1.83" fill="none" opacity="0.77"/>
<path d="M1130.1 225.3 Q1135.9 238.2 1145.2 248.9" stroke="#fbfbff" stroke-width="1.32" fill="none" opacity="0.86"/>
<path d="M1066.6 104.3 Q1075.0 114.5 1082.7 125.2" stroke="#fbfbff" stroke-width="1.72" fill="none" opacity="0.97"/>
<path d="M1088.2 108.8 Q1097.0 120.3 1103.4 133.2" stroke="#fbfbff" stroke-width="1.05" fill="none" opacity="0.72"/>
<path d="M1095.9 266.1 Q1103.8 276.2 1109.9 287.5" stroke="#fbfbff" stroke-width="2.17" fill="none" opacity="0.88"/>
<path d="M1088.4 151.7 Q1092.4 159.8 1095.8 168.2" stroke="#fbfbff" stroke-width="2.15" fill="none" opacity="0.71"/>
<path d="M1098.2 233.7 Q1102.2 246.8 1104.3 260.4" stroke="#fbfbff" stroke-width="1.43" fill="none" opacity="0.97"/>
<path d="M1110.1 280.8 Q1116.2 292.1 1125.2 301.3" stroke="#fbfbff" stroke-width="2.19" fill="none" opacity="0.78"/>
<path d="M1116.9 263.4 Q1118.3 269.6 1122.4 274.6" stroke="#fbfbff" stroke-width="1.20" fill="none" opacity="0.75"/>
<path d="M1146.7 175.0 Q1152.3 188.6 1152.3 203.3" stroke="#fbfbff" stroke-width="1.28" fill="none" opacity="0.93"/>
<path d="M1079.1 102.3 Q1084.9 115.2 1095.7 124.2" stroke="#fbfbff" stroke-width="2.04" fill="none" opacity="0.82"/>
<path d="M1087.6 197.3 Q1089.5 204.9 1096.6 208.3" stroke="#fbfbff" stroke-width="2.19" fill="none" opacity="0.81"/>
<path d="M1088.8 208.9 Q1090.9 219.4 1093.5 229.7" stroke="#fbfbff" stroke-width="1.80" fill="none" opacity="0.91"/>
<path d="M1092.2 152.2 Q1092.9 162.6 1100.6 169.6" stroke="#fbfbff" stroke-width="1.23" fill="none" opacity="0.71"/>
<path d="M1114.7 288.3 Q1112.1 295.5 1117.3 301.0" stroke="#fbfbff" stroke-width="2.09" fill="none" opacity="0.78"/>
<path d="M1088.0 123.7 Q1094.6 132.2 1097.1 142.8" stroke="#fbfbff" stroke-width="1.60" fill="none" opacity="0.86"/>
<path d="M1080.1 219.7 Q1087.7 226.0 1091.4 235.2" stroke="#fbfbff" stroke-width="1.17" fill="none" opacity="0.87"/>
<path d="M1131.4 195.5 Q1133.0 202.7 1139.4 206.5" stroke="#fbfbff" stroke-width="1.67" fill="none" opacity="0.78"/>
<path d="M1101.4 117.4 Q1101.3 123.0 1105.3 126.8" stroke="#fbfbff" stroke-width="1.24" fill="none" opacity="0.81"/>
<path d="M1141.8 94.6 Q1146.4 104.9 1153.0 114.2" stroke="#fbfbff" stroke-width="1.99" fill="none" opacity="0.94"/>
<path d="M1101.7 243.0 Q1106.5 255.3 1115.7 264.7" stroke="#fbfbff" stroke-width="1.02" fill="none" opacity="0.93"/>
<path d="M1096.3 110.5 Q1098.8 118.2 1105.3 123.0" stroke="#fbfbff" stroke-width="2.03" fill="none" opacity="0.89"/>
<path d="M1097.8 144.3 Q1101.2 148.9 1104.1 153.9" stroke="#fbfbff" stroke-width="1.78" fill="none" opacity="0.94"/>
<path d="M1126.6 263.6 Q1130.5 275.5 1136.3 286.6" stroke="#fbfbff" stroke-width="1.78" fill="none" opacity="0.93"/>
<path d="M1076.4 91.6 Q1081.8 98.9 1086.4 106.6" stroke="#fbfbff" stroke-width="1.08" fill="none" opacity="0.90"/>
<path d="M1119.9 156.4 Q1122.9 163.6 1123.4 171.3" stroke="#fbfbff" stroke-width="2.18" fill="none" opacity="0.78"/>
<path d="M1083.9 94.0 Q1090.1 103.1 1094.4 113.1" stroke="#fbfbff" stroke-width="1.68" fill="none" opacity="0.89"/>
<path d="M1114.5 293.7 Q1113.1 300.2 1118.0 304.7" stroke="#fbfbff" stroke-width="1.86" fill="none" opacity="0.93"/>
<path d="M1134.3 261.2 Q1138.1 269.5 1144.1 276.4" stroke="#fbfbff" stroke-width="1.62" fill="none" opacity="0.93"/>
<path d="M1103.0 229.8 Q1106.1 237.6 1111.1 244.5" stroke="#fbfbff" stroke-width="1.54" fill="none" opacity="0.81"/>
<path d="M1102.8 164.2 Q1106.8 172.1 1111.6 179.4" stroke="#fbfbff" stroke-width="1.17" fill="none" opacity="0.81"/>
<path d="M1121.6 160.7 Q1124.1 168.2 1126.0 175.8" stroke="#fbfbff" stroke-width="1.55" fill="none" opacity="0.80"/>
<path d="M1110.6 273.3 Q1109.6 279.9 1113.2 285.4" stroke="#fbfbff" stroke-width="1.76" fill="none" opacity="0.85"/>
<path d="M1086.7 142.1 Q1086.9 149.1 1092.5 153.5" stroke="#fbfbff" stroke-width="2.07" fill="none" opacity="0.99"/>
<path d="M1077.7 115.0 Q1081.6 125.2 1081.8 136.1" stroke="#fbfbff" stroke-width="1.87" fill="none" opacity="0.88"/>
<path d="M1124.8 268.6 Q1128.0 275.9 1133.3 281.8" stroke="#fbfbff" stroke-width="2.16" fill="none" opacity="0.86"/>
<path d="M1111.5 184.0 Q1120.2 195.0 1129.2 205.6" stroke="#fbfbff" stroke-width="1.24" fill="none" opacity="0.73"/>
<path d="M1104.0 249.0 Q1103.9 262.6 1110.8 274.3" stroke="#fbfbff" stroke-width="1.79" fill="none" opacity="0.78"/>
<path d="M1086.1 204.2 Q1086.0 212.2 1092.3 217.1" stroke="#fbfbff" stroke-width="1.08" fill="none" opacity="0.76"/>
<path d="M1086.5 191.8 Q1091.0 197.9 1091.0 205.5" stroke="#fbfbff" stroke-width="1.86" fill="none" opacity="0.97"/>
<path d="M1107.1 271.3 Q1112.5 279.7 1114.4 289.5" stroke="#fbfbff" stroke-width="1.28" fill="none" opacity="0.81"/>
<path d="M1139.5 217.1 Q1141.0 231.2 1147.8 243.5" stroke="#fbfbff" stroke-width="1.38" fill="none" opacity="0.75"/>
<path d="M1068.2 220.1 Q1073.4 232.1 1083.0 241.0" stroke="#fbfbff" stroke-width="1.19" fill="none" opacity="0.95"/>
<path d="M1096.7 194.3 Q1100.2 199.0 1099.4 204.7" stroke="#fbfbff" stroke-width="1.31" fill="none" opacity="0.95"/>
<path d="M1134.4 175.1 Q1143.6 184.8 1150.2 196.4" stroke="#fbfbff" stroke-width="1.73" fill="none" opacity="0.99"/>
<path d="M1128.3 214.2 Q1131.8 223.7 1135.8 233.1" stroke="#fbfbff" stroke-width="1.53" fill="none" opacity="0.91"/>
<path d="M1137.5 88.0 Q1141.5 99.3 1150.1 107.5" stroke="#fbfbff" stroke-width="1.69" fill="none" opacity="0.83"/>
<path d="M1087.4 218.8 Q1090.0 226.2 1096.7 230.5" stroke="#fbfbff" stroke-width="1.64" fill="none" opacity="0.88"/>
<path d="M1085.6 100.7 Q1087.2 106.7 1088.9 112.7" stroke="#fbfbff" stroke-width="1.71" fill="none" opacity="0.82"/>
<path d="M1182.1 240.9 Q1187.7 243.3 1191.9 247.8" stroke="#c2c7e2" stroke-width="1.26" fill="none" opacity="0.64"/>
<path d="M1172.9 236.1 Q1179.3 236.1 1183.4 241.1" stroke="#c2c7e2" stroke-width="1.33" fill="none" opacity="0.66"/>
<path d="M1176.0 221.5 Q1181.8 220.7 1186.9 223.5" stroke="#c2c7e2" stroke-width="0.98" fill="none" opacity="0.56"/>
<path d="M1148.8 270.4 Q1152.9 273.8 1158.1 275.0" stroke="#c2c7e2" stroke-width="0.79" fill="none" opacity="0.67"/>
<path d="M1189.6 233.9 Q1202.9 237.0 1215.1 243.2" stroke="#c2c7e2" stroke-width="0.79" fill="none" opacity="0.62"/>
<path d="M1227.4 193.4 Q1239.4 197.2 1248.2 206.3" stroke="#c2c7e2" stroke-width="1.38" fill="none" opacity="0.53"/>
<path d="M1203.1 199.0 Q1210.8 207.1 1217.4 216.0" stroke="#c2c7e2" stroke-width="0.97" fill="none" opacity="0.71"/>
<path d="M1170.6 200.9 Q1184.4 203.2 1198.0 199.6" stroke="#c2c7e2" stroke-width="1.34" fill="none" opacity="0.80"/>
<path d="M1194.2 282.5 Q1200.9 286.4 1206.1 292.1" stroke="#c2c7e2" stroke-width="0.96" fill="none" opacity="0.53"/>
<path d="M1175.4 209.9 Q1178.4 214.6 1180.8 219.6" stroke="#c2c7e2" stroke-width="1.31" fill="none" opacity="0.72"/>
<path d="M1134.0 272.9 Q1144.7 277.0 1155.8 279.6" stroke="#c2c7e2" stroke-width="1.36" fill="none" opacity="0.77"/>
<path d="M1238.0 187.9 Q1246.4 186.9 1253.1 192.2" stroke="#c2c7e2" stroke-width="0.90" fill="none" opacity="0.48"/>
<path d="M1268.6 238.0 Q1274.3 251.7 1284.8 262.2" stroke="#c2c7e2" stroke-width="1.29" fill="none" opacity="0.54"/>
<path d="M1180.0 217.5 Q1184.6 224.0 1189.3 230.5" stroke="#c2c7e2" stroke-width="1.33" fill="none" opacity="0.43"/>
<path d="M1220.1 170.8 Q1231.2 174.8 1242.9 176.0" stroke="#c2c7e2" stroke-width="1.48" fill="none" opacity="0.66"/>
<path d="M1249.1 270.4 Q1264.3 269.5 1278.0 276.0" stroke="#c2c7e2" stroke-width="1.29" fill="none" opacity="0.56"/>
<path d="M1163.4 202.1 Q1173.3 212.1 1182.9 222.5" stroke="#c2c7e2" stroke-width="1.40" fill="none" opacity="0.53"/>
<path d="M1254.1 286.1 Q1261.6 290.8 1266.7 298.0" stroke="#c2c7e2" stroke-width="0.81" fill="none" opacity="0.72"/>
<path d="M1241.1 197.5 Q1254.9 201.4 1269.1 200.1" stroke="#c2c7e2" stroke-width="1.11" fill="none" opacity="0.41"/>
<path d="M1246.3 199.0 Q1250.8 205.0 1258.1 206.0" stroke="#c2c7e2" stroke-width="1.19" fill="none" opacity="0.41"/>
<path d="M1229.1 194.2 Q1233.9 200.1 1239.1 205.6" stroke="#c2c7e2" stroke-width="1.22" fill="none" opacity="0.54"/>
<path d="M1143.5 219.2 Q1156.7 217.5 1169.9 218.9" stroke="#c2c7e2" stroke-width="0.71" fill="none" opacity="0.59"/>
<path d="M1196.1 253.9 Q1202.9 252.9 1206.1 259.0" stroke="#c2c7e2" stroke-width="1.48" fill="none" opacity="0.63"/>
<path d="M1185.1 189.8 Q1193.8 199.7 1203.7 208.3" stroke="#c2c7e2" stroke-width="0.87" fill="none" opacity="0.52"/>
<path d="M1255.8 218.2 Q1259.2 222.1 1263.6 225.0" stroke="#c2c7e2" stroke-width="1.40" fill="none" opacity="0.75"/>
<path d="M1248.2 215.8 Q1257.9 218.3 1267.0 222.1" stroke="#c2c7e2" stroke-width="1.20" fill="none" opacity="0.56"/>
<path d="M1258.7 291.4 Q1268.0 299.4 1280.0 301.7" stroke="#c2c7e2" stroke-width="1.47" fill="none" opacity="0.58"/>
<path d="M1174.8 171.5 Q1184.7 168.2 1194.7 170.9" stroke="#c2c7e2" stroke-width="1.07" fill="none" opacity="0.74"/>
<path d="M1179.0 227.8 Q1181.5 237.3 1188.2 244.5" stroke="#c2c7e2" stroke-width="1.46" fill="none" opacity="0.52"/>
<path d="M1167.8 265.3 Q1175.0 267.6 1180.7 272.6" stroke="#c2c7e2" stroke-width="1.22" fill="none" opacity="0.54"/>
<path d="M1226.6 205.2 Q1233.9 209.5 1242.4 209.0" stroke="#c2c7e2" stroke-width="0.85" fill="none" opacity="0.46"/>
<path d="M1148.5 252.0 Q1149.6 260.5 1157.1 264.7" stroke="#c2c7e2" stroke-width="1.24" fill="none" opacity="0.59"/>
<path d="M1193.6 272.7 Q1204.9 277.9 1213.3 287.3" stroke="#c2c7e2" stroke-width="1.15" fill="none" opacity="0.72"/>
<path d="M1175.0 206.6 Q1181.9 206.9 1188.1 209.8" stroke="#c2c7e2" stroke-width="0.90" fill="none" opacity="0.41"/>
<path d="M1194.6 217.7 Q1198.5 225.3 1206.7 227.3" stroke="#c2c7e2" stroke-width="0.82" fill="none" opacity="0.59"/>
<path d="M1143.1 226.4 Q1152.8 227.4 1160.9 232.8" stroke="#c2c7e2" stroke-width="1.00" fill="none" opacity="0.67"/>
<path d="M1172.2 205.1 Q1181.4 203.4 1190.3 206.1" stroke="#c2c7e2" stroke-width="1.24" fill="none" opacity="0.60"/>
<path d="M1167.3 245.0 Q1172.0 253.9 1176.2 263.1" stroke="#c2c7e2" stroke-width="1.19" fill="none" opacity="0.63"/>
<path d="M1268.6 238.7 Q1279.9 239.4 1291.3 238.5" stroke="#c2c7e2" stroke-width="1.04" fill="none" opacity="0.66"/>
<path d="M1247.2 228.6 Q1252.7 229.1 1257.8 231.2" stroke="#c2c7e2" stroke-width="1.20" fill="none" opacity="0.41"/>
<path d="M1260.7 244.0 Q1270.0 248.1 1280.1 249.0" stroke="#c2c7e2" stroke-width="1.13" fill="none" opacity="0.54"/>
<path d="M1254.9 258.2 Q1258.1 266.6 1262.6 274.4" stroke="#c2c7e2" stroke-width="0.78" fill="none" opacity="0.53"/>
<path d="M1250.0 284.2 Q1255.2 289.0 1257.8 295.6" stroke="#c2c7e2" stroke-width="1.24" fill="none" opacity="0.76"/>
<path d="M1166.2 188.7 Q1174.9 188.8 1182.3 193.4" stroke="#c2c7e2" stroke-width="0.78" fill="none" opacity="0.50"/>
<path d="M1257.7 263.2 Q1264.1 271.8 1271.0 280.0" stroke="#c2c7e2" stroke-width="1.03" fill="none" opacity="0.53"/>
<path d="M1159.0 168.1 Q1167.0 172.1 1174.0 177.7" stroke="#c2c7e2" stroke-width="1.45" fill="none" opacity="0.41"/>
<path d="M1146.5 265.9 Q1155.9 271.9 1166.3 276.0" stroke="#c2c7e2" stroke-width="1.33" fill="none" opacity="0.75"/>
<path d="M1248.2 253.4 Q1252.9 258.6 1259.3 261.4" stroke="#c2c7e2" stroke-width="1.14" fill="none" opacity="0.70"/>
<path d="M1153.4 285.1 Q1153.9 292.1 1160.0 295.6" stroke="#c2c7e2" stroke-width="1.42" fill="none" opacity="0.42"/>
<path d="M1174.7 226.8 Q1184.8 236.0 1190.3 248.4" stroke="#c2c7e2" stroke-width="1.35" fill="none" opacity="0.71"/>
<path d="M1143.2 286.2 Q1148.5 289.8 1154.8 290.0" stroke="#c2c7e2" stroke-width="1.25" fill="none" opacity="0.79"/>
<path d="M1152.2 192.0 Q1165.4 197.7 1179.8 198.5" stroke="#c2c7e2" stroke-width="1.47" fill="none" opacity="0.73"/>
<path d="M1265.1 269.4 Q1275.9 275.8 1286.4 282.4" stroke="#c2c7e2" stroke-width="1.35" fill="none" opacity="0.41"/>
<path d="M1170.9 190.0 Q1174.2 194.0 1177.8 197.6" stroke="#c2c7e2" stroke-width="1.45" fill="none" opacity="0.68"/>
<path d="M1237.9 190.9 Q1242.8 193.2 1247.5 196.0" stroke="#c2c7e2" stroke-width="0.73" fill="none" opacity="0.53"/>
<path d="M1198.8 262.1 Q1210.9 265.3 1223.2 268.2" stroke="#c2c7e2" stroke-width="1.23" fill="none" opacity="0.69"/>
<path d="M1273.1 264.3 Q1277.2 276.8 1285.2 287.2" stroke="#c2c7e2" stroke-width="1.36" fill="none" opacity="0.48"/>
<path d="M1188.2 221.0 Q1192.5 234.3 1201.0 245.4" stroke="#c2c7e2" stroke-width="1.05" fill="none" opacity="0.71"/>
<path d="M1222.9 241.6 Q1237.1 240.8 1249.9 246.9" stroke="#c2c7e2" stroke-width="1.09" fill="none" opacity="0.66"/>
<path d="M1225.8 219.5 Q1233.4 223.5 1241.9 223.4" stroke="#c2c7e2" stroke-width="1.45" fill="none" opacity="0.77"/>
<path d="M1191.4 236.7 Q1199.0 234.1 1206.0 238.2" stroke="#c2c7e2" stroke-width="1.19" fill="none" opacity="0.53"/>
<path d="M1158.2 221.1 Q1161.6 227.1 1168.5 226.4" stroke="#c2c7e2" stroke-width="0.80" fill="none" opacity="0.63"/>
<path d="M1266.4 180.4 Q1278.7 185.4 1292.1 184.8" stroke="#c2c7e2" stroke-width="1.23" fill="none" opacity="0.72"/>
<path d="M1220.2 271.5 Q1232.4 277.7 1246.0 277.3" stroke="#c2c7e2" stroke-width="0.91" fill="none" opacity="0.69"/>
<path d="M1149.3 211.9 Q1156.0 221.3 1158.9 232.4" stroke="#c2c7e2" stroke-width="1.36" fill="none" opacity="0.67"/>
<path d="M1241.8 269.7 Q1249.1 270.5 1256.3 271.7" stroke="#c2c7e2" stroke-width="0.71" fill="none" opacity="0.52"/>
<path d="M1229.2 208.9 Q1236.2 214.2 1245.0 214.2" stroke="#c2c7e2" stroke-width="0.88" fill="none" opacity="0.75"/>
<path d="M1241.7 189.2 Q1249.6 194.9 1258.4 199.0" stroke="#c2c7e2" stroke-width="1.23" fill="none" opacity="0.68"/>
<path d="M1134.8 259.1 Q1145.7 257.8 1155.2 263.2" stroke="#c2c7e2" stroke-width="1.45" fill="none" opacity="0.41"/>
<path d="M1148.1 181.9 Q1153.2 185.5 1158.4 181.8" stroke="#c2c7e2" stroke-width="1.08" fill="none" opacity="0.60"/>
<path d="M1266.5 164.8 Q1271.7 171.9 1279.1 176.6" stroke="#c2c7e2" stroke-width="1.13" fill="none" opacity="0.74"/>
<path d="M1233.8 293.0 Q1247.6 297.6 1262.0 300.3" stroke="#c2c7e2" stroke-width="0.75" fill="none" opacity="0.80"/>
<path d="M1177.8 204.6 Q1189.1 209.6 1200.4 214.7" stroke="#c2c7e2" stroke-width="1.04" fill="none" opacity="0.76"/>
<path d="M1185.6 201.4 Q1196.6 209.3 1204.9 220.1" stroke="#c2c7e2" stroke-width="1.40" fill="none" opacity="0.44"/>
<path d="M1246.9 244.5 Q1256.2 251.5 1265.9 257.9" stroke="#c2c7e2" stroke-width="0.87" fill="none" opacity="0.54"/>
<path d="M1148.2 212.5 Q1149.1 220.8 1156.5 224.9" stroke="#c2c7e2" stroke-width="1.21" fill="none" opacity="0.58"/>
<path d="M1230.0 232.9 Q1230.3 240.9 1236.8 245.7" stroke="#c2c7e2" stroke-width="1.18" fill="none" opacity="0.65"/>
<path d="M1255.8 165.6 Q1259.9 170.0 1261.8 175.7" stroke="#c2c7e2" stroke-width="0.84" fill="none" opacity="0.48"/>
<path d="M1153.5 277.5 Q1157.4 286.5 1166.2 290.7" stroke="#c2c7e2" stroke-width="1.01" fill="none" opacity="0.66"/>
<path d="M1135.9 204.1 Q1140.8 209.4 1148.0 210.6" stroke="#c2c7e2" stroke-width="1.01" fill="none" opacity="0.77"/>
<path d="M1246.7 139.6 Q1247.4 149.0 1245.7 158.2" stroke="#c2c7e2" stroke-width="0.89" fill="none" opacity="0.49"/>
<path d="M1247.6 156.4 Q1243.7 161.3 1246.4 167.1" stroke="#c2c7e2" stroke-width="1.00" fill="none" opacity="0.42"/>
<path d="M1252.7 86.7 Q1253.4 98.5 1248.5 109.2" stroke="#c2c7e2" stroke-width="0.79" fill="none" opacity="0.46"/>
<path d="M1265.9 139.3 Q1265.5 153.2 1258.6 165.4" stroke="#c2c7e2" stroke-width="1.13" fill="none" opacity="0.63"/>
<path d="M1253.8 92.2 Q1252.8 99.8 1258.4 105.1" stroke="#c2c7e2" stroke-width="1.39" fill="none" opacity="0.56"/>
<path d="M1251.1 177.3 Q1251.9 191.4 1252.6 205.4" stroke="#c2c7e2" stroke-width="0.97" fill="none" opacity="0.57"/>
<path d="M1235.5 115.9 Q1239.0 124.4 1245.6 130.7" stroke="#c2c7e2" stroke-width="1.19" fill="none" opacity="0.62"/>
<path d="M1254.7 181.3 Q1255.7 193.7 1257.7 206.1" stroke="#c2c7e2" stroke-width="1.45" fill="none" opacity="0.56"/>
<path d="M1265.3 126.3 Q1266.7 137.0 1263.8 147.3" stroke="#c2c7e2" stroke-width="1.21" fill="none" opacity="0.68"/>
<path d="M1248.1 89.9 Q1257.3 100.2 1259.6 113.9" stroke="#c2c7e2" stroke-width="0.88" fill="none" opacity="0.73"/>
<path d="M1237.6 123.5 Q1246.1 134.7 1251.5 147.7" stroke="#c2c7e2" stroke-width="0.93" fill="none" opacity="0.78"/>
<path d="M1273.3 164.1 Q1280.8 173.5 1282.3 185.4" stroke="#c2c7e2" stroke-width="1.15" fill="none" opacity="0.71"/>
<path d="M1268.8 100.0 Q1273.5 108.3 1279.1 115.9" stroke="#c2c7e2" stroke-width="0.72" fill="none" opacity="0.51"/>
<path d="M1255.2 186.8 Q1258.1 192.4 1258.9 198.6" stroke="#c2c7e2" stroke-width="0.81" fill="none" opacity="0.80"/>
<path d="M1242.2 142.8 Q1246.2 152.3 1244.4 162.5" stroke="#c2c7e2" stroke-width="1.29" fill="none" opacity="0.61"/>
<path d="M1253.8 143.1 Q1250.2 153.0 1253.3 163.0" stroke="#c2c7e2" stroke-width="0.75" fill="none" opacity="0.55"/>
<path d="M1249.2 183.0 Q1256.3 195.8 1259.5 210.2" stroke="#c2c7e2" stroke-width="1.19" fill="none" opacity="0.47"/>
<path d="M1259.7 179.2 Q1256.8 190.1 1253.6 201.0" stroke="#c2c7e2" stroke-width="1.00" fill="none" opacity="0.77"/>
<path d="M1264.6 155.7 Q1265.5 165.1 1269.9 173.5" stroke="#c2c7e2" stroke-width="0.76" fill="none" opacity="0.53"/>
<path d="M1267.5 96.7 Q1270.6 107.2 1272.2 118.0" stroke="#c2c7e2" stroke-width="1.48" fill="none" opacity="0.51"/>
<path d="M1252.0 179.1 Q1249.8 188.4 1248.7 198.0" stroke="#c2c7e2" stroke-width="1.16" fill="none" opacity="0.74"/>
<path d="M1260.8 146.5 Q1255.8 155.8 1253.9 166.2" stroke="#c2c7e2" stroke-width="1.21" fill="none" opacity="0.42"/>
<path d="M1239.3 133.3 Q1243.5 138.4 1243.9 145.0" stroke="#c2c7e2" stroke-width="1.27" fill="none" opacity="0.59"/>
<path d="M1273.9 150.7 Q1269.2 162.9 1269.7 175.9" stroke="#c2c7e2" stroke-width="1.28" fill="none" opacity="0.49"/>
<path d="M1268.9 104.5 Q1268.4 115.4 1267.4 126.3" stroke="#c2c7e2" stroke-width="1.14" fill="none" opacity="0.48"/>
<path d="M1277.0 162.1 Q1281.0 176.1 1281.2 190.7" stroke="#c2c7e2" stroke-width="0.73" fill="none" opacity="0.61"/>
<path d="M1242.2 108.0 Q1246.2 120.6 1244.3 133.7" stroke="#c2c7e2" stroke-width="1.48" fill="none" opacity="0.43"/>
<path d="M1246.2 186.4 Q1245.9 192.2 1248.8 197.2" stroke="#c2c7e2" stroke-width="1.09" fill="none" opacity="0.53"/>
<path d="M1275.9 158.0 Q1280.2 170.5 1280.7 183.6" stroke="#c2c7e2" stroke-width="0.83" fill="none" opacity="0.63"/>
<path d="M1256.5 83.0 Q1260.2 95.0 1264.3 106.9" stroke="#c2c7e2" stroke-width="0.83" fill="none" opacity="0.49"/>
<path d="M1270.3 112.2 Q1274.3 117.6 1275.3 124.1" stroke="#c2c7e2" stroke-width="1.24" fill="none" opacity="0.60"/>
<path d="M1255.4 173.8 Q1261.5 183.0 1265.8 193.1" stroke="#c2c7e2" stroke-width="1.38" fill="none" opacity="0.62"/>
<path d="M1248.6 169.0 Q1250.8 182.9 1250.7 197.0" stroke="#c2c7e2" stroke-width="0.81" fill="none" opacity="0.54"/>
<path d="M1274.7 185.3 Q1277.3 198.9 1282.6 211.6" stroke="#c2c7e2" stroke-width="1.45" fill="none" opacity="0.53"/>
<path d="M1244.5 125.3 Q1244.0 135.7 1242.3 146.1" stroke="#c2c7e2" stroke-width="1.09" fill="none" opacity="0.50"/>
<path d="M1254.8 119.0 Q1249.7 124.8 1251.9 132.2" stroke="#c2c7e2" stroke-width="1.16" fill="none" opacity="0.77"/>
<path d="M1256.9 192.0 Q1258.2 197.4 1259.8 202.7" stroke="#c2c7e2" stroke-width="1.33" fill="none" opacity="0.76"/>
<path d="M1271.6 111.4 Q1269.5 119.5 1271.9 127.6" stroke="#c2c7e2" stroke-width="1.45" fill="none" opacity="0.77"/>
<path d="M1265.1 162.3 Q1268.1 172.5 1275.3 180.3" stroke="#c2c7e2" stroke-width="1.36" fill="none" opacity="0.66"/>
<path d="M1274.1 113.6 Q1276.1 119.9 1271.0 124.0" stroke="#c2c7e2" stroke-width="1.39" fill="none" opacity="0.45"/>
<path d="M1161.7 267.0 Q1163.2 270.2 1161.4 273.2" stroke="#a9b0d6" stroke-width="1.08" fill="none" opacity="0.50"/>
<path d="M1238.0 209.6 Q1239.7 207.5 1241.0 209.8" stroke="#a9b0d6" stroke-width="1.40" fill="none" opacity="0.67"/>
<path d="M1091.4 218.4 Q1095.4 215.8 1096.8 220.3" stroke="#a9b0d6" stroke-width="1.52" fill="none" opacity="0.64"/>
<path d="M1133.3 147.8 Q1135.9 149.7 1137.1 152.7" stroke="#a9b0d6" stroke-width="0.96" fill="none" opacity="0.87"/>
<path d="M1269.7 220.1 Q1273.0 217.6 1274.3 221.5" stroke="#a9b0d6" stroke-width="1.25" fill="none" opacity="0.88"/>
<path d="M1139.0 184.1 Q1135.8 185.7 1138.7 188.0" stroke="#a9b0d6" stroke-width="1.52" fill="none" opacity="0.63"/>
<path d="M1247.2 105.6 Q1250.9 102.6 1253.0 106.8" stroke="#a9b0d6" stroke-width="0.87" fill="none" opacity="0.73"/>
<path d="M1212.8 250.7 Q1215.1 251.2 1215.0 253.6" stroke="#a9b0d6" stroke-width="0.80" fill="none" opacity="0.65"/>
<path d="M1263.3 169.5 Q1263.9 173.4 1267.7 174.4" stroke="#a9b0d6" stroke-width="1.22" fill="none" opacity="0.75"/>
<path d="M1078.2 155.5 Q1081.7 159.0 1078.6 162.8" stroke="#a9b0d6" stroke-width="1.43" fill="none" opacity="0.82"/>
<path d="M1174.9 155.3 Q1177.9 159.5 1173.6 162.5" stroke="#a9b0d6" stroke-width="1.20" fill="none" opacity="0.61"/>
<path d="M1182.9 258.3 Q1184.1 261.6 1186.8 259.4" stroke="#a9b0d6" stroke-width="0.99" fill="none" opacity="0.72"/>
<path d="M1178.0 130.6 Q1182.4 130.4 1180.1 134.1" stroke="#a9b0d6" stroke-width="1.20" fill="none" opacity="0.59"/>
<path d="M1226.8 280.2 Q1224.5 282.6 1226.4 285.2" stroke="#a9b0d6" stroke-width="0.86" fill="none" opacity="0.76"/>
<path d="M1105.3 239.2 Q1106.9 241.6 1109.8 242.0" stroke="#a9b0d6" stroke-width="1.24" fill="none" opacity="0.75"/>
<path d="M1268.7 96.7 Q1270.9 97.5 1273.2 98.0" stroke="#a9b0d6" stroke-width="1.42" fill="none" opacity="0.58"/>
<path d="M1089.2 193.0 Q1091.2 193.7 1092.7 195.2" stroke="#a9b0d6" stroke-width="0.85" fill="none" opacity="0.80"/>
<path d="M1171.6 159.4 Q1174.9 160.5 1173.5 163.7" stroke="#a9b0d6" stroke-width="1.08" fill="none" opacity="0.57"/>
<path d="M1139.1 265.9 Q1142.5 265.4 1143.5 268.7" stroke="#a9b0d6" stroke-width="0.85" fill="none" opacity="0.67"/>
<path d="M1130.9 165.1 Q1132.3 169.4 1136.9 169.6" stroke="#a9b0d6" stroke-width="1.18" fill="none" opacity="0.60"/>
<path d="M1144.2 183.6 Q1147.0 186.9 1150.1 184.0" stroke="#a9b0d6" stroke-width="0.94" fill="none" opacity="0.62"/>
<path d="M1147.2 157.0 Q1149.6 158.1 1152.1 158.7" stroke="#a9b0d6" stroke-width="1.49" fill="none" opacity="0.67"/>
<path d="M1139.1 157.9 Q1142.2 159.0 1139.5 160.9" stroke="#a9b0d6" stroke-width="0.91" fill="none" opacity="0.63"/>
<path d="M1211.0 220.9 Q1214.3 218.1 1217.1 221.2" stroke="#a9b0d6" stroke-width="1.04" fill="none" opacity="0.64"/>
<path d="M1185.0 130.6 Q1185.7 133.5 1186.5 136.4" stroke="#a9b0d6" stroke-width="1.05" fill="none" opacity="0.81"/>
<path d="M1227.1 197.2 Q1229.7 197.0 1230.6 199.4" stroke="#a9b0d6" stroke-width="1.18" fill="none" opacity="0.81"/>
<path d="M1224.5 291.0 Q1221.4 293.0 1223.8 295.7" stroke="#a9b0d6" stroke-width="1.12" fill="none" opacity="0.64"/>
<path d="M1160.6 155.0 Q1161.3 158.8 1164.9 157.3" stroke="#a9b0d6" stroke-width="0.82" fill="none" opacity="0.79"/>
<path d="M1209.0 273.1 Q1209.5 276.4 1212.6 277.5" stroke="#a9b0d6" stroke-width="1.25" fill="none" opacity="0.68"/>
<path d="M1244.4 158.8 Q1248.1 160.7 1245.5 163.9" stroke="#a9b0d6" stroke-width="1.28" fill="none" opacity="0.57"/>
<path d="M1209.5 286.5 Q1205.9 290.4 1210.0 293.8" stroke="#a9b0d6" stroke-width="0.83" fill="none" opacity="0.88"/>
<path d="M1244.8 114.8 Q1248.4 115.0 1251.9 115.4" stroke="#a9b0d6" stroke-width="0.97" fill="none" opacity="0.70"/>
<path d="M1235.7 284.0 Q1237.9 287.0 1241.4 288.3" stroke="#a9b0d6" stroke-width="1.08" fill="none" opacity="0.86"/>
<path d="M1232.3 226.4 Q1236.8 225.8 1238.2 230.1" stroke="#a9b0d6" stroke-width="0.83" fill="none" opacity="0.64"/>
<path d="M1198.5 233.8 Q1198.6 237.1 1197.4 240.1" stroke="#a9b0d6" stroke-width="0.88" fill="none" opacity="0.63"/>
<path d="M1147.3 286.0 Q1148.3 290.3 1152.3 291.9" stroke="#a9b0d6" stroke-width="0.85" fill="none" opacity="0.57"/>
<path d="M1155.7 205.5 Q1158.5 209.0 1157.2 213.3" stroke="#a9b0d6" stroke-width="1.55" fill="none" opacity="0.90"/>
<path d="M1254.6 218.0 Q1258.1 216.7 1259.1 220.3" stroke="#a9b0d6" stroke-width="1.06" fill="none" opacity="0.57"/>
<path d="M1085.1 195.1 Q1084.6 197.2 1086.2 198.4" stroke="#a9b0d6" stroke-width="1.10" fill="none" opacity="0.63"/>
<path d="M1221.3 196.4 Q1221.9 199.8 1220.8 203.0" stroke="#a9b0d6" stroke-width="1.35" fill="none" opacity="0.51"/>
<path d="M1079.4 251.1 Q1082.6 248.1 1083.2 252.4" stroke="#a9b0d6" stroke-width="1.46" fill="none" opacity="0.88"/>
<path d="M1113.5 243.1 Q1115.0 245.0 1114.3 247.2" stroke="#a9b0d6" stroke-width="0.99" fill="none" opacity="0.83"/>
<path d="M1216.9 152.8 Q1217.0 155.9 1218.7 158.4" stroke="#a9b0d6" stroke-width="1.38" fill="none" opacity="0.78"/>
<path d="M1084.3 291.0 Q1087.1 294.9 1083.3 298.0" stroke="#a9b0d6" stroke-width="1.48" fill="none" opacity="0.59"/>
<path d="M1139.6 214.3 Q1141.2 216.9 1144.4 216.7" stroke="#a9b0d6" stroke-width="1.14" fill="none" opacity="0.79"/>
<path d="M1219.6 292.0 Q1223.3 292.7 1225.5 295.8" stroke="#a9b0d6" stroke-width="1.47" fill="none" opacity="0.60"/>
<path d="M1216.2 118.9 Q1215.7 121.3 1217.0 123.3" stroke="#a9b0d6" stroke-width="0.80" fill="none" opacity="0.65"/>
<path d="M1176.2 247.6 Q1177.6 251.4 1176.0 255.2" stroke="#a9b0d6" stroke-width="1.38" fill="none" opacity="0.65"/>
<path d="M1222.6 172.3 Q1224.5 170.5 1225.8 172.9" stroke="#a9b0d6" stroke-width="1.37" fill="none" opacity="0.71"/>
<path d="M1246.3 222.9 Q1250.3 224.8 1248.7 229.0" stroke="#a9b0d6" stroke-width="1.56" fill="none" opacity="0.63"/>
<path d="M1076.2 136.0 Q1079.1 136.1 1080.4 138.8" stroke="#a9b0d6" stroke-width="1.44" fill="none" opacity="0.61"/>
<path d="M1127.7 163.0 Q1131.1 166.8 1127.9 170.7" stroke="#a9b0d6" stroke-width="1.53" fill="none" opacity="0.67"/>
<path d="M1153.3 268.9 Q1155.6 272.2 1153.7 275.9" stroke="#a9b0d6" stroke-width="1.13" fill="none" opacity="0.70"/>
<path d="M1224.1 95.8 Q1226.7 97.2 1229.8 97.5" stroke="#a9b0d6" stroke-width="1.26" fill="none" opacity="0.53"/>
<path d="M1131.1 131.4 Q1131.8 135.0 1133.8 138.0" stroke="#a9b0d6" stroke-width="0.99" fill="none" opacity="0.79"/>
<path d="M1170.1 147.5 Q1171.5 149.8 1174.1 150.7" stroke="#a9b0d6" stroke-width="1.27" fill="none" opacity="0.50"/>
<path d="M1134.9 252.1 Q1138.4 251.8 1138.6 255.3" stroke="#a9b0d6" stroke-width="1.25" fill="none" opacity="0.75"/>
<path d="M1239.4 112.6 Q1243.5 111.9 1242.4 115.9" stroke="#a9b0d6" stroke-width="1.35" fill="none" opacity="0.89"/>
<path d="M1072.7 110.5 Q1075.8 112.0 1079.0 110.6" stroke="#a9b0d6" stroke-width="1.46" fill="none" opacity="0.58"/>
<path d="M1208.1 126.7 Q1212.9 129.4 1210.4 134.3" stroke="#a9b0d6" stroke-width="1.27" fill="none" opacity="0.83"/>
</g>
<path d="M1279.0 171.1 Q1264.3 194.5 1279.0 216.5" stroke="#7c819c" stroke-width="1.6" fill="none" opacity="0.8"/>
<g filter="url(#bl1)">
<polygon points="1142.8,125.7 1150.1,106.6 1167.7,103.0 1185.3,108.1 1191.1,112.5 1194.1,135.9 1191.1,153.5 1176.5,153.5 1161.8,155.0 1147.2,153.5 1142.8,140.3" fill="#dcdeea" stroke="#c4c7da" stroke-width="2"/>
<polygon points="1188.2,109.6 1195.5,103.7 1213.1,101.5 1229.2,105.9 1242.4,116.9 1247.5,135.9 1246.8,157.9 1242.4,174.0 1229.2,183.5 1214.6,187.9 1202.8,185.7 1198.5,174.0 1195.5,162.3 1189.7,153.5" fill="#dcdeea" stroke="#c4c7da" stroke-width="2"/>
<polygon points="1104.7,231.1 1112.1,212.1 1125.2,201.8 1144.3,194.5 1161.8,197.4 1173.6,207.7 1175.0,223.8 1169.2,238.4 1164.8,253.1 1156.0,267.7 1139.9,277.2 1120.9,278.7 1107.7,270.6 1103.3,253.1" fill="#dcdeea" stroke="#c4c7da" stroke-width="2"/>
<ellipse cx="1179.4" cy="186.4" rx="12.45" ry="8.05" fill="#d3d6e6"/>
</g>
<g filter="url(#bl05)">
<ellipse cx="1150.1" cy="147.6" rx="6.33" ry="6.64" fill="#9ba2cb" transform="rotate(18 1150.1 147.6)"/>
<ellipse cx="1157.5" cy="119.8" rx="4.74" ry="4.43" fill="#b0b5d6" transform="rotate(-11 1157.5 119.8)"/>
<ellipse cx="1172.1" cy="116.9" rx="7.91" ry="7.12" fill="#a2a8cf" transform="rotate(13 1172.1 116.9)"/>
<ellipse cx="1185.3" cy="130.8" rx="4.74" ry="6.33" fill="#9ba2cb" transform="rotate(6 1185.3 130.8)"/>
<ellipse cx="1191.1" cy="135.9" rx="3.95" ry="3.95" fill="#aab0d3" transform="rotate(25 1191.1 135.9)"/>
<ellipse cx="1164.8" cy="143.2" rx="3.16" ry="3.16" fill="#9ba2cb" transform="rotate(-20 1164.8 143.2)"/>
<ellipse cx="1222.6" cy="129.3" rx="4.74" ry="6.33" fill="#b0b5d6" transform="rotate(11 1222.6 129.3)"/>
<ellipse cx="1229.2" cy="136.7" rx="4.74" ry="6.33" fill="#b0b5d6" transform="rotate(-28 1229.2 136.7)"/>
<ellipse cx="1220.4" cy="152.8" rx="9.49" ry="7.91" fill="#9ba2cb" transform="rotate(-8 1220.4 152.8)"/>
<ellipse cx="1239.4" cy="151.3" rx="5.53" ry="6.33" fill="#9ba2cb" transform="rotate(25 1239.4 151.3)"/>
<ellipse cx="1227.0" cy="171.1" rx="5.53" ry="6.33" fill="#b0b5d6" transform="rotate(15 1227.0 171.1)"/>
<ellipse cx="1233.6" cy="112.5" rx="3.95" ry="3.95" fill="#a2a8cf" transform="rotate(-10 1233.6 112.5)"/>
<ellipse cx="1122.3" cy="217.9" rx="6.33" ry="7.12" fill="#a2a8cf" transform="rotate(11 1122.3 217.9)"/>
<ellipse cx="1141.3" cy="209.1" rx="5.53" ry="5.53" fill="#9ba2cb" transform="rotate(-8 1141.3 209.1)"/>
<ellipse cx="1150.9" cy="201.1" rx="5.53" ry="3.95" fill="#9ba2cb" transform="rotate(-9 1150.9 201.1)"/>
<ellipse cx="1157.5" cy="212.1" rx="7.12" ry="6.33" fill="#a2a8cf" transform="rotate(-19 1157.5 212.1)"/>
<ellipse cx="1163.3" cy="217.9" rx="5.53" ry="4.74" fill="#a2a8cf" transform="rotate(-5 1163.3 217.9)"/>
<ellipse cx="1144.3" cy="222.3" rx="4.74" ry="5.53" fill="#a2a8cf" transform="rotate(21 1144.3 222.3)"/>
<ellipse cx="1131.1" cy="228.9" rx="4.74" ry="4.74" fill="#9ba2cb" transform="rotate(23 1131.1 228.9)"/>
<ellipse cx="1116.5" cy="232.6" rx="5.53" ry="5.53" fill="#9ba2cb" transform="rotate(-15 1116.5 232.6)"/>
<ellipse cx="1154.5" cy="234.8" rx="7.91" ry="7.12" fill="#a2a8cf" transform="rotate(-26 1154.5 234.8)"/>
<ellipse cx="1140.6" cy="239.9" rx="5.53" ry="6.33" fill="#a2a8cf" transform="rotate(5 1140.6 239.9)"/>
<ellipse cx="1115.7" cy="244.3" rx="6.33" ry="6.33" fill="#a2a8cf" transform="rotate(-9 1115.7 244.3)"/>
<ellipse cx="1156.0" cy="247.2" rx="5.53" ry="6.33" fill="#b0b5d6" transform="rotate(-19 1156.0 247.2)"/>
<ellipse cx="1147.9" cy="253.8" rx="5.53" ry="7.12" fill="#aab0d3" transform="rotate(28 1147.9 253.8)"/>
<ellipse cx="1117.2" cy="258.9" rx="8.70" ry="7.91" fill="#9ba2cb" transform="rotate(7 1117.2 258.9)"/>
<ellipse cx="1130.4" cy="261.8" rx="5.53" ry="6.33" fill="#b0b5d6" transform="rotate(-9 1130.4 261.8)"/>
<ellipse cx="1157.5" cy="110.3" rx="3.22" ry="5.56" fill="#3f1d0e" transform="rotate(20 1157.5 110.3)"/>
<ellipse cx="1184.5" cy="114.7" rx="3.66" ry="5.86" fill="#8a6640"/>
<ellipse cx="1171.4" cy="133.0" rx="6.59" ry="5.86" fill="#7a5d45"/>
<ellipse cx="1155.3" cy="138.9" rx="6.59" ry="5.56" fill="#6a4425" transform="rotate(-10 1155.3 138.9)"/>
<ellipse cx="1183.8" cy="145.4" rx="7.03" ry="5.86" fill="#4a2710" transform="rotate(-15 1183.8 145.4)"/>
<ellipse cx="1198.5" cy="152.8" rx="2.20" ry="3.22" fill="#9a7050"/>
<ellipse cx="1198.5" cy="108.8" rx="5.12" ry="5.12" fill="#7d6d6d"/>
<ellipse cx="1218.2" cy="109.6" rx="5.12" ry="5.12" fill="#7d6d6d"/>
<ellipse cx="1237.3" cy="161.5" rx="5.86" ry="6.15" fill="#4a2210"/>
<ellipse cx="1210.9" cy="174.7" rx="9.08" ry="10.54" fill="#5a3010" transform="rotate(20 1210.9 174.7)"/>
<ellipse cx="1129.6" cy="239.9" rx="6.59" ry="5.12" fill="#6a4018"/>
<ellipse cx="1156.0" cy="220.8" rx="2.64" ry="2.64" fill="#8a6040"/>
<ellipse cx="1117.9" cy="162.3" rx="6.59" ry="5.12" fill="#8a7a70"/>
<ellipse cx="1113.5" cy="176.9" rx="4.39" ry="8.49" fill="#8a6a40" transform="rotate(20 1113.5 176.9)"/>
<ellipse cx="1243.8" cy="255.3" rx="2.93" ry="3.66" fill="#5a3a28"/>
<ellipse cx="1218.9" cy="231.1" rx="2.93" ry="1.76" fill="#7a5a40" transform="rotate(-30 1218.9 231.1)"/>
<ellipse cx="1271.7" cy="97.9" rx="3.66" ry="4.39" fill="#9a8a80"/>
<ellipse cx="1081.3" cy="203.3" rx="2.20" ry="2.93" fill="#9a8060"/>
<ellipse cx="1179.4" cy="187.2" rx="9.52" ry="5.86" fill="#8a90b8" transform="rotate(-20 1179.4 187.2)"/>
<ellipse cx="1110.6" cy="114.0" rx="1.76" ry="4.10" fill="#4a5aa8" transform="rotate(20 1110.6 114.0)"/>
<ellipse cx="1125.2" cy="130.1" rx="3.66" ry="5.12" fill="#9aa0c8"/>
<ellipse cx="1194.1" cy="204.7" rx="2.20" ry="1.76" fill="#141418"/>
<ellipse cx="1214.6" cy="256.7" rx="3.22" ry="2.05" fill="#2a3a90"/>
<ellipse cx="1235.1" cy="244.3" rx="1.76" ry="2.64" fill="#2a3a90"/>
<ellipse cx="1202.8" cy="232.6" rx="3.66" ry="3.66" fill="#8890c0"/>
<ellipse cx="1135.5" cy="292.6" rx="6.59" ry="5.86" fill="#8a8ea8"/>
<ellipse cx="1141.3" cy="283.1" rx="2.93" ry="1.76" fill="#2a3a90"/>
<ellipse cx="1259.9" cy="95.7" rx="2.93" ry="2.20" fill="#9aa0c8"/>
<ellipse cx="1082.8" cy="184.2" rx="2.20" ry="3.66" fill="#8890c0"/>
<ellipse cx="1085.7" cy="215.0" rx="1.76" ry="2.93" fill="#9aa0c8"/>
<ellipse cx="1101.1" cy="239.9" rx="1.76" ry="2.93" fill="#9aa0c8"/>
<ellipse cx="1257.0" cy="168.1" rx="2.20" ry="3.66" fill="#8890c0"/>
<ellipse cx="1229.2" cy="220.8" rx="2.93" ry="4.39" fill="#9aa0c8"/>
<ellipse cx="1254.1" cy="266.2" rx="3.66" ry="4.39" fill="#9aa0c8"/>
<ellipse cx="1094.5" cy="157.9" rx="1.76" ry="3.66" fill="#9aa0c8" transform="rotate(30 1094.5 157.9)"/>
<ellipse cx="1176.5" cy="277.9" rx="2.20" ry="3.66" fill="#9aa0c8"/>
<ellipse cx="1205.8" cy="209.1" rx="1.76" ry="2.93" fill="#9aa0c8"/>
</g>
<rect x="1074" y="92" width="205.5" height="206.5" filter="url(#grain)" opacity="0.35"/>
<path d="M0 0 L18 -7.4 L14 -1.1 L23.7 -1.1 L23.7 1.1 L14 1.1 L18 7.4 Z" fill="#ec1c24" transform="translate(1201.3 114.6) rotate(45)"/>
<path d="M0 0 L18 -7.4 L14 -1.1 L23.7 -1.1 L23.7 1.1 L14 1.1 L18 7.4 Z" fill="#ec1c24" transform="translate(1225.6 114.6) rotate(45)"/>
<path d="M0 0 L18 -7.4 L14 -1.1 L23.7 -1.1 L23.7 1.1 L14 1.1 L18 7.4 Z" fill="#ec1c24" transform="translate(1160.2 146.6) rotate(45)"/>
<path d="M0 0 L18 -7.4 L14 -1.1 L23.7 -1.1 L23.7 1.1 L14 1.1 L18 7.4 Z" fill="#ec1c24" transform="translate(1243.9 171.7) rotate(45)"/>
<path d="M0 0 L18 -7.4 L14 -1.1 L23.7 -1.1 L23.7 1.1 L14 1.1 L18 7.4 Z" fill="#ec1c24" transform="translate(1215.7 186.9) rotate(45)"/>
<rect x="1216" y="277" width="51.5" height="7.7" fill="#000"/>
</g>
<rect x="1073.9" y="91.6" width="205.8" height="207.5" fill="none" stroke="#000" stroke-width="2.1"/>
<g clip-path="url(#cPD)">
<rect x="1286" y="92" width="205.5" height="206.5" fill="#d9dbe8"/>
<g filter="url(#bl05)">
<path d="M1297.0 194.6 Q1298.8 204.8 1296.2 214.9" stroke="#f2f3f9" stroke-width="0.63" fill="none" opacity="0.55"/>
<path d="M1284.4 102.3 Q1284.7 124.7 1288.1 146.9" stroke="#f2f3f9" stroke-width="0.98" fill="none" opacity="0.68"/>
<path d="M1299.3 140.3 Q1303.1 160.1 1308.7 179.4" stroke="#f2f3f9" stroke-width="0.71" fill="none" opacity="0.53"/>
<path d="M1284.7 275.0 Q1284.8 292.3 1292.2 307.9" stroke="#f2f3f9" stroke-width="0.64" fill="none" opacity="0.67"/>
<path d="M1296.2 271.6 Q1300.4 282.3 1300.6 293.9" stroke="#f2f3f9" stroke-width="0.65" fill="none" opacity="0.80"/>
<path d="M1302.8 165.1 Q1305.4 183.2 1311.7 200.4" stroke="#f2f3f9" stroke-width="1.25" fill="none" opacity="0.65"/>
<path d="M1306.7 207.6 Q1309.7 223.0 1308.5 238.7" stroke="#f2f3f9" stroke-width="1.06" fill="none" opacity="0.86"/>
<path d="M1304.3 143.9 Q1307.4 164.0 1303.3 184.0" stroke="#f2f3f9" stroke-width="0.76" fill="none" opacity="0.60"/>
<path d="M1285.8 233.1 Q1282.4 248.9 1286.9 264.4" stroke="#f2f3f9" stroke-width="0.96" fill="none" opacity="0.59"/>
<path d="M1289.4 146.2 Q1292.4 162.9 1288.4 179.3" stroke="#f2f3f9" stroke-width="1.03" fill="none" opacity="0.52"/>
<path d="M1298.8 100.7 Q1299.6 118.0 1305.6 134.3" stroke="#f2f3f9" stroke-width="1.22" fill="none" opacity="0.63"/>
<path d="M1299.8 137.4 Q1301.3 149.0 1305.8 159.8" stroke="#f2f3f9" stroke-width="1.23" fill="none" opacity="0.59"/>
<path d="M1304.3 243.2 Q1309.7 264.5 1311.4 286.4" stroke="#f2f3f9" stroke-width="0.66" fill="none" opacity="0.73"/>
<path d="M1307.4 202.0 Q1310.2 216.6 1309.5 231.5" stroke="#f2f3f9" stroke-width="0.90" fill="none" opacity="0.68"/>
<path d="M1297.6 277.1 Q1296.8 288.9 1302.9 299.1" stroke="#f2f3f9" stroke-width="1.26" fill="none" opacity="0.53"/>
<path d="M1298.0 218.7 Q1294.3 227.2 1297.0 236.2" stroke="#f2f3f9" stroke-width="1.37" fill="none" opacity="0.63"/>
<path d="M1296.7 245.9 Q1299.4 263.8 1303.0 281.4" stroke="#f2f3f9" stroke-width="0.67" fill="none" opacity="0.62"/>
<path d="M1297.5 109.8 Q1298.9 121.2 1296.0 132.3" stroke="#f2f3f9" stroke-width="1.20" fill="none" opacity="0.74"/>
<path d="M1292.4 138.6 Q1297.7 159.4 1296.2 180.7" stroke="#f2f3f9" stroke-width="1.51" fill="none" opacity="0.92"/>
<path d="M1301.0 237.2 Q1301.8 259.2 1306.6 280.7" stroke="#f2f3f9" stroke-width="1.29" fill="none" opacity="0.70"/>
<path d="M1291.7 228.3 Q1293.2 235.8 1291.8 243.4" stroke="#f2f3f9" stroke-width="1.14" fill="none" opacity="0.60"/>
<path d="M1287.0 122.1 Q1290.2 130.9 1291.7 140.1" stroke="#f2f3f9" stroke-width="1.10" fill="none" opacity="0.79"/>
<path d="M1295.0 101.7 Q1292.6 118.6 1293.0 135.6" stroke="#f2f3f9" stroke-width="1.29" fill="none" opacity="0.64"/>
<path d="M1300.8 138.6 Q1305.3 158.2 1302.1 178.1" stroke="#f2f3f9" stroke-width="1.40" fill="none" opacity="0.55"/>
<path d="M1285.1 87.3 Q1283.0 107.9 1287.8 128.0" stroke="#f2f3f9" stroke-width="0.76" fill="none" opacity="0.69"/>
<path d="M1310.8 265.4 Q1312.3 276.7 1310.2 287.8" stroke="#f2f3f9" stroke-width="0.75" fill="none" opacity="0.62"/>
<path d="M1296.2 247.7 Q1299.1 257.7 1296.8 267.8" stroke="#f2f3f9" stroke-width="1.05" fill="none" opacity="0.90"/>
<path d="M1297.8 235.4 Q1298.3 256.1 1298.7 276.8" stroke="#f2f3f9" stroke-width="0.98" fill="none" opacity="0.71"/>
<path d="M1303.0 130.3 Q1307.0 149.9 1310.7 169.6" stroke="#f2f3f9" stroke-width="1.24" fill="none" opacity="0.58"/>
<path d="M1286.2 130.9 Q1288.9 138.6 1288.0 146.8" stroke="#f2f3f9" stroke-width="1.54" fill="none" opacity="0.70"/>
<path d="M1284.5 249.0 Q1285.0 259.1 1287.7 268.9" stroke="#f2f3f9" stroke-width="1.26" fill="none" opacity="0.65"/>
<path d="M1302.3 259.3 Q1308.4 273.5 1306.6 288.9" stroke="#f2f3f9" stroke-width="1.19" fill="none" opacity="0.63"/>
<path d="M1300.5 232.4 Q1299.5 250.2 1305.5 267.0" stroke="#f2f3f9" stroke-width="0.77" fill="none" opacity="0.86"/>
<path d="M1295.3 275.4 Q1301.0 287.6 1301.5 301.1" stroke="#f2f3f9" stroke-width="0.86" fill="none" opacity="0.90"/>
<path d="M1300.4 158.2 Q1303.6 166.7 1299.2 174.7" stroke="#f2f3f9" stroke-width="1.37" fill="none" opacity="0.75"/>
<path d="M1308.5 182.8 Q1309.8 195.4 1306.8 207.7" stroke="#f2f3f9" stroke-width="1.48" fill="none" opacity="0.74"/>
<path d="M1282.1 76.3 Q1285.7 94.4 1291.5 112.0" stroke="#f2f3f9" stroke-width="0.71" fill="none" opacity="0.86"/>
<path d="M1305.3 209.3 Q1304.6 223.3 1307.0 237.2" stroke="#f2f3f9" stroke-width="0.99" fill="none" opacity="0.92"/>
<path d="M1302.7 209.8 Q1301.1 231.9 1300.0 254.2" stroke="#f2f3f9" stroke-width="0.71" fill="none" opacity="0.74"/>
<path d="M1307.9 123.8 Q1312.0 134.8 1311.9 146.7" stroke="#f2f3f9" stroke-width="1.41" fill="none" opacity="0.74"/>
<path d="M1288.1 190.4 Q1290.7 198.3 1288.4 206.2" stroke="#f2f3f9" stroke-width="0.61" fill="none" opacity="0.81"/>
<path d="M1294.6 84.6 Q1295.9 95.0 1298.2 105.1" stroke="#f2f3f9" stroke-width="1.03" fill="none" opacity="0.69"/>
<path d="M1292.1 83.3 Q1294.3 100.2 1297.1 117.0" stroke="#f2f3f9" stroke-width="1.19" fill="none" opacity="0.57"/>
<path d="M1286.9 233.2 Q1283.4 250.7 1287.3 268.0" stroke="#f2f3f9" stroke-width="0.91" fill="none" opacity="0.83"/>
<path d="M1294.3 202.3 Q1292.6 216.5 1292.7 230.9" stroke="#f2f3f9" stroke-width="1.59" fill="none" opacity="0.72"/>
<path d="M1291.9 278.1 Q1294.0 290.5 1292.5 302.9" stroke="#f2f3f9" stroke-width="0.62" fill="none" opacity="0.54"/>
<path d="M1311.6 197.1 Q1308.7 208.2 1311.3 219.3" stroke="#f2f3f9" stroke-width="1.31" fill="none" opacity="0.89"/>
<path d="M1298.0 273.3 Q1295.4 283.1 1299.2 292.5" stroke="#f2f3f9" stroke-width="0.90" fill="none" opacity="0.92"/>
<path d="M1299.2 162.2 Q1303.7 174.9 1301.3 188.3" stroke="#f2f3f9" stroke-width="0.65" fill="none" opacity="0.54"/>
<path d="M1306.1 151.4 Q1308.4 164.8 1312.9 177.6" stroke="#f2f3f9" stroke-width="1.23" fill="none" opacity="0.91"/>
<path d="M1292.6 280.9 Q1295.2 290.4 1297.6 300.0" stroke="#f2f3f9" stroke-width="1.25" fill="none" opacity="0.69"/>
<path d="M1302.9 192.7 Q1305.3 205.9 1309.9 218.5" stroke="#f2f3f9" stroke-width="0.86" fill="none" opacity="0.58"/>
<path d="M1304.5 166.0 Q1304.3 187.8 1300.9 209.4" stroke="#f2f3f9" stroke-width="0.63" fill="none" opacity="0.58"/>
<path d="M1296.3 171.4 Q1298.8 180.0 1298.2 188.9" stroke="#f2f3f9" stroke-width="1.01" fill="none" opacity="0.84"/>
<path d="M1286.5 204.9 Q1287.6 224.0 1291.5 242.8" stroke="#f2f3f9" stroke-width="0.79" fill="none" opacity="0.82"/>
<path d="M1292.5 253.4 Q1295.5 265.3 1298.7 277.0" stroke="#f2f3f9" stroke-width="0.89" fill="none" opacity="0.68"/>
<path d="M1301.4 129.8 Q1299.5 141.5 1300.5 153.4" stroke="#f2f3f9" stroke-width="1.56" fill="none" opacity="0.54"/>
<path d="M1307.8 119.3 Q1305.4 128.9 1309.8 137.8" stroke="#f2f3f9" stroke-width="0.91" fill="none" opacity="0.73"/>
<path d="M1307.1 105.1 Q1314.8 121.6 1315.4 139.9" stroke="#f2f3f9" stroke-width="0.73" fill="none" opacity="0.61"/>
<path d="M1281.1 142.5 Q1286.2 163.4 1291.4 184.2" stroke="#f2f3f9" stroke-width="0.63" fill="none" opacity="0.84"/>
<path d="M1289.9 266.2 Q1293.2 275.0 1294.5 284.3" stroke="#f2f3f9" stroke-width="1.42" fill="none" opacity="0.92"/>
<path d="M1308.4 114.8 Q1308.6 135.2 1313.8 155.0" stroke="#f2f3f9" stroke-width="1.54" fill="none" opacity="0.54"/>
<path d="M1287.6 157.8 Q1287.7 175.6 1286.4 193.4" stroke="#f2f3f9" stroke-width="1.28" fill="none" opacity="0.70"/>
<path d="M1307.7 142.0 Q1307.0 151.8 1307.7 161.6" stroke="#f2f3f9" stroke-width="0.91" fill="none" opacity="0.65"/>
<path d="M1289.0 81.4 Q1291.6 98.9 1296.9 115.7" stroke="#f2f3f9" stroke-width="1.26" fill="none" opacity="0.69"/>
<path d="M1302.4 243.9 Q1299.4 257.1 1300.2 270.6" stroke="#f2f3f9" stroke-width="1.41" fill="none" opacity="0.88"/>
<path d="M1303.8 123.8 Q1301.5 139.6 1303.1 155.6" stroke="#f2f3f9" stroke-width="1.34" fill="none" opacity="0.59"/>
<path d="M1287.6 246.6 Q1291.5 254.3 1288.1 262.1" stroke="#f2f3f9" stroke-width="1.02" fill="none" opacity="0.79"/>
<path d="M1286.8 219.5 Q1291.0 236.3 1291.6 253.6" stroke="#f2f3f9" stroke-width="0.83" fill="none" opacity="0.57"/>
<path d="M1301.7 212.6 Q1301.2 222.2 1306.0 230.5" stroke="#f2f3f9" stroke-width="0.86" fill="none" opacity="0.92"/>
<path d="M1309.5 251.7 Q1308.8 261.1 1313.3 269.4" stroke="#a3a8c8" stroke-width="0.61" fill="none" opacity="0.41"/>
<path d="M1287.3 143.3 Q1287.0 151.5 1290.1 159.1" stroke="#a3a8c8" stroke-width="0.43" fill="none" opacity="0.52"/>
<path d="M1304.3 236.9 Q1306.8 248.0 1304.0 259.0" stroke="#a3a8c8" stroke-width="0.71" fill="none" opacity="0.72"/>
<path d="M1303.1 228.0 Q1302.0 246.5 1307.3 264.2" stroke="#a3a8c8" stroke-width="0.71" fill="none" opacity="0.46"/>
<path d="M1304.4 87.7 Q1308.5 99.1 1310.5 110.9" stroke="#a3a8c8" stroke-width="0.88" fill="none" opacity="0.69"/>
<path d="M1294.9 190.5 Q1296.4 211.5 1299.8 232.2" stroke="#a3a8c8" stroke-width="0.58" fill="none" opacity="0.77"/>
<path d="M1307.8 168.8 Q1304.2 177.0 1306.6 185.5" stroke="#a3a8c8" stroke-width="0.63" fill="none" opacity="0.59"/>
<path d="M1307.7 168.8 Q1307.4 180.0 1310.1 190.8" stroke="#a3a8c8" stroke-width="0.76" fill="none" opacity="0.67"/>
<path d="M1289.3 264.5 Q1292.5 273.4 1291.0 282.8" stroke="#a3a8c8" stroke-width="0.46" fill="none" opacity="0.46"/>
<path d="M1299.0 226.3 Q1295.5 248.5 1299.8 270.5" stroke="#a3a8c8" stroke-width="0.71" fill="none" opacity="0.74"/>
<path d="M1310.2 182.3 Q1307.7 198.2 1309.2 214.2" stroke="#a3a8c8" stroke-width="0.80" fill="none" opacity="0.76"/>
<path d="M1294.9 91.1 Q1298.4 108.9 1303.5 126.3" stroke="#a3a8c8" stroke-width="0.82" fill="none" opacity="0.47"/>
<path d="M1306.4 289.5 Q1305.8 298.5 1308.1 307.2" stroke="#a3a8c8" stroke-width="0.44" fill="none" opacity="0.72"/>
<path d="M1307.8 157.9 Q1304.5 170.9 1306.4 184.1" stroke="#a3a8c8" stroke-width="0.55" fill="none" opacity="0.69"/>
<path d="M1286.3 141.8 Q1286.3 162.8 1291.4 183.1" stroke="#a3a8c8" stroke-width="0.45" fill="none" opacity="0.58"/>
<path d="M1307.0 286.0 Q1305.7 296.1 1309.0 305.7" stroke="#a3a8c8" stroke-width="0.50" fill="none" opacity="0.64"/>
<path d="M1290.7 92.7 Q1297.7 105.1 1297.6 119.3" stroke="#a3a8c8" stroke-width="0.72" fill="none" opacity="0.70"/>
<path d="M1304.1 175.5 Q1306.5 196.0 1305.9 216.5" stroke="#a3a8c8" stroke-width="0.70" fill="none" opacity="0.47"/>
<path d="M1301.1 281.8 Q1306.5 299.0 1306.3 317.0" stroke="#a3a8c8" stroke-width="0.90" fill="none" opacity="0.42"/>
<path d="M1292.6 162.3 Q1295.8 177.9 1292.4 193.5" stroke="#a3a8c8" stroke-width="0.72" fill="none" opacity="0.43"/>
<path d="M1294.1 283.9 Q1296.8 291.3 1295.3 299.0" stroke="#a3a8c8" stroke-width="0.54" fill="none" opacity="0.47"/>
<path d="M1305.2 132.3 Q1302.7 148.1 1306.1 163.8" stroke="#a3a8c8" stroke-width="0.57" fill="none" opacity="0.40"/>
<path d="M1299.0 195.3 Q1305.4 208.8 1306.3 223.7" stroke="#a3a8c8" stroke-width="0.90" fill="none" opacity="0.62"/>
<path d="M1306.0 203.2 Q1310.8 223.3 1308.0 243.8" stroke="#a3a8c8" stroke-width="0.57" fill="none" opacity="0.66"/>
<path d="M1291.7 261.7 Q1294.3 279.8 1297.4 297.8" stroke="#a3a8c8" stroke-width="0.66" fill="none" opacity="0.74"/>
<path d="M1308.7 280.6 Q1313.8 295.5 1313.2 311.3" stroke="#a3a8c8" stroke-width="0.79" fill="none" opacity="0.65"/>
<path d="M1297.2 189.3 Q1299.0 199.7 1300.0 210.2" stroke="#a3a8c8" stroke-width="0.75" fill="none" opacity="0.43"/>
<path d="M1292.5 137.6 Q1289.4 152.4 1292.4 167.3" stroke="#a3a8c8" stroke-width="0.60" fill="none" opacity="0.47"/>
<path d="M1292.0 83.7 Q1294.0 98.0 1294.5 112.4" stroke="#a3a8c8" stroke-width="0.72" fill="none" opacity="0.64"/>
<path d="M1290.9 218.4 Q1295.3 235.3 1298.1 252.5" stroke="#a3a8c8" stroke-width="0.79" fill="none" opacity="0.74"/>
<path d="M1298.3 105.5 Q1302.1 113.0 1298.9 120.7" stroke="#a3a8c8" stroke-width="0.50" fill="none" opacity="0.72"/>
<path d="M1294.3 222.8 Q1299.6 238.8 1297.1 255.5" stroke="#a3a8c8" stroke-width="0.87" fill="none" opacity="0.58"/>
<path d="M1288.7 194.2 Q1286.9 208.7 1287.5 223.2" stroke="#a3a8c8" stroke-width="0.45" fill="none" opacity="0.47"/>
<path d="M1294.0 92.5 Q1294.7 100.0 1294.8 107.6" stroke="#a3a8c8" stroke-width="0.74" fill="none" opacity="0.46"/>
<path d="M1312.0 197.2 Q1311.4 215.5 1311.9 233.8" stroke="#a3a8c8" stroke-width="0.59" fill="none" opacity="0.64"/>
<path d="M1298.8 147.0 Q1306.0 167.3 1309.8 188.6" stroke="#a3a8c8" stroke-width="0.86" fill="none" opacity="0.80"/>
<path d="M1284.4 260.8 Q1285.1 281.3 1290.2 301.3" stroke="#a3a8c8" stroke-width="0.54" fill="none" opacity="0.72"/>
<path d="M1287.3 257.5 Q1288.8 279.7 1289.8 301.8" stroke="#a3a8c8" stroke-width="0.75" fill="none" opacity="0.52"/>
<path d="M1292.9 78.0 Q1293.8 100.0 1293.3 122.0" stroke="#a3a8c8" stroke-width="0.43" fill="none" opacity="0.43"/>
<path d="M1289.0 232.0 Q1288.4 246.7 1293.5 260.5" stroke="#a3a8c8" stroke-width="0.74" fill="none" opacity="0.42"/>
<path d="M1308.6 227.4 Q1307.2 236.1 1311.9 243.4" stroke="#a3a8c8" stroke-width="0.54" fill="none" opacity="0.60"/>
<path d="M1291.5 228.5 Q1290.2 246.3 1295.4 263.5" stroke="#a3a8c8" stroke-width="0.45" fill="none" opacity="0.55"/>
<path d="M1305.5 251.9 Q1303.6 265.3 1304.5 278.7" stroke="#a3a8c8" stroke-width="0.69" fill="none" opacity="0.74"/>
<path d="M1287.9 95.7 Q1288.5 108.0 1292.8 119.7" stroke="#a3a8c8" stroke-width="0.71" fill="none" opacity="0.51"/>
<path d="M1287.9 166.1 Q1283.9 174.6 1286.5 183.7" stroke="#a3a8c8" stroke-width="0.60" fill="none" opacity="0.64"/>
<path d="M1295.6 271.3 Q1295.3 288.9 1295.0 306.4" stroke="#a3a8c8" stroke-width="0.69" fill="none" opacity="0.49"/>
<path d="M1298.9 265.8 Q1302.4 279.9 1305.7 294.0" stroke="#a3a8c8" stroke-width="0.66" fill="none" opacity="0.80"/>
<path d="M1298.3 175.7 Q1298.1 188.0 1303.8 198.9" stroke="#a3a8c8" stroke-width="0.71" fill="none" opacity="0.70"/>
<path d="M1311.0 256.1 Q1306.6 278.0 1308.9 300.3" stroke="#a3a8c8" stroke-width="0.75" fill="none" opacity="0.61"/>
<path d="M1285.9 275.1 Q1288.2 287.1 1288.2 299.2" stroke="#a3a8c8" stroke-width="0.78" fill="none" opacity="0.71"/>
<path d="M1411.4 96.2 Q1419.5 100.5 1428.1 103.2" stroke="#eff0f8" stroke-width="1.46" fill="none" opacity="0.68"/>
<path d="M1395.5 134.3 Q1404.9 137.4 1414.3 140.1" stroke="#eff0f8" stroke-width="1.28" fill="none" opacity="0.66"/>
<path d="M1385.8 95.5 Q1403.2 104.8 1418.4 117.5" stroke="#eff0f8" stroke-width="1.30" fill="none" opacity="0.85"/>
<path d="M1466.1 90.5 Q1474.3 93.1 1482.7 94.6" stroke="#eff0f8" stroke-width="0.80" fill="none" opacity="0.91"/>
<path d="M1397.2 108.3 Q1415.8 111.5 1433.2 118.8" stroke="#eff0f8" stroke-width="0.87" fill="none" opacity="0.64"/>
<path d="M1403.4 91.5 Q1411.5 94.7 1418.0 100.6" stroke="#eff0f8" stroke-width="0.62" fill="none" opacity="0.75"/>
<path d="M1422.6 131.5 Q1442.2 133.1 1460.3 140.6" stroke="#eff0f8" stroke-width="0.96" fill="none" opacity="0.91"/>
<path d="M1469.3 132.7 Q1478.6 134.4 1487.2 138.3" stroke="#eff0f8" stroke-width="0.93" fill="none" opacity="0.77"/>
<path d="M1383.2 117.2 Q1394.3 120.2 1405.6 122.4" stroke="#eff0f8" stroke-width="0.86" fill="none" opacity="0.82"/>
<path d="M1455.1 116.8 Q1466.6 121.9 1478.2 126.9" stroke="#eff0f8" stroke-width="1.44" fill="none" opacity="0.95"/>
<path d="M1400.1 125.8 Q1412.5 132.8 1424.4 140.5" stroke="#eff0f8" stroke-width="1.37" fill="none" opacity="0.94"/>
<path d="M1434.0 88.7 Q1444.3 90.5 1451.7 97.9" stroke="#eff0f8" stroke-width="1.18" fill="none" opacity="0.62"/>
<path d="M1462.3 106.7 Q1467.2 114.4 1476.1 115.9" stroke="#eff0f8" stroke-width="1.29" fill="none" opacity="0.52"/>
<path d="M1411.0 132.3 Q1416.7 138.7 1424.9 141.1" stroke="#eff0f8" stroke-width="1.03" fill="none" opacity="0.70"/>
<path d="M1461.8 94.4 Q1470.4 102.2 1481.7 105.0" stroke="#eff0f8" stroke-width="1.53" fill="none" opacity="0.92"/>
<path d="M1400.6 91.9 Q1409.8 93.5 1417.3 99.1" stroke="#eff0f8" stroke-width="1.15" fill="none" opacity="0.84"/>
<path d="M1431.6 129.9 Q1447.9 140.8 1465.3 150.0" stroke="#eff0f8" stroke-width="0.96" fill="none" opacity="0.93"/>
<path d="M1441.7 119.6 Q1451.1 118.3 1458.3 124.5" stroke="#eff0f8" stroke-width="0.73" fill="none" opacity="0.62"/>
<path d="M1416.3 121.5 Q1427.7 125.7 1438.8 130.8" stroke="#eff0f8" stroke-width="1.18" fill="none" opacity="0.88"/>
<path d="M1478.6 98.0 Q1490.0 103.9 1502.2 107.8" stroke="#eff0f8" stroke-width="0.95" fill="none" opacity="0.59"/>
<path d="M1470.1 99.8 Q1485.4 104.6 1496.8 115.8" stroke="#eff0f8" stroke-width="0.86" fill="none" opacity="0.74"/>
<path d="M1457.6 136.3 Q1464.7 141.3 1473.3 141.4" stroke="#eff0f8" stroke-width="1.51" fill="none" opacity="0.55"/>
<path d="M1419.5 99.3 Q1430.8 102.7 1441.6 107.3" stroke="#eff0f8" stroke-width="1.02" fill="none" opacity="0.61"/>
<path d="M1404.9 114.3 Q1418.6 117.5 1429.9 125.6" stroke="#eff0f8" stroke-width="1.08" fill="none" opacity="0.87"/>
<path d="M1403.8 95.6 Q1413.5 97.5 1421.4 103.3" stroke="#eff0f8" stroke-width="0.86" fill="none" opacity="0.93"/>
<path d="M1445.8 106.8 Q1457.1 113.6 1469.1 118.8" stroke="#eff0f8" stroke-width="1.25" fill="none" opacity="0.63"/>
<path d="M1411.1 132.3 Q1422.5 140.9 1435.2 147.2" stroke="#eff0f8" stroke-width="0.91" fill="none" opacity="0.58"/>
<path d="M1454.6 99.5 Q1470.7 108.2 1487.7 115.3" stroke="#eff0f8" stroke-width="1.11" fill="none" opacity="0.74"/>
<path d="M1404.3 122.9 Q1419.3 130.8 1435.8 134.5" stroke="#eff0f8" stroke-width="1.26" fill="none" opacity="0.79"/>
<path d="M1386.4 129.2 Q1404.2 136.5 1421.7 144.8" stroke="#eff0f8" stroke-width="1.45" fill="none" opacity="0.66"/>
<path d="M1418.7 98.6 Q1431.7 104.8 1443.1 113.7" stroke="#eff0f8" stroke-width="0.61" fill="none" opacity="0.89"/>
<path d="M1374.9 103.7 Q1391.1 106.8 1405.8 114.5" stroke="#eff0f8" stroke-width="1.40" fill="none" opacity="0.88"/>
<path d="M1429.5 114.7 Q1442.5 120.5 1455.1 127.2" stroke="#eff0f8" stroke-width="0.74" fill="none" opacity="0.54"/>
<path d="M1436.0 89.5 Q1448.3 99.4 1463.2 104.7" stroke="#eff0f8" stroke-width="1.03" fill="none" opacity="0.69"/>
<path d="M1407.0 106.2 Q1424.1 113.3 1439.0 124.2" stroke="#eff0f8" stroke-width="1.44" fill="none" opacity="0.90"/>
<path d="M1428.3 108.9 Q1441.9 115.2 1452.3 125.9" stroke="#eff0f8" stroke-width="1.45" fill="none" opacity="0.68"/>
<path d="M1390.3 120.9 Q1408.4 127.1 1425.8 134.9" stroke="#eff0f8" stroke-width="0.89" fill="none" opacity="0.59"/>
<path d="M1456.8 99.1 Q1468.1 104.3 1480.3 106.2" stroke="#eff0f8" stroke-width="1.60" fill="none" opacity="0.95"/>
<path d="M1456.9 126.3 Q1469.7 130.9 1481.1 138.2" stroke="#eff0f8" stroke-width="1.55" fill="none" opacity="0.86"/>
<path d="M1375.8 88.4 Q1388.8 102.5 1406.4 110.1" stroke="#eff0f8" stroke-width="0.89" fill="none" opacity="0.72"/>
<path d="M1464.9 99.5 Q1474.2 100.9 1481.0 107.4" stroke="#eff0f8" stroke-width="0.98" fill="none" opacity="0.83"/>
<path d="M1381.2 112.3 Q1390.7 118.0 1401.9 117.8" stroke="#eff0f8" stroke-width="1.60" fill="none" opacity="0.55"/>
<path d="M1403.6 97.4 Q1415.4 97.9 1424.9 104.7" stroke="#eff0f8" stroke-width="1.19" fill="none" opacity="0.68"/>
<path d="M1440.7 121.8 Q1457.9 130.0 1470.8 143.9" stroke="#eff0f8" stroke-width="1.47" fill="none" opacity="0.54"/>
<path d="M1435.1 120.5 Q1450.9 127.7 1467.3 133.5" stroke="#eff0f8" stroke-width="1.54" fill="none" opacity="0.63"/>
<path d="M1427.9 111.0 Q1442.3 119.6 1458.9 121.5" stroke="#eff0f8" stroke-width="1.33" fill="none" opacity="0.71"/>
<path d="M1415.3 95.1 Q1431.6 103.7 1444.6 116.8" stroke="#eff0f8" stroke-width="0.62" fill="none" opacity="0.69"/>
<path d="M1467.3 93.2 Q1483.8 101.4 1498.9 111.9" stroke="#eff0f8" stroke-width="1.23" fill="none" opacity="0.79"/>
<path d="M1392.8 122.8 Q1400.8 123.6 1407.4 128.0" stroke="#eff0f8" stroke-width="1.56" fill="none" opacity="0.53"/>
<path d="M1397.1 116.8 Q1411.3 123.4 1426.6 126.1" stroke="#eff0f8" stroke-width="1.11" fill="none" opacity="0.81"/>
<path d="M1454.6 118.1 Q1465.3 121.4 1471.6 130.6" stroke="#eff0f8" stroke-width="0.89" fill="none" opacity="0.94"/>
<path d="M1418.9 108.6 Q1434.8 112.4 1447.1 123.2" stroke="#eff0f8" stroke-width="1.13" fill="none" opacity="0.52"/>
<path d="M1426.0 88.6 Q1440.1 92.3 1454.1 96.6" stroke="#eff0f8" stroke-width="0.83" fill="none" opacity="0.87"/>
<path d="M1399.2 95.0 Q1410.7 98.5 1422.0 102.3" stroke="#eff0f8" stroke-width="1.47" fill="none" opacity="0.63"/>
<path d="M1458.9 121.1 Q1469.0 123.6 1476.8 130.5" stroke="#eff0f8" stroke-width="1.51" fill="none" opacity="0.69"/>
<path d="M1462.9 92.7 Q1470.8 96.2 1476.8 102.6" stroke="#eff0f8" stroke-width="1.16" fill="none" opacity="0.88"/>
<path d="M1476.4 95.8 Q1487.5 98.9 1498.7 101.5" stroke="#eff0f8" stroke-width="1.21" fill="none" opacity="0.88"/>
<path d="M1463.0 114.9 Q1479.9 122.6 1492.6 136.1" stroke="#eff0f8" stroke-width="0.94" fill="none" opacity="0.52"/>
<path d="M1399.7 109.8 Q1414.1 119.7 1431.0 124.3" stroke="#eff0f8" stroke-width="1.20" fill="none" opacity="0.71"/>
<path d="M1381.6 91.9 Q1395.8 105.3 1413.2 114.2" stroke="#eff0f8" stroke-width="1.40" fill="none" opacity="0.85"/>
<path d="M1386.7 110.2 Q1403.3 116.4 1421.0 118.2" stroke="#eff0f8" stroke-width="1.43" fill="none" opacity="0.79"/>
<path d="M1409.0 109.5 Q1419.1 113.5 1429.9 114.4" stroke="#eff0f8" stroke-width="1.04" fill="none" opacity="0.58"/>
<path d="M1467.7 108.5 Q1476.8 111.8 1485.3 116.4" stroke="#eff0f8" stroke-width="1.58" fill="none" opacity="0.68"/>
<path d="M1399.9 131.0 Q1408.8 131.8 1413.8 139.1" stroke="#eff0f8" stroke-width="0.92" fill="none" opacity="0.68"/>
<path d="M1461.1 87.6 Q1473.6 92.3 1483.8 101.0" stroke="#eff0f8" stroke-width="0.71" fill="none" opacity="0.71"/>
<path d="M1392.0 84.3 Q1404.4 95.6 1418.6 104.3" stroke="#eff0f8" stroke-width="1.37" fill="none" opacity="0.55"/>
<path d="M1456.1 97.6 Q1469.7 100.8 1480.5 109.7" stroke="#eff0f8" stroke-width="1.51" fill="none" opacity="0.87"/>
<path d="M1448.6 112.9 Q1458.3 111.8 1466.1 117.9" stroke="#eff0f8" stroke-width="1.45" fill="none" opacity="0.93"/>
<path d="M1448.3 92.8 Q1467.0 100.7 1481.7 114.6" stroke="#eff0f8" stroke-width="1.20" fill="none" opacity="0.58"/>
<path d="M1423.5 89.6 Q1437.2 98.6 1452.1 105.2" stroke="#eff0f8" stroke-width="1.01" fill="none" opacity="0.74"/>
<path d="M1390.1 130.7 Q1401.6 138.8 1414.5 144.4" stroke="#a3a8c8" stroke-width="0.86" fill="none" opacity="0.48"/>
<path d="M1408.8 97.2 Q1425.9 103.6 1443.1 109.7" stroke="#a3a8c8" stroke-width="0.49" fill="none" opacity="0.59"/>
<path d="M1421.6 126.7 Q1437.0 134.3 1449.2 146.4" stroke="#a3a8c8" stroke-width="0.84" fill="none" opacity="0.76"/>
<path d="M1422.5 94.8 Q1436.2 103.2 1451.6 107.5" stroke="#a3a8c8" stroke-width="0.44" fill="none" opacity="0.76"/>
<path d="M1387.5 105.1 Q1406.4 111.2 1425.2 117.6" stroke="#a3a8c8" stroke-width="0.49" fill="none" opacity="0.46"/>
<path d="M1383.2 93.4 Q1389.5 100.1 1398.3 102.7" stroke="#a3a8c8" stroke-width="0.80" fill="none" opacity="0.60"/>
<path d="M1435.3 92.5 Q1449.4 101.3 1463.5 109.8" stroke="#a3a8c8" stroke-width="0.65" fill="none" opacity="0.52"/>
<path d="M1394.1 100.4 Q1405.2 110.1 1417.9 117.6" stroke="#a3a8c8" stroke-width="0.45" fill="none" opacity="0.76"/>
<path d="M1440.2 109.8 Q1447.7 111.6 1455.0 114.3" stroke="#a3a8c8" stroke-width="0.57" fill="none" opacity="0.71"/>
<path d="M1476.3 114.1 Q1481.3 121.5 1489.9 123.8" stroke="#a3a8c8" stroke-width="0.66" fill="none" opacity="0.79"/>
<path d="M1469.9 109.6 Q1480.0 112.7 1487.9 119.9" stroke="#a3a8c8" stroke-width="0.83" fill="none" opacity="0.62"/>
<path d="M1424.9 136.1 Q1432.7 138.1 1440.2 140.7" stroke="#a3a8c8" stroke-width="0.63" fill="none" opacity="0.76"/>
<path d="M1442.9 92.5 Q1452.7 102.6 1466.4 106.4" stroke="#a3a8c8" stroke-width="0.53" fill="none" opacity="0.46"/>
<path d="M1401.1 94.7 Q1412.3 100.3 1423.6 105.9" stroke="#a3a8c8" stroke-width="0.63" fill="none" opacity="0.71"/>
<path d="M1424.7 91.3 Q1434.3 92.6 1443.2 96.1" stroke="#a3a8c8" stroke-width="0.85" fill="none" opacity="0.59"/>
<path d="M1425.2 99.6 Q1433.6 99.6 1440.9 103.6" stroke="#a3a8c8" stroke-width="0.56" fill="none" opacity="0.68"/>
<path d="M1464.1 104.8 Q1472.0 112.8 1482.5 116.8" stroke="#a3a8c8" stroke-width="0.60" fill="none" opacity="0.48"/>
<path d="M1467.2 132.7 Q1482.0 139.2 1497.1 144.8" stroke="#a3a8c8" stroke-width="0.55" fill="none" opacity="0.51"/>
<path d="M1389.2 105.2 Q1397.0 112.5 1407.5 114.4" stroke="#a3a8c8" stroke-width="0.46" fill="none" opacity="0.64"/>
<path d="M1432.4 118.2 Q1440.1 119.6 1446.0 124.6" stroke="#a3a8c8" stroke-width="0.81" fill="none" opacity="0.78"/>
<path d="M1403.6 131.2 Q1420.6 134.1 1436.0 141.9" stroke="#a3a8c8" stroke-width="0.52" fill="none" opacity="0.67"/>
<path d="M1441.5 119.2 Q1451.2 126.4 1462.9 129.4" stroke="#a3a8c8" stroke-width="0.69" fill="none" opacity="0.50"/>
<path d="M1400.2 114.5 Q1418.1 119.1 1435.4 125.5" stroke="#a3a8c8" stroke-width="0.82" fill="none" opacity="0.62"/>
<path d="M1417.9 96.9 Q1425.4 103.4 1433.8 108.8" stroke="#a3a8c8" stroke-width="0.68" fill="none" opacity="0.79"/>
<path d="M1420.2 96.2 Q1433.3 100.0 1444.9 107.2" stroke="#a3a8c8" stroke-width="0.70" fill="none" opacity="0.41"/>
<path d="M1374.4 105.1 Q1390.7 115.0 1406.2 126.2" stroke="#a3a8c8" stroke-width="0.74" fill="none" opacity="0.55"/>
<path d="M1385.6 122.2 Q1403.3 129.8 1420.9 137.9" stroke="#a3a8c8" stroke-width="0.65" fill="none" opacity="0.67"/>
<path d="M1414.9 111.1 Q1427.0 116.0 1435.5 125.9" stroke="#a3a8c8" stroke-width="0.68" fill="none" opacity="0.64"/>
<path d="M1439.4 131.5 Q1455.0 136.2 1467.4 146.9" stroke="#a3a8c8" stroke-width="0.51" fill="none" opacity="0.71"/>
<path d="M1404.3 94.1 Q1415.7 97.1 1423.7 105.8" stroke="#a3a8c8" stroke-width="0.76" fill="none" opacity="0.53"/>
<path d="M1455.7 137.2 Q1463.1 139.8 1470.8 141.2" stroke="#a3a8c8" stroke-width="0.83" fill="none" opacity="0.63"/>
<path d="M1432.1 90.4 Q1445.8 96.7 1460.4 100.5" stroke="#a3a8c8" stroke-width="0.69" fill="none" opacity="0.59"/>
<path d="M1410.8 123.2 Q1420.8 125.7 1428.9 132.1" stroke="#a3a8c8" stroke-width="0.42" fill="none" opacity="0.77"/>
<path d="M1420.4 100.2 Q1426.2 106.9 1435.0 108.0" stroke="#a3a8c8" stroke-width="0.41" fill="none" opacity="0.52"/>
<path d="M1413.6 133.9 Q1421.0 141.9 1431.8 142.8" stroke="#a3a8c8" stroke-width="0.76" fill="none" opacity="0.40"/>
<path d="M1472.4 102.3 Q1487.6 111.7 1504.8 116.1" stroke="#a3a8c8" stroke-width="0.73" fill="none" opacity="0.45"/>
<path d="M1408.0 111.0 Q1423.8 115.4 1437.0 125.2" stroke="#a3a8c8" stroke-width="0.76" fill="none" opacity="0.78"/>
<path d="M1387.5 101.8 Q1399.0 107.4 1411.3 110.9" stroke="#a3a8c8" stroke-width="0.42" fill="none" opacity="0.42"/>
<path d="M1408.8 87.7 Q1422.9 93.8 1432.8 105.6" stroke="#a3a8c8" stroke-width="0.85" fill="none" opacity="0.76"/>
<path d="M1396.9 125.5 Q1405.7 131.2 1416.2 130.1" stroke="#a3a8c8" stroke-width="0.89" fill="none" opacity="0.59"/>
<path d="M1470.2 107.1 Q1485.4 109.4 1497.7 118.7" stroke="#a3a8c8" stroke-width="0.53" fill="none" opacity="0.45"/>
<path d="M1377.5 128.6 Q1390.5 134.5 1404.6 136.3" stroke="#a3a8c8" stroke-width="0.79" fill="none" opacity="0.69"/>
<path d="M1465.1 108.6 Q1484.0 112.1 1500.3 122.2" stroke="#a3a8c8" stroke-width="0.57" fill="none" opacity="0.60"/>
<path d="M1472.3 101.4 Q1479.5 109.1 1489.8 111.4" stroke="#a3a8c8" stroke-width="0.54" fill="none" opacity="0.55"/>
<path d="M1466.7 127.2 Q1476.7 128.3 1484.1 135.1" stroke="#a3a8c8" stroke-width="0.64" fill="none" opacity="0.75"/>
<path d="M1405.1 93.6 Q1421.9 95.0 1437.1 102.3" stroke="#a3a8c8" stroke-width="0.54" fill="none" opacity="0.46"/>
<path d="M1389.0 113.7 Q1404.0 126.3 1421.8 134.7" stroke="#a3a8c8" stroke-width="0.76" fill="none" opacity="0.63"/>
<path d="M1383.7 99.1 Q1396.1 102.8 1407.4 109.0" stroke="#a3a8c8" stroke-width="0.61" fill="none" opacity="0.58"/>
<path d="M1415.6 105.9 Q1431.1 113.4 1445.9 122.0" stroke="#a3a8c8" stroke-width="0.82" fill="none" opacity="0.79"/>
<path d="M1452.4 118.2 Q1466.0 121.6 1479.6 125.0" stroke="#a3a8c8" stroke-width="0.75" fill="none" opacity="0.58"/>
</g>
<g filter="url(#bl2)">
<polygon points="1349.0,223.8 1354.8,209.1 1368.0,200.3 1388.5,197.4 1401.7,203.3 1410.5,215.0 1413.4,238.4 1411.9,253.1 1400.2,266.2 1379.7,267.7 1369.5,258.9 1354.8,245.7" fill="#fefefe"/>
<polygon points="1302.1,216.5 1308.0,209.1 1322.6,216.5 1315.3,231.1 1305.0,235.5" fill="#f3f4f9"/>
<polygon points="1414.8,238.4 1432.4,241.3 1439.7,250.1 1425.1,253.1 1413.4,253.1" fill="#f1f2f8"/>
<ellipse cx="1458.8" cy="156.4" rx="11.71" ry="10.25" fill="#eceef6"/>
<ellipse cx="1480.7" cy="198.9" rx="10.25" ry="13.18" fill="#e9ebf4"/>
<ellipse cx="1344.6" cy="153.5" rx="8.05" ry="11.71" fill="#eceef6"/>
<ellipse cx="1397.3" cy="114.0" rx="8.78" ry="7.32" fill="#e4e6f0"/>
</g>
<g filter="url(#bl1)">
<ellipse cx="1414.8" cy="157.9" rx="12.88" ry="8.78" fill="#cdd0e2" transform="rotate(-14 1414.8 157.9)" stroke="#b9bcd5" stroke-width="0.8"/>
<ellipse cx="1417.8" cy="169.6" rx="12.88" ry="9.88" fill="#cdd0e2" transform="rotate(14 1417.8 169.6)" stroke="#b9bcd5" stroke-width="0.8"/>
<ellipse cx="1404.6" cy="192.3" rx="11.71" ry="8.78" fill="#cdd0e2" transform="rotate(-9 1404.6 192.3)" stroke="#b9bcd5" stroke-width="0.8"/>
<ellipse cx="1423.6" cy="198.9" rx="11.71" ry="8.78" fill="#cdd0e2" transform="rotate(0 1423.6 198.9)" stroke="#b9bcd5" stroke-width="0.8"/>
<ellipse cx="1420.7" cy="215.0" rx="9.37" ry="9.88" fill="#cdd0e2" transform="rotate(18 1420.7 215.0)" stroke="#b9bcd5" stroke-width="0.8"/>
<ellipse cx="1435.3" cy="207.7" rx="9.37" ry="8.78" fill="#cdd0e2" transform="rotate(8 1435.3 207.7)" stroke="#b9bcd5" stroke-width="0.8"/>
<ellipse cx="1446.3" cy="155.0" rx="9.37" ry="12.08" fill="#cdd0e2" transform="rotate(-17 1446.3 155.0)" stroke="#b9bcd5" stroke-width="0.8"/>
<ellipse cx="1441.2" cy="222.3" rx="10.54" ry="9.88" fill="#cdd0e2" transform="rotate(20 1441.2 222.3)" stroke="#b9bcd5" stroke-width="0.8"/>
<ellipse cx="1428.0" cy="229.6" rx="7.03" ry="8.78" fill="#cdd0e2" transform="rotate(8 1428.0 229.6)" stroke="#b9bcd5" stroke-width="0.8"/>
<ellipse cx="1461.7" cy="207.7" rx="11.71" ry="10.98" fill="#cdd0e2" transform="rotate(18 1461.7 207.7)" stroke="#b9bcd5" stroke-width="0.8"/>
<ellipse cx="1460.2" cy="176.9" rx="10.54" ry="9.88" fill="#cdd0e2" transform="rotate(-9 1460.2 176.9)" stroke="#b9bcd5" stroke-width="0.8"/>
<ellipse cx="1477.8" cy="218.6" rx="9.37" ry="8.78" fill="#cdd0e2" transform="rotate(21 1477.8 218.6)" stroke="#b9bcd5" stroke-width="0.8"/>
<ellipse cx="1461.7" cy="236.2" rx="10.54" ry="8.78" fill="#cdd0e2" transform="rotate(-9 1461.7 236.2)" stroke="#b9bcd5" stroke-width="0.8"/>
<ellipse cx="1470.5" cy="246.5" rx="9.37" ry="8.78" fill="#cdd0e2" transform="rotate(29 1470.5 246.5)" stroke="#b9bcd5" stroke-width="0.8"/>
<ellipse cx="1483.7" cy="253.1" rx="7.03" ry="8.78" fill="#cdd0e2" transform="rotate(-25 1483.7 253.1)" stroke="#b9bcd5" stroke-width="0.8"/>
<ellipse cx="1463.2" cy="260.4" rx="9.37" ry="8.78" fill="#cdd0e2" transform="rotate(-6 1463.2 260.4)" stroke="#b9bcd5" stroke-width="0.8"/>
<ellipse cx="1474.9" cy="269.9" rx="9.37" ry="6.59" fill="#cdd0e2" transform="rotate(-4 1474.9 269.9)" stroke="#b9bcd5" stroke-width="0.8"/>
<ellipse cx="1411.9" cy="273.6" rx="10.54" ry="8.78" fill="#cdd0e2" transform="rotate(-8 1411.9 273.6)" stroke="#b9bcd5" stroke-width="0.8"/>
<ellipse cx="1412.6" cy="288.2" rx="10.54" ry="8.78" fill="#cdd0e2" transform="rotate(25 1412.6 288.2)" stroke="#b9bcd5" stroke-width="0.8"/>
<ellipse cx="1378.2" cy="273.6" rx="10.54" ry="9.88" fill="#cdd0e2" transform="rotate(16 1378.2 273.6)" stroke="#b9bcd5" stroke-width="0.8"/>
<ellipse cx="1373.8" cy="292.6" rx="8.20" ry="6.59" fill="#cdd0e2" transform="rotate(22 1373.8 292.6)" stroke="#b9bcd5" stroke-width="0.8"/>
<ellipse cx="1362.1" cy="254.5" rx="10.54" ry="9.88" fill="#cdd0e2" transform="rotate(-10 1362.1 254.5)" stroke="#b9bcd5" stroke-width="0.8"/>
<ellipse cx="1349.0" cy="260.4" rx="8.20" ry="9.88" fill="#cdd0e2" transform="rotate(28 1349.0 260.4)" stroke="#b9bcd5" stroke-width="0.8"/>
<ellipse cx="1353.3" cy="273.6" rx="7.03" ry="6.59" fill="#cdd0e2" transform="rotate(-7 1353.3 273.6)" stroke="#b9bcd5" stroke-width="0.8"/>
<ellipse cx="1360.7" cy="286.7" rx="9.37" ry="8.78" fill="#cdd0e2" transform="rotate(-20 1360.7 286.7)" stroke="#b9bcd5" stroke-width="0.8"/>
<ellipse cx="1372.4" cy="185.7" rx="12.88" ry="12.08" fill="#cdd0e2" transform="rotate(24 1372.4 185.7)" stroke="#b9bcd5" stroke-width="0.8"/>
<ellipse cx="1341.6" cy="247.2" rx="8.20" ry="7.69" fill="#cdd0e2" transform="rotate(27 1341.6 247.2)" stroke="#b9bcd5" stroke-width="0.8"/>
<ellipse cx="1315.3" cy="292.6" rx="9.37" ry="8.78" fill="#cdd0e2" transform="rotate(30 1315.3 292.6)" stroke="#b9bcd5" stroke-width="0.8"/>
<ellipse cx="1313.8" cy="261.8" rx="9.37" ry="9.88" fill="#cdd0e2" transform="rotate(-8 1313.8 261.8)" stroke="#b9bcd5" stroke-width="0.8"/>
<ellipse cx="1422.2" cy="128.6" rx="10.54" ry="9.88" fill="#cdd0e2" transform="rotate(10 1422.2 128.6)" stroke="#b9bcd5" stroke-width="0.8"/>
<ellipse cx="1435.3" cy="135.9" rx="7.03" ry="6.59" fill="#cdd0e2" transform="rotate(13 1435.3 135.9)" stroke="#b9bcd5" stroke-width="0.8"/>
<ellipse cx="1457.3" cy="291.1" rx="8.20" ry="6.59" fill="#cdd0e2" transform="rotate(-14 1457.3 291.1)" stroke="#b9bcd5" stroke-width="0.8"/>
<ellipse cx="1480.7" cy="292.6" rx="7.03" ry="6.59" fill="#cdd0e2" transform="rotate(-26 1480.7 292.6)" stroke="#b9bcd5" stroke-width="0.8"/>
<ellipse cx="1394.3" cy="283.8" rx="7.03" ry="6.59" fill="#cdd0e2" transform="rotate(0 1394.3 283.8)" stroke="#b9bcd5" stroke-width="0.8"/>
<ellipse cx="1400.2" cy="178.4" rx="8.20" ry="7.69" fill="#cdd0e2" transform="rotate(-10 1400.2 178.4)" stroke="#b9bcd5" stroke-width="0.8"/>
<ellipse cx="1454.4" cy="229.6" rx="8.20" ry="7.69" fill="#cdd0e2" transform="rotate(9 1454.4 229.6)" stroke="#b9bcd5" stroke-width="0.8"/>
<ellipse cx="1467.6" cy="142.5" rx="5.86" ry="6.59" fill="#cdd0e2" transform="rotate(-15 1467.6 142.5)" stroke="#b9bcd5" stroke-width="0.8"/>
</g>
<g filter="url(#bl05)">
<ellipse cx="1319.7" cy="114.0" rx="3.16" ry="10.28" fill="#7d81b3" transform="rotate(-25 1319.7 114.0)"/>
<ellipse cx="1289.7" cy="121.3" rx="3.16" ry="4.74" fill="#7d81b3" transform="rotate(-17 1289.7 121.3)"/>
<ellipse cx="1414.8" cy="157.9" rx="8.70" ry="6.33" fill="#7579ae" transform="rotate(19 1414.8 157.9)"/>
<ellipse cx="1417.8" cy="169.6" rx="8.70" ry="7.12" fill="#6a6ea5" transform="rotate(19 1417.8 169.6)"/>
<ellipse cx="1404.6" cy="192.3" rx="7.91" ry="6.33" fill="#7d81b3" transform="rotate(21 1404.6 192.3)"/>
<ellipse cx="1423.6" cy="198.9" rx="7.91" ry="6.33" fill="#6a6ea5" transform="rotate(-18 1423.6 198.9)"/>
<ellipse cx="1420.7" cy="215.0" rx="6.33" ry="7.12" fill="#6f73a9" transform="rotate(27 1420.7 215.0)"/>
<ellipse cx="1435.3" cy="207.7" rx="6.33" ry="6.33" fill="#6f73a9" transform="rotate(1 1435.3 207.7)"/>
<ellipse cx="1446.3" cy="155.0" rx="6.33" ry="8.70" fill="#7d81b3" transform="rotate(27 1446.3 155.0)"/>
<ellipse cx="1441.2" cy="222.3" rx="7.12" ry="7.12" fill="#6a6ea5" transform="rotate(3 1441.2 222.3)"/>
<ellipse cx="1428.0" cy="229.6" rx="4.74" ry="6.33" fill="#7579ae" transform="rotate(30 1428.0 229.6)"/>
<ellipse cx="1461.7" cy="207.7" rx="7.91" ry="7.91" fill="#6a6ea5" transform="rotate(-9 1461.7 207.7)"/>
<ellipse cx="1460.2" cy="176.9" rx="7.12" ry="7.12" fill="#6f73a9" transform="rotate(9 1460.2 176.9)"/>
<ellipse cx="1477.8" cy="218.6" rx="6.33" ry="6.33" fill="#6f73a9" transform="rotate(26 1477.8 218.6)"/>
<ellipse cx="1461.7" cy="236.2" rx="7.12" ry="6.33" fill="#7579ae" transform="rotate(-1 1461.7 236.2)"/>
<ellipse cx="1470.5" cy="246.5" rx="6.33" ry="6.33" fill="#6f73a9" transform="rotate(18 1470.5 246.5)"/>
<ellipse cx="1483.7" cy="253.1" rx="4.74" ry="6.33" fill="#7579ae" transform="rotate(18 1483.7 253.1)"/>
<ellipse cx="1463.2" cy="260.4" rx="6.33" ry="6.33" fill="#7579ae" transform="rotate(13 1463.2 260.4)"/>
<ellipse cx="1474.9" cy="269.9" rx="6.33" ry="4.74" fill="#7d81b3" transform="rotate(29 1474.9 269.9)"/>
<ellipse cx="1411.9" cy="273.6" rx="7.12" ry="6.33" fill="#6f73a9" transform="rotate(-16 1411.9 273.6)"/>
<ellipse cx="1412.6" cy="288.2" rx="7.12" ry="6.33" fill="#7d81b3" transform="rotate(4 1412.6 288.2)"/>
<ellipse cx="1378.2" cy="273.6" rx="7.12" ry="7.12" fill="#6a6ea5" transform="rotate(3 1378.2 273.6)"/>
<ellipse cx="1373.8" cy="292.6" rx="5.53" ry="4.74" fill="#7579ae" transform="rotate(-12 1373.8 292.6)"/>
<ellipse cx="1362.1" cy="254.5" rx="7.12" ry="7.12" fill="#7579ae" transform="rotate(-5 1362.1 254.5)"/>
<ellipse cx="1349.0" cy="260.4" rx="5.53" ry="7.12" fill="#7579ae" transform="rotate(-27 1349.0 260.4)"/>
<ellipse cx="1353.3" cy="273.6" rx="4.74" ry="4.74" fill="#7d81b3" transform="rotate(19 1353.3 273.6)"/>
<ellipse cx="1360.7" cy="286.7" rx="6.33" ry="6.33" fill="#7d81b3" transform="rotate(17 1360.7 286.7)"/>
<ellipse cx="1372.4" cy="185.7" rx="8.70" ry="8.70" fill="#7d81b3" transform="rotate(-16 1372.4 185.7)"/>
<ellipse cx="1341.6" cy="247.2" rx="5.53" ry="5.53" fill="#7d81b3" transform="rotate(-28 1341.6 247.2)"/>
<ellipse cx="1315.3" cy="292.6" rx="6.33" ry="6.33" fill="#6a6ea5" transform="rotate(27 1315.3 292.6)"/>
<ellipse cx="1313.8" cy="261.8" rx="6.33" ry="7.12" fill="#7d81b3" transform="rotate(4 1313.8 261.8)"/>
<ellipse cx="1422.2" cy="128.6" rx="7.12" ry="7.12" fill="#6f73a9" transform="rotate(18 1422.2 128.6)"/>
<ellipse cx="1435.3" cy="135.9" rx="4.74" ry="4.74" fill="#6f73a9" transform="rotate(9 1435.3 135.9)"/>
<ellipse cx="1488.0" cy="280.9" rx="3.16" ry="4.74" fill="#7579ae" transform="rotate(-16 1488.0 280.9)"/>
<ellipse cx="1300.6" cy="114.0" rx="2.37" ry="3.95" fill="#7d81b3" transform="rotate(16 1300.6 114.0)"/>
<ellipse cx="1457.3" cy="291.1" rx="5.53" ry="4.74" fill="#7579ae" transform="rotate(-20 1457.3 291.1)"/>
<ellipse cx="1480.7" cy="292.6" rx="4.74" ry="4.74" fill="#6f73a9" transform="rotate(-21 1480.7 292.6)"/>
<ellipse cx="1394.3" cy="283.8" rx="4.74" ry="4.74" fill="#7579ae" transform="rotate(-25 1394.3 283.8)"/>
<ellipse cx="1400.2" cy="178.4" rx="5.53" ry="5.53" fill="#6a6ea5" transform="rotate(16 1400.2 178.4)"/>
<ellipse cx="1454.4" cy="229.6" rx="5.53" ry="5.53" fill="#7579ae" transform="rotate(7 1454.4 229.6)"/>
<ellipse cx="1485.1" cy="159.3" rx="3.16" ry="5.53" fill="#6f73a9" transform="rotate(1 1485.1 159.3)"/>
<ellipse cx="1467.6" cy="142.5" rx="3.95" ry="4.74" fill="#7579ae" transform="rotate(27 1467.6 142.5)"/>
<ellipse cx="1335.0" cy="130.1" rx="5.38" ry="5.84" fill="#3a1a0c"/>
<ellipse cx="1365.8" cy="133.0" rx="8.46" ry="6.92" fill="#2e130a" transform="rotate(10 1365.8 133.0)"/>
<ellipse cx="1332.9" cy="148.4" rx="6.92" ry="6.15" fill="#3d1c10" transform="rotate(30 1332.9 148.4)"/>
<ellipse cx="1324.1" cy="159.3" rx="9.22" ry="7.69" fill="#341709"/>
<ellipse cx="1318.9" cy="174.0" rx="6.92" ry="5.84" fill="#4a2614"/>
<ellipse cx="1364.3" cy="155.7" rx="7.69" ry="8.46" fill="#3a1a0e"/>
<ellipse cx="1381.9" cy="141.8" rx="5.38" ry="3.84" fill="#2a1418"/>
<ellipse cx="1375.3" cy="174.0" rx="6.92" ry="4.30" fill="#3a2020"/>
<ellipse cx="1354.1" cy="201.1" rx="6.15" ry="6.92" fill="#3a1a14"/>
<ellipse cx="1314.6" cy="217.9" rx="6.92" ry="10.76" fill="#3a1c0e" transform="rotate(15 1314.6 217.9)"/>
<ellipse cx="1313.8" cy="245.0" rx="7.69" ry="6.15" fill="#3a1a0e"/>
<ellipse cx="1436.1" cy="180.6" rx="8.46" ry="7.69" fill="#2e130c" transform="rotate(-10 1436.1 180.6)"/>
<ellipse cx="1426.6" cy="185.7" rx="5.38" ry="4.61" fill="#3a1a14"/>
<ellipse cx="1418.5" cy="176.9" rx="6.92" ry="4.92" fill="#3a1c18"/>
<ellipse cx="1390.0" cy="112.5" rx="6.15" ry="6.92" fill="#5a4048"/>
<ellipse cx="1391.4" cy="130.1" rx="4.61" ry="5.38" fill="#6a5058"/>
<ellipse cx="1370.9" cy="108.1" rx="9.22" ry="6.92" fill="#6a5a70"/>
<ellipse cx="1311.6" cy="277.2" rx="5.38" ry="6.92" fill="#8a6a50"/>
<ellipse cx="1432.4" cy="257.4" rx="6.15" ry="6.15" fill="#4a3040"/>
<ellipse cx="1302.1" cy="147.6" rx="0.92" ry="1.84" fill="#8a5a30"/>
<ellipse cx="1340.9" cy="227.4" rx="2.20" ry="2.64" fill="#1a1a50"/>
<ellipse cx="1458.0" cy="270.6" rx="8.05" ry="2.34" fill="#1e2460"/>
<ellipse cx="1376.8" cy="193.0" rx="5.12" ry="3.66" fill="#2e3270"/>
<ellipse cx="1467.6" cy="280.9" rx="5.12" ry="2.93" fill="#2e3270"/>
</g>
<rect x="1286" y="92" width="205.5" height="206.5" filter="url(#grain)" opacity="0.45"/>
<path d="M0 0 L18 -7.4 L14 -1.1 L23.7 -1.1 L23.7 1.1 L14 1.1 L18 7.4 Z" fill="#ec1c24" transform="translate(1399.1 122.2) rotate(45)"/>
<path d="M0 0 L18 -7.4 L14 -1.1 L23.7 -1.1 L23.7 1.1 L14 1.1 L18 7.4 Z" fill="#ec1c24" transform="translate(1345.1 140.5) rotate(45)"/>
<path d="M0 0 L18 -7.4 L14 -1.1 L23.7 -1.1 L23.7 1.1 L14 1.1 L18 7.4 Z" fill="#ec1c24" transform="translate(1371.7 140.5) rotate(45)"/>
<path d="M0 0 L18 -7.4 L14 -1.1 L23.7 -1.1 L23.7 1.1 L14 1.1 L18 7.4 Z" fill="#ec1c24" transform="translate(1389.2 148.8) rotate(45)"/>
<path d="M0 0 L18 -7.4 L14 -1.1 L23.7 -1.1 L23.7 1.1 L14 1.1 L18 7.4 Z" fill="#ec1c24" transform="translate(1380.9 164.0) rotate(45)"/>
<path d="M0 0 L18 -7.4 L14 -1.1 L23.7 -1.1 L23.7 1.1 L14 1.1 L18 7.4 Z" fill="#ec1c24" transform="translate(1336.8 164.0) rotate(45)"/>
<path d="M0 0 L18 -7.4 L14 -1.1 L23.7 -1.1 L23.7 1.1 L14 1.1 L18 7.4 Z" fill="#ec1c24" transform="translate(1322.3 182.3) rotate(45)"/>
<path d="M0 0 L18 -7.4 L14 -1.1 L23.7 -1.1 L23.7 1.1 L14 1.1 L18 7.4 Z" fill="#ec1c24" transform="translate(1445.5 186.9) rotate(45)"/>
<path d="M0 0 L18 -7.4 L14 -1.1 L23.7 -1.1 L23.7 1.1 L14 1.1 L18 7.4 Z" fill="#ec1c24" transform="translate(1323.8 227.2) rotate(45)"/>
<path d="M0 0 L18 -7.4 L14 -1.1 L23.7 -1.1 L23.7 1.1 L14 1.1 L18 7.4 Z" fill="#ec1c24" transform="translate(1322.3 248.5) rotate(45)"/>
<path d="M0 0 L18 -7.4 L14 -1.1 L23.7 -1.1 L23.7 1.1 L14 1.1 L18 7.4 Z" fill="#ec1c24" transform="translate(1353.5 264.4) rotate(45)"/>
<path d="M0 0 L18 -7.4 L14 -1.1 L23.7 -1.1 L23.7 1.1 L14 1.1 L18 7.4 Z" fill="#ec1c24" transform="translate(1322.3 283.4) rotate(45)"/>
<rect x="1427.5" y="277" width="51.8" height="7.7" fill="#000"/>
</g>
<rect x="1286.2" y="91.6" width="205.5" height="207.5" fill="none" stroke="#000" stroke-width="2.1"/>
<text x="1523.0" y="33.0" font-size="40" font-weight="bold" stroke="#000" stroke-width="1.8" stroke-linejoin="round">d</text>
<line x1="1637.9" y1="46.2" x2="1637.9" y2="370.3" stroke="#000" stroke-width="1.5"/>
<line x1="1627.2" y1="46.2" x2="1637.9" y2="46.2" stroke="#333" stroke-width="1.5"/>
<text x="1616.5" y="54.7" font-size="24" text-anchor="end" textLength="27.8" lengthAdjust="spacingAndGlyphs">10</text>
<line x1="1627.2" y1="111.2" x2="1637.9" y2="111.2" stroke="#333" stroke-width="1.5"/>
<text x="1616.5" y="119.7" font-size="24" text-anchor="end">8</text>
<line x1="1627.2" y1="176.0" x2="1637.9" y2="176.0" stroke="#333" stroke-width="1.5"/>
<text x="1616.5" y="184.5" font-size="24" text-anchor="end">6</text>
<line x1="1627.2" y1="240.6" x2="1637.9" y2="240.6" stroke="#333" stroke-width="1.5"/>
<text x="1616.5" y="249.1" font-size="24" text-anchor="end">4</text>
<line x1="1627.2" y1="305.0" x2="1637.9" y2="305.0" stroke="#333" stroke-width="1.5"/>
<text x="1616.5" y="313.5" font-size="24" text-anchor="end">2</text>
<line x1="1627.2" y1="369.6" x2="1637.9" y2="369.6" stroke="#333" stroke-width="1.5"/>
<text x="1616.5" y="378.1" font-size="24" text-anchor="end">0</text>
<line x1="1627.2" y1="369.6" x2="1776.5" y2="369.6" stroke="#000" stroke-width="1.5"/>
<line x1="1661.7" y1="369.6" x2="1661.7" y2="383.0" stroke="#555" stroke-width="1.5"/>
<line x1="1753.1" y1="369.6" x2="1753.1" y2="383.0" stroke="#555" stroke-width="1.5"/>
<text x="1670.6" y="479.5" font-size="29" transform="rotate(-90 1670.6 479.5)" textLength="92.0" lengthAdjust="spacingAndGlyphs">Pre-TKI</text>
<text x="1763.0" y="491.8" font-size="29" transform="rotate(-90 1763.0 491.8)" textLength="103.0" lengthAdjust="spacingAndGlyphs">Post-TKI</text>
<text x="1545.9" y="207.5" font-size="29" text-anchor="middle" transform="rotate(-90 1545.9 207.5)" textLength="236.5" lengthAdjust="spacingAndGlyphs">Percentage of A3B</text>
<text x="1579.1" y="206.5" font-size="29" text-anchor="middle" transform="rotate(-90 1579.1 206.5)" textLength="220.0" lengthAdjust="spacingAndGlyphs">immunopositivity</text>
<line x1="1664.2" y1="64.0" x2="1753.8" y2="64.0" stroke="#777" stroke-width="1.8"/>
<text x="1710.4" y="65.9" font-size="33" text-anchor="middle" stroke="#000" stroke-width="0.5">*</text>
<circle cx="1778.5" cy="54.0" r="6.3" fill="#000"/>
<text x="1789.6" y="62.4" font-size="28" textLength="33.0" lengthAdjust="spacingAndGlyphs">TN</text>
<circle cx="1778.5" cy="86.1" r="6.3" fill="#f92a73"/>
<text x="1789.6" y="94.3" font-size="28" textLength="33.5" lengthAdjust="spacingAndGlyphs">RD</text>
<circle cx="1778.5" cy="118.1" r="6.3" fill="#0a8a8a"/>
<text x="1789.6" y="125.6" font-size="28" textLength="32.0" lengthAdjust="spacingAndGlyphs">PD</text>
<line x1="1661.4" y1="288.8" x2="1753.3" y2="169.1" stroke="#000" stroke-width="1.3" stroke-dasharray="6,3.5"/>
<line x1="1661.4" y1="337.3" x2="1753.3" y2="83.4" stroke="#000" stroke-width="1.3" stroke-dasharray="6,3.5"/>
<line x1="1661.4" y1="340.5" x2="1753.3" y2="182.0" stroke="#000" stroke-width="1.3" stroke-dasharray="6,3.5"/>
<line x1="1661.4" y1="369.6" x2="1753.3" y2="216.0" stroke="#000" stroke-width="1.3" stroke-dasharray="6,3.5"/>
<line x1="1661.4" y1="345.3" x2="1753.3" y2="272.6" stroke="#000" stroke-width="1.3" stroke-dasharray="6,3.5"/>
<line x1="1661.4" y1="350.2" x2="1753.3" y2="264.5" stroke="#000" stroke-width="1.3" stroke-dasharray="6,3.5"/>
<line x1="1661.4" y1="334.0" x2="1753.3" y2="293.6" stroke="#000" stroke-width="1.3" stroke-dasharray="6,3.5"/>
<line x1="1661.4" y1="300.1" x2="1753.3" y2="321.1" stroke="#000" stroke-width="1.3" stroke-dasharray="6,3.5"/>
<line x1="1661.4" y1="304.9" x2="1753.3" y2="358.3" stroke="#000" stroke-width="1.3" stroke-dasharray="6,3.5"/>
<line x1="1661.4" y1="309.8" x2="1753.3" y2="335.6" stroke="#000" stroke-width="1.3" stroke-dasharray="6,3.5"/>
<line x1="1661.4" y1="343.7" x2="1753.3" y2="317.9" stroke="#000" stroke-width="1.3" stroke-dasharray="6,3.5"/>
<line x1="1661.4" y1="353.4" x2="1753.3" y2="350.2" stroke="#000" stroke-width="1.3" stroke-dasharray="6,3.5"/>
<line x1="1661.4" y1="295.2" x2="1753.3" y2="275.8" stroke="#000" stroke-width="1.3" stroke-dasharray="6,3.5"/>
<line x1="1661.4" y1="314.6" x2="1753.3" y2="361.5" stroke="#000" stroke-width="1.3" stroke-dasharray="6,3.5"/>
<circle cx="1661.4" cy="238.6" r="5.4" fill="#000"/>
<circle cx="1661.4" cy="288.8" r="5.4" fill="#000"/>
<circle cx="1661.4" cy="295.2" r="5.4" fill="#000"/>
<circle cx="1661.4" cy="300.1" r="5.4" fill="#000"/>
<circle cx="1661.4" cy="304.9" r="5.4" fill="#000"/>
<circle cx="1661.4" cy="309.8" r="5.4" fill="#000"/>
<circle cx="1661.4" cy="314.6" r="5.4" fill="#000"/>
<circle cx="1661.4" cy="334.0" r="5.4" fill="#000"/>
<circle cx="1661.4" cy="337.3" r="5.4" fill="#000"/>
<circle cx="1661.4" cy="340.5" r="5.4" fill="#000"/>
<circle cx="1661.4" cy="343.7" r="5.4" fill="#000"/>
<circle cx="1661.4" cy="345.3" r="5.4" fill="#000"/>
<circle cx="1661.4" cy="350.2" r="5.4" fill="#000"/>
<circle cx="1661.4" cy="353.4" r="5.4" fill="#000"/>
<circle cx="1661.4" cy="369.6" r="5.4" fill="#000"/>
<circle cx="1753.3" cy="83.4" r="5.4" fill="#f92a73"/>
<circle cx="1753.3" cy="169.1" r="5.4" fill="#0a8a8a"/>
<circle cx="1753.3" cy="182.0" r="5.4" fill="#f92a73"/>
<circle cx="1753.3" cy="216.0" r="5.4" fill="#f92a73"/>
<circle cx="1753.3" cy="230.5" r="5.4" fill="#0a8a8a"/>
<circle cx="1753.3" cy="264.5" r="5.4" fill="#f92a73"/>
<circle cx="1753.3" cy="272.6" r="5.4" fill="#f92a73"/>
<circle cx="1753.3" cy="275.8" r="5.4" fill="#f92a73"/>
<circle cx="1753.3" cy="293.6" r="5.4" fill="#f92a73"/>
<circle cx="1753.3" cy="317.9" r="5.4" fill="#f92a73"/>
<circle cx="1753.3" cy="321.1" r="5.4" fill="#f92a73"/>
<circle cx="1753.3" cy="335.6" r="5.4" fill="#f92a73"/>
<circle cx="1753.3" cy="350.2" r="5.4" fill="#f92a73"/>
<circle cx="1753.3" cy="358.3" r="5.4" fill="#f92a73"/>
<circle cx="1753.3" cy="361.5" r="5.4" fill="#f92a73"/>
<text x="2.2" y="591.0" font-size="40" font-weight="bold" stroke="#000" stroke-width="1.8" stroke-linejoin="round">e</text>
<line x1="135.3" y1="645.6" x2="135.3" y2="984.7" stroke="#444" stroke-width="1.5"/>
<line x1="123.4" y1="645.6" x2="135.3" y2="645.6" stroke="#444" stroke-width="1.5"/>
<text x="112.0" y="654.1" font-size="24" text-anchor="end" textLength="78.5" lengthAdjust="spacingAndGlyphs">10,000</text>
<line x1="123.4" y1="730.4" x2="135.3" y2="730.4" stroke="#444" stroke-width="1.5"/>
<text x="112.0" y="738.9" font-size="24" text-anchor="end" textLength="57.1" lengthAdjust="spacingAndGlyphs">1000</text>
<line x1="123.4" y1="815.2" x2="135.3" y2="815.2" stroke="#444" stroke-width="1.5"/>
<text x="112.0" y="823.7" font-size="24" text-anchor="end" textLength="42.8" lengthAdjust="spacingAndGlyphs">100</text>
<line x1="123.4" y1="899.6" x2="135.3" y2="899.6" stroke="#444" stroke-width="1.5"/>
<text x="112.0" y="908.1" font-size="24" text-anchor="end" textLength="28.6" lengthAdjust="spacingAndGlyphs">10</text>
<line x1="123.4" y1="984.0" x2="135.3" y2="984.0" stroke="#444" stroke-width="1.5"/>
<text x="112.0" y="992.5" font-size="24" text-anchor="end">1</text>
<line x1="123.4" y1="984.0" x2="292.6" y2="984.0" stroke="#444" stroke-width="1.5"/>
<line x1="168.4" y1="984.0" x2="168.4" y2="996.0" stroke="#444" stroke-width="1.5"/>
<line x1="259.6" y1="984.0" x2="259.6" y2="996.0" stroke="#444" stroke-width="1.5"/>
<text x="177.1" y="1094.8" font-size="29" transform="rotate(-90 177.1 1094.8)" textLength="89.5" lengthAdjust="spacingAndGlyphs">Pre-TKI</text>
<text x="268.8" y="1106.6" font-size="29" transform="rotate(-90 268.8 1106.6)" textLength="102.0" lengthAdjust="spacingAndGlyphs">Post-TKI</text>
<text x="23.7" y="814.7" font-size="29" text-anchor="middle" transform="rotate(-90 23.7 814.7)" textLength="210.5" lengthAdjust="spacingAndGlyphs">Number of SNVs</text>
<line x1="170.0" y1="646.3" x2="257.6" y2="646.3" stroke="#333" stroke-width="1.2"/>
<text x="207.8" y="648.1" font-size="33" text-anchor="middle" stroke="#000" stroke-width="0.5">*</text>
<text x="222.5" y="648.1" font-size="33" text-anchor="middle" stroke="#000" stroke-width="0.5">*</text>
<line x1="168.3" y1="757.9" x2="259.7" y2="797.5" stroke="#000" stroke-width="1.3" stroke-dasharray="6,3.5"/>
<line x1="168.3" y1="884.5" x2="259.7" y2="816.7" stroke="#000" stroke-width="1.3" stroke-dasharray="6,3.5"/>
<line x1="168.3" y1="808.1" x2="259.7" y2="706.6" stroke="#000" stroke-width="1.3" stroke-dasharray="6,3.5"/>
<line x1="168.3" y1="814.8" x2="259.7" y2="710.7" stroke="#000" stroke-width="1.3" stroke-dasharray="6,3.5"/>
<line x1="168.3" y1="789.3" x2="259.7" y2="752.2" stroke="#000" stroke-width="1.3" stroke-dasharray="6,3.5"/>
<line x1="168.3" y1="840.3" x2="259.7" y2="859.0" stroke="#000" stroke-width="1.3" stroke-dasharray="6,3.5"/>
<line x1="168.3" y1="840.3" x2="259.7" y2="892.7" stroke="#000" stroke-width="1.3" stroke-dasharray="6,3.5"/>
<line x1="168.3" y1="844.1" x2="259.7" y2="783.5" stroke="#000" stroke-width="1.3" stroke-dasharray="6,3.5"/>
<line x1="168.3" y1="841.7" x2="259.7" y2="803.1" stroke="#000" stroke-width="1.3" stroke-dasharray="6,3.5"/>
<line x1="168.3" y1="839.3" x2="259.7" y2="795.3" stroke="#000" stroke-width="1.3" stroke-dasharray="6,3.5"/>
<line x1="168.3" y1="836.8" x2="259.7" y2="797.2" stroke="#000" stroke-width="1.3" stroke-dasharray="6,3.5"/>
<line x1="168.3" y1="834.4" x2="259.7" y2="777.6" stroke="#000" stroke-width="1.3" stroke-dasharray="6,3.5"/>
<line x1="168.3" y1="831.9" x2="259.7" y2="799.2" stroke="#000" stroke-width="1.3" stroke-dasharray="6,3.5"/>
<line x1="168.3" y1="829.5" x2="259.7" y2="765.8" stroke="#000" stroke-width="1.3" stroke-dasharray="6,3.5"/>
<line x1="168.3" y1="827.1" x2="259.7" y2="807.0" stroke="#000" stroke-width="1.3" stroke-dasharray="6,3.5"/>
<line x1="168.3" y1="824.6" x2="259.7" y2="779.6" stroke="#000" stroke-width="1.3" stroke-dasharray="6,3.5"/>
<line x1="168.3" y1="822.2" x2="259.7" y2="820.8" stroke="#000" stroke-width="1.3" stroke-dasharray="6,3.5"/>
<line x1="168.3" y1="819.7" x2="259.7" y2="801.1" stroke="#000" stroke-width="1.3" stroke-dasharray="6,3.5"/>
<line x1="168.3" y1="817.3" x2="259.7" y2="805.1" stroke="#000" stroke-width="1.3" stroke-dasharray="6,3.5"/>
<line x1="168.3" y1="814.9" x2="259.7" y2="818.8" stroke="#000" stroke-width="1.3" stroke-dasharray="6,3.5"/>
<line x1="168.3" y1="812.4" x2="259.7" y2="816.8" stroke="#000" stroke-width="1.3" stroke-dasharray="6,3.5"/>
<line x1="168.3" y1="810.0" x2="259.7" y2="812.9" stroke="#000" stroke-width="1.3" stroke-dasharray="6,3.5"/>
<line x1="168.3" y1="807.5" x2="259.7" y2="769.8" stroke="#000" stroke-width="1.3" stroke-dasharray="6,3.5"/>
<line x1="168.3" y1="805.1" x2="259.7" y2="814.9" stroke="#000" stroke-width="1.3" stroke-dasharray="6,3.5"/>
<line x1="168.3" y1="802.7" x2="259.7" y2="781.5" stroke="#000" stroke-width="1.3" stroke-dasharray="6,3.5"/>
<line x1="168.3" y1="800.2" x2="259.7" y2="791.3" stroke="#000" stroke-width="1.3" stroke-dasharray="6,3.5"/>
<line x1="168.3" y1="797.8" x2="259.7" y2="775.6" stroke="#000" stroke-width="1.3" stroke-dasharray="6,3.5"/>
<line x1="168.3" y1="795.3" x2="259.7" y2="811.0" stroke="#000" stroke-width="1.3" stroke-dasharray="6,3.5"/>
<line x1="168.3" y1="792.9" x2="259.7" y2="809.0" stroke="#000" stroke-width="1.3" stroke-dasharray="6,3.5"/>
<line x1="168.3" y1="790.5" x2="259.7" y2="785.5" stroke="#000" stroke-width="1.3" stroke-dasharray="6,3.5"/>
<line x1="168.3" y1="788.0" x2="259.7" y2="789.4" stroke="#000" stroke-width="1.3" stroke-dasharray="6,3.5"/>
<line x1="168.3" y1="785.6" x2="259.7" y2="771.7" stroke="#000" stroke-width="1.3" stroke-dasharray="6,3.5"/>
<line x1="168.3" y1="783.1" x2="259.7" y2="763.9" stroke="#000" stroke-width="1.3" stroke-dasharray="6,3.5"/>
<line x1="168.3" y1="780.7" x2="259.7" y2="773.7" stroke="#000" stroke-width="1.3" stroke-dasharray="6,3.5"/>
<line x1="168.3" y1="778.3" x2="259.7" y2="787.4" stroke="#000" stroke-width="1.3" stroke-dasharray="6,3.5"/>
<line x1="168.3" y1="775.8" x2="259.7" y2="767.8" stroke="#000" stroke-width="1.3" stroke-dasharray="6,3.5"/>
<line x1="168.3" y1="773.4" x2="259.7" y2="793.3" stroke="#000" stroke-width="1.3" stroke-dasharray="6,3.5"/>
<circle cx="168.3" cy="757.9" r="4.7" fill="#000"/>
<circle cx="168.3" cy="884.5" r="4.7" fill="#000"/>
<circle cx="168.3" cy="844.1" r="4.7" fill="#000"/>
<circle cx="168.3" cy="841.7" r="4.7" fill="#000"/>
<circle cx="168.3" cy="839.3" r="4.7" fill="#000"/>
<circle cx="168.3" cy="836.8" r="4.7" fill="#000"/>
<circle cx="168.3" cy="834.4" r="4.7" fill="#000"/>
<circle cx="168.3" cy="831.9" r="4.7" fill="#000"/>
<circle cx="168.3" cy="829.5" r="4.7" fill="#000"/>
<circle cx="168.3" cy="827.1" r="4.7" fill="#000"/>
<circle cx="168.3" cy="824.6" r="4.7" fill="#000"/>
<circle cx="168.3" cy="822.2" r="4.7" fill="#000"/>
<circle cx="168.3" cy="819.7" r="4.7" fill="#000"/>
<circle cx="168.3" cy="817.3" r="4.7" fill="#000"/>
<circle cx="168.3" cy="814.9" r="4.7" fill="#000"/>
<circle cx="168.3" cy="812.4" r="4.7" fill="#000"/>
<circle cx="168.3" cy="810.0" r="4.7" fill="#000"/>
<circle cx="168.3" cy="807.5" r="4.7" fill="#000"/>
<circle cx="168.3" cy="805.1" r="4.7" fill="#000"/>
<circle cx="168.3" cy="802.7" r="4.7" fill="#000"/>
<circle cx="168.3" cy="800.2" r="4.7" fill="#000"/>
<circle cx="168.3" cy="797.8" r="4.7" fill="#000"/>
<circle cx="168.3" cy="795.3" r="4.7" fill="#000"/>
<circle cx="168.3" cy="792.9" r="4.7" fill="#000"/>
<circle cx="168.3" cy="790.5" r="4.7" fill="#000"/>
<circle cx="168.3" cy="788.0" r="4.7" fill="#000"/>
<circle cx="168.3" cy="785.6" r="4.7" fill="#000"/>
<circle cx="168.3" cy="783.1" r="4.7" fill="#000"/>
<circle cx="168.3" cy="780.7" r="4.7" fill="#000"/>
<circle cx="168.3" cy="778.3" r="4.7" fill="#000"/>
<circle cx="168.3" cy="775.8" r="4.7" fill="#000"/>
<circle cx="168.3" cy="773.4" r="4.7" fill="#000"/>
<circle cx="168.3" cy="770.9" r="4.7" fill="#000"/>
<circle cx="259.7" cy="706.6" r="4.7" fill="#f92a73"/>
<circle cx="259.7" cy="710.7" r="4.7" fill="#f92a73"/>
<circle cx="259.7" cy="752.2" r="4.7" fill="#f92a73"/>
<circle cx="259.7" cy="859.0" r="4.7" fill="#f92a73"/>
<circle cx="259.7" cy="892.7" r="4.7" fill="#f92a73"/>
<circle cx="259.7" cy="820.8" r="4.7" fill="#f92a73"/>
<circle cx="259.7" cy="818.8" r="4.7" fill="#f92a73"/>
<circle cx="259.7" cy="816.8" r="4.7" fill="#f92a73"/>
<circle cx="259.7" cy="814.9" r="4.7" fill="#f92a73"/>
<circle cx="259.7" cy="812.9" r="4.7" fill="#f92a73"/>
<circle cx="259.7" cy="811.0" r="4.7" fill="#f92a73"/>
<circle cx="259.7" cy="809.0" r="4.7" fill="#f92a73"/>
<circle cx="259.7" cy="807.0" r="4.7" fill="#f92a73"/>
<circle cx="259.7" cy="805.1" r="4.7" fill="#f92a73"/>
<circle cx="259.7" cy="803.1" r="4.7" fill="#f92a73"/>
<circle cx="259.7" cy="801.1" r="4.7" fill="#f92a73"/>
<circle cx="259.7" cy="799.2" r="4.7" fill="#f92a73"/>
<circle cx="259.7" cy="797.2" r="4.7" fill="#f92a73"/>
<circle cx="259.7" cy="795.3" r="4.7" fill="#f92a73"/>
<circle cx="259.7" cy="793.3" r="4.7" fill="#f92a73"/>
<circle cx="259.7" cy="791.3" r="4.7" fill="#f92a73"/>
<circle cx="259.7" cy="789.4" r="4.7" fill="#f92a73"/>
<circle cx="259.7" cy="787.4" r="4.7" fill="#f92a73"/>
<circle cx="259.7" cy="785.5" r="4.7" fill="#f92a73"/>
<circle cx="259.7" cy="783.5" r="4.7" fill="#f92a73"/>
<circle cx="259.7" cy="781.5" r="4.7" fill="#f92a73"/>
<circle cx="259.7" cy="779.6" r="4.7" fill="#f92a73"/>
<circle cx="259.7" cy="777.6" r="4.7" fill="#f92a73"/>
<circle cx="259.7" cy="775.6" r="4.7" fill="#f92a73"/>
<circle cx="259.7" cy="773.7" r="4.7" fill="#f92a73"/>
<circle cx="259.7" cy="771.7" r="4.7" fill="#f92a73"/>
<circle cx="259.7" cy="769.8" r="4.7" fill="#f92a73"/>
<circle cx="259.7" cy="767.8" r="4.7" fill="#f92a73"/>
<circle cx="259.7" cy="765.8" r="4.7" fill="#f92a73"/>
<circle cx="259.7" cy="763.9" r="4.7" fill="#f92a73"/>
<text x="350.8" y="590.2" font-size="40" font-weight="bold" stroke="#000" stroke-width="1.8" stroke-linejoin="round">f</text>
<line x1="474.2" y1="646.8" x2="474.2" y2="983.7" stroke="#444" stroke-width="1.5"/>
<line x1="462.6" y1="646.8" x2="474.2" y2="646.8" stroke="#444" stroke-width="1.5"/>
<text x="450.5" y="655.3" font-size="24" text-anchor="end" textLength="64.3" lengthAdjust="spacingAndGlyphs">10,00</text>
<line x1="462.6" y1="759.1" x2="474.2" y2="759.1" stroke="#444" stroke-width="1.5"/>
<text x="450.5" y="767.6" font-size="24" text-anchor="end" textLength="42.8" lengthAdjust="spacingAndGlyphs">100</text>
<line x1="462.6" y1="871.4" x2="474.2" y2="871.4" stroke="#444" stroke-width="1.5"/>
<text x="450.5" y="879.9" font-size="24" text-anchor="end" textLength="28.6" lengthAdjust="spacingAndGlyphs">10</text>
<line x1="462.6" y1="983.0" x2="474.2" y2="983.0" stroke="#444" stroke-width="1.5"/>
<text x="450.5" y="991.5" font-size="24" text-anchor="end">1</text>
<line x1="462.6" y1="983.0" x2="630.7" y2="983.0" stroke="#444" stroke-width="1.5"/>
<line x1="507.2" y1="983.0" x2="507.2" y2="995.0" stroke="#444" stroke-width="1.5"/>
<line x1="598.8" y1="983.0" x2="598.8" y2="995.0" stroke="#444" stroke-width="1.5"/>
<text x="517.2" y="1095.2" font-size="29" transform="rotate(-90 517.2 1095.2)" textLength="89.5" lengthAdjust="spacingAndGlyphs">Pre-TKI</text>
<text x="608.8" y="1107.1" font-size="29" transform="rotate(-90 608.8 1107.1)" textLength="102.0" lengthAdjust="spacingAndGlyphs">Post-TKI</text>
<text x="374.6" y="814.9" font-size="29" text-anchor="middle" transform="rotate(-90 374.6 814.9)" textLength="413.0" lengthAdjust="spacingAndGlyphs">APOBEC SNV count (TCN C&gt;T/G)</text>
<line x1="502.0" y1="647.4" x2="590.8" y2="647.4" stroke="#333" stroke-width="1.2"/>
<text x="548.2" y="648.2" font-size="33" text-anchor="middle" stroke="#000" stroke-width="0.5">*</text>
<line x1="507.2" y1="751.6" x2="598.8" y2="730.5" stroke="#000" stroke-width="1.3" stroke-dasharray="6,3.5"/>
<line x1="507.2" y1="771.5" x2="598.8" y2="800.9" stroke="#000" stroke-width="1.3" stroke-dasharray="6,3.5"/>
<line x1="507.2" y1="781.0" x2="598.8" y2="752.0" stroke="#000" stroke-width="1.3" stroke-dasharray="6,3.5"/>
<line x1="507.2" y1="789.0" x2="598.8" y2="812.9" stroke="#000" stroke-width="1.3" stroke-dasharray="6,3.5"/>
<line x1="507.2" y1="793.0" x2="598.8" y2="795.0" stroke="#000" stroke-width="1.3" stroke-dasharray="6,3.5"/>
<line x1="507.2" y1="798.9" x2="598.8" y2="818.9" stroke="#000" stroke-width="1.3" stroke-dasharray="6,3.5"/>
<line x1="507.2" y1="804.9" x2="598.8" y2="915.6" stroke="#000" stroke-width="1.3" stroke-dasharray="6,3.5"/>
<line x1="507.2" y1="810.9" x2="598.8" y2="885.8" stroke="#000" stroke-width="1.3" stroke-dasharray="6,3.5"/>
<line x1="507.2" y1="818.1" x2="598.8" y2="846.7" stroke="#000" stroke-width="1.3" stroke-dasharray="6,3.5"/>
<line x1="507.2" y1="834.8" x2="598.8" y2="905.7" stroke="#000" stroke-width="1.3" stroke-dasharray="6,3.5"/>
<line x1="507.2" y1="838.8" x2="598.8" y2="777.0" stroke="#000" stroke-width="1.3" stroke-dasharray="6,3.5"/>
<line x1="507.2" y1="842.8" x2="598.8" y2="747.2" stroke="#000" stroke-width="1.3" stroke-dasharray="6,3.5"/>
<line x1="507.2" y1="846.7" x2="598.8" y2="842.8" stroke="#000" stroke-width="1.3" stroke-dasharray="6,3.5"/>
<line x1="507.2" y1="850.7" x2="598.8" y2="830.8" stroke="#000" stroke-width="1.3" stroke-dasharray="6,3.5"/>
<line x1="507.2" y1="854.7" x2="598.8" y2="866.7" stroke="#000" stroke-width="1.3" stroke-dasharray="6,3.5"/>
<line x1="507.2" y1="858.7" x2="598.8" y2="771.1" stroke="#000" stroke-width="1.3" stroke-dasharray="6,3.5"/>
<line x1="507.2" y1="862.7" x2="598.8" y2="715.3" stroke="#000" stroke-width="1.3" stroke-dasharray="6,3.5"/>
<line x1="507.2" y1="866.7" x2="598.8" y2="783.0" stroke="#000" stroke-width="1.3" stroke-dasharray="6,3.5"/>
<line x1="507.2" y1="882.6" x2="598.8" y2="824.8" stroke="#000" stroke-width="1.3" stroke-dasharray="6,3.5"/>
<line x1="507.2" y1="888.6" x2="598.8" y2="707.4" stroke="#000" stroke-width="1.3" stroke-dasharray="6,3.5"/>
<line x1="507.2" y1="905.7" x2="598.8" y2="836.8" stroke="#000" stroke-width="1.3" stroke-dasharray="6,3.5"/>
<line x1="507.2" y1="930.4" x2="598.8" y2="860.7" stroke="#000" stroke-width="1.3" stroke-dasharray="6,3.5"/>
<line x1="507.2" y1="930.4" x2="598.8" y2="783.0" stroke="#000" stroke-width="1.3" stroke-dasharray="6,3.5"/>
<line x1="507.2" y1="905.7" x2="598.8" y2="747.2" stroke="#000" stroke-width="1.3" stroke-dasharray="6,3.5"/>
<line x1="507.2" y1="751.6" x2="598.8" y2="752.0" stroke="#000" stroke-width="1.3" stroke-dasharray="6,3.5"/>
<line x1="507.2" y1="751.6" x2="598.8" y2="838.8" stroke="#000" stroke-width="1.3" stroke-dasharray="6,3.5"/>
<line x1="507.2" y1="888.6" x2="598.8" y2="715.3" stroke="#000" stroke-width="1.3" stroke-dasharray="6,3.5"/>
<circle cx="507.2" cy="751.6" r="4.7" fill="#000"/>
<circle cx="507.2" cy="771.5" r="4.7" fill="#000"/>
<circle cx="507.2" cy="781.0" r="4.7" fill="#000"/>
<circle cx="507.2" cy="789.0" r="4.7" fill="#000"/>
<circle cx="507.2" cy="793.0" r="4.7" fill="#000"/>
<circle cx="507.2" cy="798.9" r="4.7" fill="#000"/>
<circle cx="507.2" cy="804.9" r="4.7" fill="#000"/>
<circle cx="507.2" cy="810.9" r="4.7" fill="#000"/>
<circle cx="507.2" cy="818.1" r="4.7" fill="#000"/>
<circle cx="507.2" cy="834.8" r="4.7" fill="#000"/>
<circle cx="507.2" cy="838.8" r="4.7" fill="#000"/>
<circle cx="507.2" cy="842.8" r="4.7" fill="#000"/>
<circle cx="507.2" cy="846.7" r="4.7" fill="#000"/>
<circle cx="507.2" cy="850.7" r="4.7" fill="#000"/>
<circle cx="507.2" cy="854.7" r="4.7" fill="#000"/>
<circle cx="507.2" cy="858.7" r="4.7" fill="#000"/>
<circle cx="507.2" cy="862.7" r="4.7" fill="#000"/>
<circle cx="507.2" cy="866.7" r="4.7" fill="#000"/>
<circle cx="507.2" cy="882.6" r="4.7" fill="#000"/>
<circle cx="507.2" cy="888.6" r="4.7" fill="#000"/>
<circle cx="507.2" cy="905.7" r="4.7" fill="#000"/>
<circle cx="507.2" cy="930.4" r="4.7" fill="#000"/>
<circle cx="598.8" cy="707.4" r="4.7" fill="#f92a73"/>
<circle cx="598.8" cy="715.3" r="4.7" fill="#f92a73"/>
<circle cx="598.8" cy="730.5" r="4.7" fill="#f92a73"/>
<circle cx="598.8" cy="747.2" r="4.7" fill="#f92a73"/>
<circle cx="598.8" cy="752.0" r="4.7" fill="#f92a73"/>
<circle cx="598.8" cy="771.1" r="4.7" fill="#f92a73"/>
<circle cx="598.8" cy="777.0" r="4.7" fill="#f92a73"/>
<circle cx="598.8" cy="783.0" r="4.7" fill="#f92a73"/>
<circle cx="598.8" cy="789.0" r="4.7" fill="#f92a73"/>
<circle cx="598.8" cy="795.0" r="4.7" fill="#f92a73"/>
<circle cx="598.8" cy="800.9" r="4.7" fill="#f92a73"/>
<circle cx="598.8" cy="806.9" r="4.7" fill="#f92a73"/>
<circle cx="598.8" cy="812.9" r="4.7" fill="#f92a73"/>
<circle cx="598.8" cy="818.9" r="4.7" fill="#f92a73"/>
<circle cx="598.8" cy="824.8" r="4.7" fill="#f92a73"/>
<circle cx="598.8" cy="830.8" r="4.7" fill="#f92a73"/>
<circle cx="598.8" cy="836.8" r="4.7" fill="#f92a73"/>
<circle cx="598.8" cy="842.8" r="4.7" fill="#f92a73"/>
<circle cx="598.8" cy="846.7" r="4.7" fill="#f92a73"/>
<circle cx="598.8" cy="854.7" r="4.7" fill="#f92a73"/>
<circle cx="598.8" cy="860.7" r="4.7" fill="#f92a73"/>
<circle cx="598.8" cy="866.7" r="4.7" fill="#f92a73"/>
<circle cx="598.8" cy="885.8" r="4.7" fill="#f92a73"/>
<circle cx="598.8" cy="905.7" r="4.7" fill="#f92a73"/>
<circle cx="598.8" cy="915.6" r="4.7" fill="#f92a73"/>
<text x="679.3" y="590.5" font-size="40" font-weight="bold" stroke="#000" stroke-width="1.8" stroke-linejoin="round">g</text>
<rect x="1061.1" y="620.9" width="32.8" height="32.8" fill="#000"/>
<rect x="1137.4" y="620.9" width="32.8" height="32.8" fill="#f92a73"/>
<rect x="1028.3" y="653.6" width="32.8" height="32.8" fill="#000"/>
<rect x="1137.4" y="653.6" width="32.8" height="32.8" fill="#f92a73"/>
<rect x="962.7" y="686.4" width="32.8" height="32.8" fill="#000"/>
<rect x="1137.4" y="686.4" width="32.8" height="32.8" fill="#f92a73"/>
<rect x="962.7" y="719.1" width="32.8" height="32.8" fill="#000"/>
<rect x="1061.1" y="719.1" width="32.8" height="32.8" fill="#000"/>
<rect x="1137.4" y="719.1" width="32.8" height="32.8" fill="#f92a73"/>
<rect x="1028.3" y="751.9" width="32.8" height="32.8" fill="#000"/>
<rect x="1137.4" y="751.9" width="32.8" height="32.8" fill="#f92a73"/>
<rect x="1028.3" y="784.6" width="32.8" height="32.8" fill="#000"/>
<rect x="1137.4" y="784.6" width="32.8" height="32.8" fill="#f92a73"/>
<rect x="1028.3" y="817.4" width="32.8" height="32.8" fill="#000"/>
<rect x="1137.4" y="817.4" width="32.8" height="32.8" fill="#f92a73"/>
<rect x="1028.3" y="850.1" width="32.8" height="32.8" fill="#000"/>
<rect x="1137.4" y="850.1" width="32.8" height="32.8" fill="#f92a73"/>
<rect x="1268.6" y="850.1" width="32.8" height="32.8" fill="#29a9e1"/>
<rect x="1093.9" y="882.9" width="32.8" height="32.8" fill="#000"/>
<rect x="1170.2" y="882.9" width="32.8" height="32.8" fill="#29a9e1"/>
<rect x="1028.3" y="915.6" width="32.8" height="32.8" fill="#000"/>
<rect x="1203.0" y="915.6" width="32.8" height="32.8" fill="#29a9e1"/>
<rect x="1061.1" y="948.4" width="32.8" height="32.8" fill="#000"/>
<rect x="1235.8" y="948.4" width="32.8" height="32.8" fill="#29a9e1"/>
<rect x="995.5" y="981.1" width="32.8" height="32.8" fill="#000"/>
<rect x="1301.4" y="981.1" width="32.8" height="32.8" fill="#29a9e1"/>
<rect x="897.1" y="1013.9" width="32.8" height="32.8" fill="#000"/>
<rect x="1334.2" y="1013.9" width="32.8" height="32.8" fill="#29a9e1"/>
<rect x="1028.3" y="1046.7" width="32.8" height="32.8" fill="#000"/>
<rect x="1367.0" y="1046.7" width="32.8" height="32.8" fill="#028d8d"/>
<rect x="1399.8" y="1046.7" width="32.8" height="32.8" fill="#028d8d"/>
<rect x="1432.6" y="1046.7" width="32.8" height="32.8" fill="#29a9e1"/>
<rect x="1465.4" y="1046.7" width="32.8" height="32.8" fill="#29a9e1"/>
<rect x="1498.2" y="1046.7" width="32.8" height="32.8" fill="#29a9e1"/>
<rect x="929.9" y="1079.4" width="32.8" height="32.8" fill="#000"/>
<rect x="1531.0" y="1079.4" width="32.8" height="32.8" fill="#028d8d"/>
<line x1="897.1" y1="620.9" x2="1126.7" y2="620.9" stroke="#000" stroke-width="2"/>
<line x1="1137.4" y1="620.9" x2="1563.8" y2="620.9" stroke="#000" stroke-width="2"/>
<line x1="897.1" y1="653.6" x2="1126.7" y2="653.6" stroke="#000" stroke-width="2"/>
<line x1="1137.4" y1="653.6" x2="1563.8" y2="653.6" stroke="#000" stroke-width="2"/>
<line x1="897.1" y1="686.4" x2="1126.7" y2="686.4" stroke="#000" stroke-width="2"/>
<line x1="1137.4" y1="686.4" x2="1563.8" y2="686.4" stroke="#000" stroke-width="2"/>
<line x1="897.1" y1="719.1" x2="1126.7" y2="719.1" stroke="#000" stroke-width="2"/>
<line x1="1137.4" y1="719.1" x2="1563.8" y2="719.1" stroke="#000" stroke-width="2"/>
<line x1="897.1" y1="751.9" x2="1126.7" y2="751.9" stroke="#000" stroke-width="2"/>
<line x1="1137.4" y1="751.9" x2="1563.8" y2="751.9" stroke="#000" stroke-width="2"/>
<line x1="897.1" y1="784.6" x2="1126.7" y2="784.6" stroke="#000" stroke-width="2"/>
<line x1="1137.4" y1="784.6" x2="1563.8" y2="784.6" stroke="#000" stroke-width="2"/>
<line x1="897.1" y1="817.4" x2="1126.7" y2="817.4" stroke="#000" stroke-width="2"/>
<line x1="1137.4" y1="817.4" x2="1563.8" y2="817.4" stroke="#000" stroke-width="2"/>
<line x1="897.1" y1="850.1" x2="1126.7" y2="850.1" stroke="#000" stroke-width="2"/>
<line x1="1137.4" y1="850.1" x2="1563.8" y2="850.1" stroke="#000" stroke-width="2"/>
<line x1="897.1" y1="882.9" x2="1126.7" y2="882.9" stroke="#000" stroke-width="2"/>
<line x1="1137.4" y1="882.9" x2="1563.8" y2="882.9" stroke="#000" stroke-width="2"/>
<line x1="897.1" y1="915.6" x2="1126.7" y2="915.6" stroke="#000" stroke-width="2"/>
<line x1="1137.4" y1="915.6" x2="1563.8" y2="915.6" stroke="#000" stroke-width="2"/>
<line x1="897.1" y1="948.4" x2="1126.7" y2="948.4" stroke="#000" stroke-width="2"/>
<line x1="1137.4" y1="948.4" x2="1563.8" y2="948.4" stroke="#000" stroke-width="2"/>
<line x1="897.1" y1="981.1" x2="1126.7" y2="981.1" stroke="#000" stroke-width="2"/>
<line x1="1137.4" y1="981.1" x2="1563.8" y2="981.1" stroke="#000" stroke-width="2"/>
<line x1="897.1" y1="1013.9" x2="1126.7" y2="1013.9" stroke="#000" stroke-width="2"/>
<line x1="1137.4" y1="1013.9" x2="1563.8" y2="1013.9" stroke="#000" stroke-width="2"/>
<line x1="897.1" y1="1046.7" x2="1126.7" y2="1046.7" stroke="#000" stroke-width="2"/>
<line x1="1137.4" y1="1046.7" x2="1563.8" y2="1046.7" stroke="#000" stroke-width="2"/>
<line x1="897.1" y1="1079.4" x2="1126.7" y2="1079.4" stroke="#000" stroke-width="2"/>
<line x1="1137.4" y1="1079.4" x2="1563.8" y2="1079.4" stroke="#000" stroke-width="2"/>
<line x1="897.1" y1="1112.2" x2="1126.7" y2="1112.2" stroke="#000" stroke-width="2"/>
<line x1="1137.4" y1="1112.2" x2="1563.8" y2="1112.2" stroke="#000" stroke-width="2"/>
<line x1="897.1" y1="619.9" x2="897.1" y2="1113.2" stroke="#000" stroke-width="2"/>
<line x1="929.9" y1="619.9" x2="929.9" y2="1113.2" stroke="#000" stroke-width="2"/>
<line x1="962.7" y1="619.9" x2="962.7" y2="1113.2" stroke="#000" stroke-width="2"/>
<line x1="995.5" y1="619.9" x2="995.5" y2="1113.2" stroke="#000" stroke-width="2"/>
<line x1="1028.3" y1="619.9" x2="1028.3" y2="1113.2" stroke="#000" stroke-width="2"/>
<line x1="1061.1" y1="619.9" x2="1061.1" y2="1113.2" stroke="#000" stroke-width="2"/>
<line x1="1093.9" y1="619.9" x2="1093.9" y2="1113.2" stroke="#000" stroke-width="2"/>
<line x1="1126.7" y1="619.9" x2="1126.7" y2="1113.2" stroke="#000" stroke-width="2"/>
<line x1="1137.4" y1="619.9" x2="1137.4" y2="1113.2" stroke="#000" stroke-width="2"/>
<line x1="1170.2" y1="619.9" x2="1170.2" y2="1113.2" stroke="#000" stroke-width="2"/>
<line x1="1203.0" y1="619.9" x2="1203.0" y2="1113.2" stroke="#000" stroke-width="2"/>
<line x1="1235.8" y1="619.9" x2="1235.8" y2="1113.2" stroke="#000" stroke-width="2"/>
<line x1="1268.6" y1="619.9" x2="1268.6" y2="1113.2" stroke="#000" stroke-width="2"/>
<line x1="1301.4" y1="619.9" x2="1301.4" y2="1113.2" stroke="#000" stroke-width="2"/>
<line x1="1334.2" y1="619.9" x2="1334.2" y2="1113.2" stroke="#000" stroke-width="2"/>
<line x1="1367.0" y1="619.9" x2="1367.0" y2="1113.2" stroke="#000" stroke-width="2"/>
<line x1="1399.8" y1="619.9" x2="1399.8" y2="1113.2" stroke="#000" stroke-width="2"/>
<line x1="1432.6" y1="619.9" x2="1432.6" y2="1113.2" stroke="#000" stroke-width="2"/>
<line x1="1465.4" y1="619.9" x2="1465.4" y2="1113.2" stroke="#000" stroke-width="2"/>
<line x1="1498.2" y1="619.9" x2="1498.2" y2="1113.2" stroke="#000" stroke-width="2"/>
<line x1="1531.0" y1="619.9" x2="1531.0" y2="1113.2" stroke="#000" stroke-width="2"/>
<line x1="1563.8" y1="619.9" x2="1563.8" y2="1113.2" stroke="#000" stroke-width="2"/>
<circle cx="1285.0" cy="866.5" r="6.7" fill="#000"/>
<text x="886.6" y="644.1" font-size="27.8" text-anchor="end" textLength="188.8" lengthAdjust="spacingAndGlyphs">MSK EGFR_001</text>
<text x="886.6" y="676.9" font-size="27.8" text-anchor="end" textLength="208.1" lengthAdjust="spacingAndGlyphs">MSK EGFR_0029</text>
<text x="886.6" y="709.6" font-size="27.8" text-anchor="end" textLength="205.5" lengthAdjust="spacingAndGlyphs">MSK EGFR_0077</text>
<text x="886.6" y="742.4" font-size="27.8" text-anchor="end" textLength="62.8" lengthAdjust="spacingAndGlyphs">TH52</text>
<text x="886.6" y="775.1" font-size="27.8" text-anchor="end" textLength="82.5" lengthAdjust="spacingAndGlyphs">TH079</text>
<text x="886.6" y="807.9" font-size="27.8" text-anchor="end" textLength="79.5" lengthAdjust="spacingAndGlyphs">TH108</text>
<text x="886.6" y="840.6" font-size="27.8" text-anchor="end" textLength="75.6" lengthAdjust="spacingAndGlyphs">TH153</text>
<text x="886.6" y="873.4" font-size="27.8" text-anchor="end" textLength="79.5" lengthAdjust="spacingAndGlyphs">TH016</text>
<text x="886.6" y="906.1" font-size="27.8" text-anchor="end" textLength="80.8" lengthAdjust="spacingAndGlyphs">TH171*</text>
<text x="886.6" y="938.9" font-size="27.8" text-anchor="end" textLength="83.8" lengthAdjust="spacingAndGlyphs">TH087</text>
<text x="886.6" y="971.6" font-size="27.8" text-anchor="end" textLength="103.9" lengthAdjust="spacingAndGlyphs">CL0084</text>
<text x="886.6" y="1004.4" font-size="27.8" text-anchor="end" textLength="81.5" lengthAdjust="spacingAndGlyphs">TH239</text>
<text x="886.6" y="1037.1" font-size="27.8" text-anchor="end" textLength="192.1" lengthAdjust="spacingAndGlyphs">MSK EGFR_089</text>
<text x="886.6" y="1069.9" font-size="27.8" text-anchor="end" textLength="82.5" lengthAdjust="spacingAndGlyphs">TH067</text>
<text x="886.6" y="1102.6" font-size="27.8" text-anchor="end" textLength="191.4" lengthAdjust="spacingAndGlyphs">MSK EGFR_056</text>
<text x="1011.0" y="603.3" font-size="27.3" text-anchor="middle" textLength="208.0" lengthAdjust="spacingAndGlyphs">Driver mutations</text>
<text x="1350.2" y="603.3" font-size="27.3" text-anchor="middle" textLength="271.5" lengthAdjust="spacingAndGlyphs">Resistance mutations</text>
<text x="922.5" y="1121.8" font-size="28.5" text-anchor="end" transform="rotate(-90 922.5 1121.8)" textLength="252.0" lengthAdjust="spacingAndGlyphs">EGFR E746-A750del</text>
<text x="955.3" y="1121.8" font-size="28.5" text-anchor="end" transform="rotate(-90 955.3 1121.8)" textLength="282.6" lengthAdjust="spacingAndGlyphs">EGFR E746-S752delins</text>
<text x="988.1" y="1121.8" font-size="28.5" text-anchor="end" transform="rotate(-90 988.1 1121.8)" textLength="273.0" lengthAdjust="spacingAndGlyphs">EGFR L747-T751delins</text>
<text x="1020.9" y="1121.8" font-size="28.5" text-anchor="end" transform="rotate(-90 1020.9 1121.8)" textLength="248.0" lengthAdjust="spacingAndGlyphs">EGFR G7192; E709A</text>
<text x="1053.7" y="1121.8" font-size="28.5" text-anchor="end" transform="rotate(-90 1053.7 1121.8)" textLength="217.5" lengthAdjust="spacingAndGlyphs">EGFR exon 19 del</text>
<text x="1086.5" y="1121.8" font-size="28.5" text-anchor="end" transform="rotate(-90 1086.5 1121.8)" textLength="154.3" lengthAdjust="spacingAndGlyphs">EGFR L858R</text>
<text x="1119.3" y="1121.8" font-size="28.5" text-anchor="end" transform="rotate(-90 1119.3 1121.8)" textLength="127.4" lengthAdjust="spacingAndGlyphs">EML4-ALK</text>
<text x="1162.8" y="1121.8" font-size="28.5" text-anchor="end" transform="rotate(-90 1162.8 1121.8)" textLength="162.0" lengthAdjust="spacingAndGlyphs">EGFR T790M</text>
<text x="1195.6" y="1121.8" font-size="28.5" text-anchor="end" transform="rotate(-90 1195.6 1121.8)" textLength="142.8" lengthAdjust="spacingAndGlyphs">ALK E1210K</text>
<text x="1228.4" y="1121.8" font-size="28.5" text-anchor="end" transform="rotate(-90 1228.4 1121.8)" textLength="139.0" lengthAdjust="spacingAndGlyphs">APC2 Q158</text>
<text x="1261.2" y="1121.8" font-size="28.5" text-anchor="end" transform="rotate(-90 1261.2 1121.8)" textLength="177.2" lengthAdjust="spacingAndGlyphs">CTNNB1 S33C</text>
<text x="1294.0" y="1121.8" font-size="28.5" text-anchor="end" transform="rotate(-90 1294.0 1121.8)" textLength="175.3" lengthAdjust="spacingAndGlyphs">CTNNB1 S37C</text>
<text x="1326.8" y="1121.8" font-size="28.5" text-anchor="end" transform="rotate(-90 1326.8 1121.8)" textLength="181.0" lengthAdjust="spacingAndGlyphs">PIK3CA E545K</text>
<text x="1359.6" y="1121.8" font-size="28.5" text-anchor="end" transform="rotate(-90 1359.6 1121.8)" textLength="181.0" lengthAdjust="spacingAndGlyphs">PIK3CA E545K</text>
<text x="1392.4" y="1121.8" font-size="28.5" text-anchor="end" transform="rotate(-90 1392.4 1121.8)" textLength="188.7" lengthAdjust="spacingAndGlyphs">PPP2CA D160N</text>
<text x="1425.2" y="1121.8" font-size="28.5" text-anchor="end" transform="rotate(-90 1425.2 1121.8)" textLength="188.7" lengthAdjust="spacingAndGlyphs">PPP2CA G247A</text>
<text x="1458.0" y="1121.8" font-size="28.5" text-anchor="end" transform="rotate(-90 1458.0 1121.8)" textLength="179.2" lengthAdjust="spacingAndGlyphs">PPP2CA R135T</text>
<text x="1490.8" y="1121.8" font-size="28.5" text-anchor="end" transform="rotate(-90 1490.8 1121.8)" textLength="169.6" lengthAdjust="spacingAndGlyphs">PPP2CA S43F</text>
<text x="1523.6" y="1121.8" font-size="28.5" text-anchor="end" transform="rotate(-90 1523.6 1121.8)" textLength="169.6" lengthAdjust="spacingAndGlyphs">PPP2CA S93L</text>
<text x="1556.4" y="1121.8" font-size="28.5" text-anchor="end" transform="rotate(-90 1556.4 1121.8)" textLength="158.0" lengthAdjust="spacingAndGlyphs">MET H1094Y</text>
<rect x="1574.0" y="619.4" width="33.8" height="34.0" fill="#000"/>
<rect x="1574.0" y="687.2" width="33.8" height="33.8" fill="#f92a73" stroke="#000" stroke-width="2"/>
<rect x="1574.0" y="755.7" width="33.8" height="33.0" fill="#29a9e1" stroke="#000" stroke-width="2"/>
<rect x="1574.0" y="823.5" width="33.8" height="33.0" fill="#028d8d" stroke="#000" stroke-width="2"/>
<rect x="1574.0" y="891.3" width="33.8" height="33.2" fill="#fff" stroke="#000" stroke-width="2"/>
<circle cx="1591.2" cy="907.9" r="6.7" fill="#000"/>
<text x="1617.3" y="630.2" font-size="27" textLength="75.4" lengthAdjust="spacingAndGlyphs">Driver</text>
<text x="1617.3" y="662.4" font-size="27" textLength="126.6" lengthAdjust="spacingAndGlyphs">mutations</text>
<text x="1617.3" y="710.2" font-size="27" textLength="61.8" lengthAdjust="spacingAndGlyphs">SBS1</text>
<text x="1617.3" y="765.2" font-size="27" textLength="208.4" lengthAdjust="spacingAndGlyphs">APOBEC (2 + 13).</text>
<text x="1615.8" y="794.6" font-size="27" textLength="176.7" lengthAdjust="spacingAndGlyphs">(YTCN C&gt;T/G)</text>
<text x="1617.3" y="832.5" font-size="27" textLength="208.4" lengthAdjust="spacingAndGlyphs">APOBEC (2 + 13).</text>
<text x="1615.8" y="861.6" font-size="27" textLength="176.7" lengthAdjust="spacingAndGlyphs">(RTCN C&gt;T/G)</text>
<text x="1617.3" y="900.7" font-size="27" textLength="115.6" lengthAdjust="spacingAndGlyphs">Detected</text>
<text x="1617.3" y="930.2" font-size="27" textLength="166.7" lengthAdjust="spacingAndGlyphs">pretreatment</text>
</svg></body></html>
